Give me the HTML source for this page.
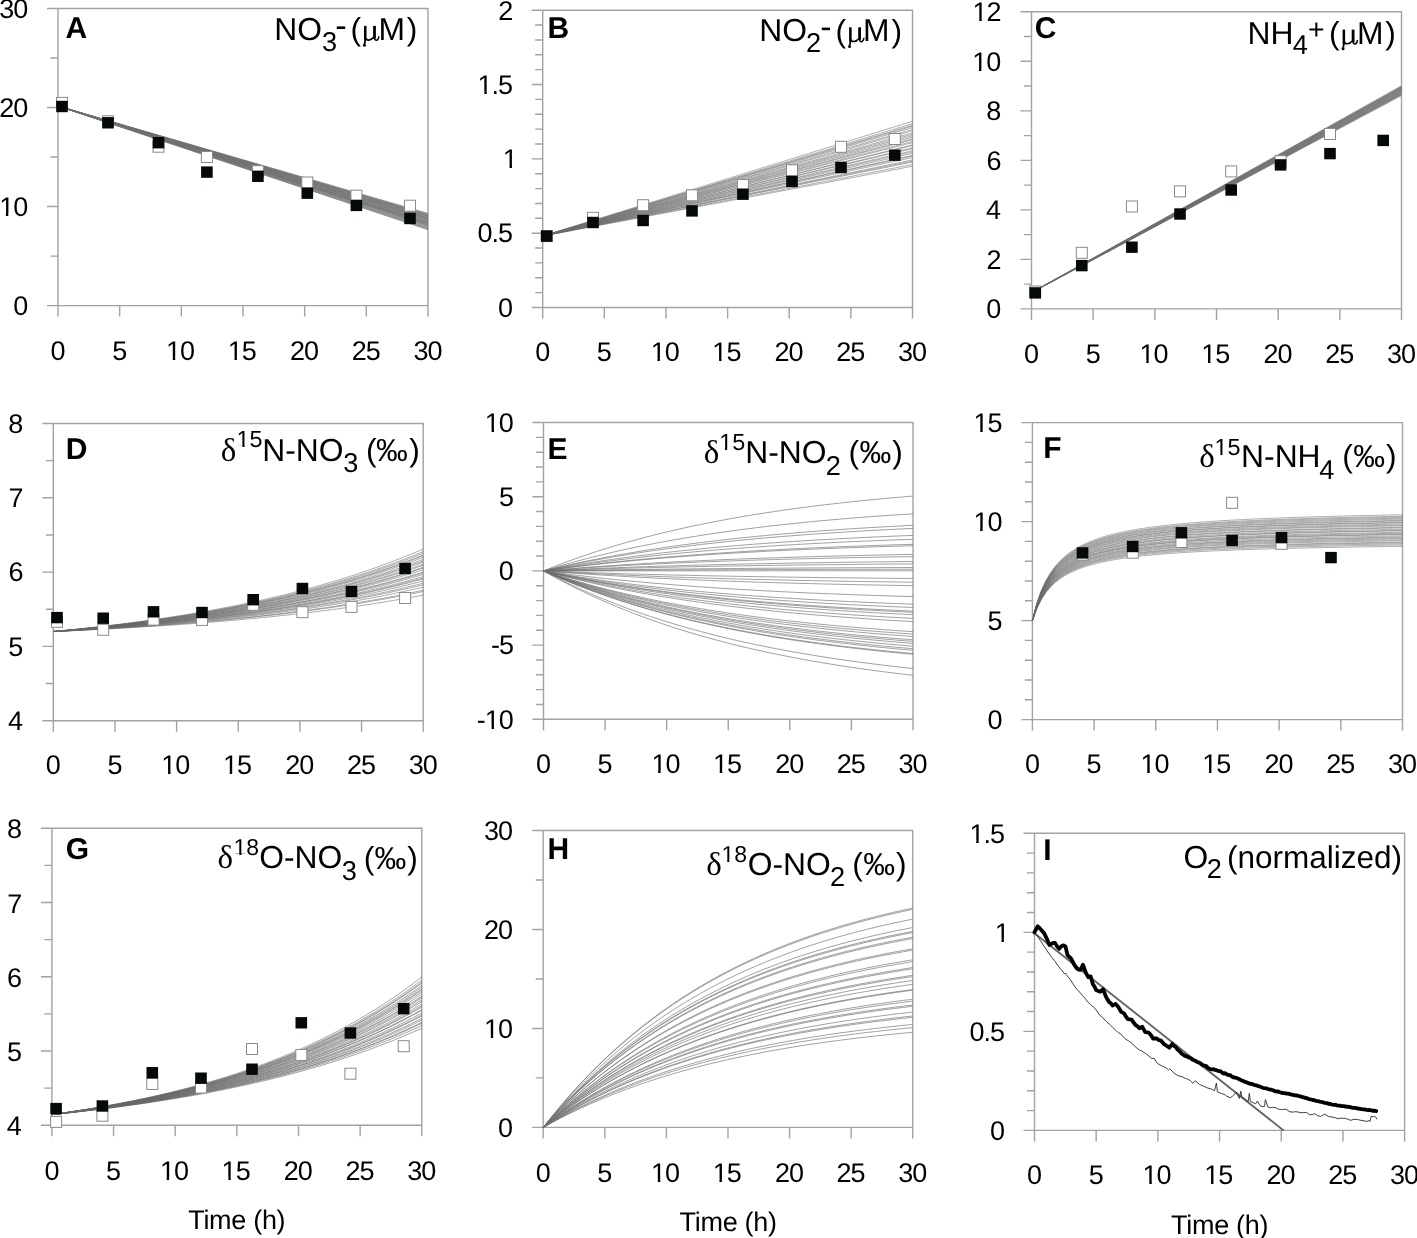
<!DOCTYPE html>
<html><head><meta charset="utf-8"><style>
html,body{margin:0;padding:0;background:#fff;}
body{width:1417px;height:1238px;overflow:hidden;font-family:"Liberation Sans",sans-serif;}
svg{display:block;}
</style></head><body>
<svg width="1417" height="1238" viewBox="0 0 1417 1238" style="will-change:transform;text-rendering:geometricPrecision">
<rect width="1417" height="1238" fill="#fff"/>
<path d="M58 8.5H428V305.6H58ZM47 305.6H58M50.5 256.08H58M47 206.57H58M50.5 157.05H58M47 107.53H58M50.5 58.02H58M47 8.5H58M58 305.6V316.6M119.67 305.6V316.6M181.33 305.6V316.6M243 305.6V316.6M304.67 305.6V316.6M366.33 305.6V316.6M428 305.6V316.6" fill="none" stroke="#a2a2a2" stroke-width="1.4"/>
<path d="M542.7 10.2H912.5V307.5H542.7ZM531.7 307.5H542.7M535.2 292.63H542.7M535.2 277.77H542.7M535.2 262.9H542.7M535.2 248.04H542.7M531.7 233.18H542.7M535.2 218.31H542.7M535.2 203.44H542.7M535.2 188.58H542.7M535.2 173.72H542.7M531.7 158.85H542.7M535.2 143.98H542.7M535.2 129.12H542.7M535.2 114.25H542.7M535.2 99.39H542.7M531.7 84.52H542.7M535.2 69.66H542.7M535.2 54.79H542.7M535.2 39.93H542.7M535.2 25.06H542.7M531.7 10.2H542.7M542.7 307.5V318.5M604.33 307.5V318.5M665.97 307.5V318.5M727.6 307.5V318.5M789.23 307.5V318.5M850.87 307.5V318.5M912.5 307.5V318.5" fill="none" stroke="#a2a2a2" stroke-width="1.4"/>
<path d="M1031.5 11.8H1401.5V308.9H1031.5ZM1020.5 308.9H1031.5M1024 284.14H1031.5M1020.5 259.38H1031.5M1024 234.62H1031.5M1020.5 209.87H1031.5M1024 185.11H1031.5M1020.5 160.35H1031.5M1024 135.59H1031.5M1020.5 110.83H1031.5M1024 86.07H1031.5M1020.5 61.32H1031.5M1024 36.56H1031.5M1020.5 11.8H1031.5M1031.5 308.9V319.9M1093.17 308.9V319.9M1154.83 308.9V319.9M1216.5 308.9V319.9M1278.17 308.9V319.9M1339.83 308.9V319.9M1401.5 308.9V319.9" fill="none" stroke="#a2a2a2" stroke-width="1.4"/>
<path d="M53.3 423.5H423.2V720.7H53.3ZM42.3 720.7H53.3M45.8 683.55H53.3M42.3 646.4H53.3M45.8 609.25H53.3M42.3 572.1H53.3M45.8 534.95H53.3M42.3 497.8H53.3M45.8 460.65H53.3M42.3 423.5H53.3M53.3 720.7V731.7M114.95 720.7V731.7M176.6 720.7V731.7M238.25 720.7V731.7M299.9 720.7V731.7M361.55 720.7V731.7M423.2 720.7V731.7" fill="none" stroke="#a2a2a2" stroke-width="1.4"/>
<path d="M543.5 422.5H913V719.3H543.5ZM532.5 719.3H543.5M536 704.46H543.5M536 689.62H543.5M536 674.78H543.5M536 659.94H543.5M532.5 645.1H543.5M536 630.26H543.5M536 615.42H543.5M536 600.58H543.5M536 585.74H543.5M532.5 570.9H543.5M536 556.06H543.5M536 541.22H543.5M536 526.38H543.5M536 511.54H543.5M532.5 496.7H543.5M536 481.86H543.5M536 467.02H543.5M536 452.18H543.5M536 437.34H543.5M532.5 422.5H543.5M543.5 719.3V730.3M605.08 719.3V730.3M666.67 719.3V730.3M728.25 719.3V730.3M789.83 719.3V730.3M851.42 719.3V730.3M913 719.3V730.3" fill="none" stroke="#a2a2a2" stroke-width="1.4"/>
<path d="M1032.4 422.6H1402.5V719.6H1032.4ZM1021.4 719.6H1032.4M1024.9 699.8H1032.4M1024.9 680H1032.4M1024.9 660.2H1032.4M1024.9 640.4H1032.4M1021.4 620.6H1032.4M1024.9 600.8H1032.4M1024.9 581H1032.4M1024.9 561.2H1032.4M1024.9 541.4H1032.4M1021.4 521.6H1032.4M1024.9 501.8H1032.4M1024.9 482H1032.4M1024.9 462.2H1032.4M1024.9 442.4H1032.4M1021.4 422.6H1032.4M1032.4 719.6V730.6M1094.08 719.6V730.6M1155.77 719.6V730.6M1217.45 719.6V730.6M1279.13 719.6V730.6M1340.82 719.6V730.6M1402.5 719.6V730.6" fill="none" stroke="#a2a2a2" stroke-width="1.4"/>
<path d="M51.9 828.2H421.8V1125.2H51.9ZM40.9 1125.2H51.9M44.4 1088.08H51.9M40.9 1050.95H51.9M44.4 1013.83H51.9M40.9 976.7H51.9M44.4 939.58H51.9M40.9 902.45H51.9M44.4 865.33H51.9M40.9 828.2H51.9M51.9 1125.2V1136.2M113.55 1125.2V1136.2M175.2 1125.2V1136.2M236.85 1125.2V1136.2M298.5 1125.2V1136.2M360.15 1125.2V1136.2M421.8 1125.2V1136.2" fill="none" stroke="#a2a2a2" stroke-width="1.4"/>
<path d="M543.2 830.5H912.75V1127.4H543.2ZM532.2 1127.4H543.2M535.7 1077.92H543.2M532.2 1028.43H543.2M535.7 978.95H543.2M532.2 929.47H543.2M535.7 879.98H543.2M532.2 830.5H543.2M543.2 1127.4V1138.4M604.79 1127.4V1138.4M666.38 1127.4V1138.4M727.98 1127.4V1138.4M789.57 1127.4V1138.4M851.16 1127.4V1138.4M912.75 1127.4V1138.4" fill="none" stroke="#a2a2a2" stroke-width="1.4"/>
<path d="M1034.5 833.3H1404.6V1130.4H1034.5ZM1023.5 1130.4H1034.5M1027 1110.59H1034.5M1027 1090.79H1034.5M1027 1070.98H1034.5M1027 1051.17H1034.5M1023.5 1031.37H1034.5M1027 1011.56H1034.5M1027 991.75H1034.5M1027 971.95H1034.5M1027 952.14H1034.5M1023.5 932.33H1034.5M1027 912.53H1034.5M1027 892.72H1034.5M1027 872.91H1034.5M1027 853.11H1034.5M1023.5 833.3H1034.5M1034.5 1130.4V1141.4M1096.18 1130.4V1141.4M1157.87 1130.4V1141.4M1219.55 1130.4V1141.4M1281.23 1130.4V1141.4M1342.92 1130.4V1141.4M1404.6 1130.4V1141.4" fill="none" stroke="#a2a2a2" stroke-width="1.4"/>
<path d="M58 106.05 243 159.72 428 213.4M58 106.05 243 160.12 428 214.19M58 106.05 243 160.44 428 214.83M58 106.05 243 160.61 428 215.17M58 106.05 243 160.87 428 215.7M58 106.05 243 161.14 428 216.24M58 106.05 243 161.33 428 216.6M58 106.05 243 161.64 428 217.23M58 106.05 243 161.92 428 217.78M58 106.05 243 162.2 428 218.35M58 106.05 243 162.33 428 218.61M58 106.05 243 162.62 428 219.2M58 106.05 243 162.84 428 219.63M58 106.05 243 163.22 428 220.4M58 106.05 243 163.46 428 220.87M58 106.05 243 163.6 428 221.15M58 106.05 243 164.02 428 221.99M58 106.05 243 164.27 428 222.5M58 106.05 243 164.47 428 222.9M58 106.05 243 164.72 428 223.39M58 106.05 243 164.89 428 223.74M58 106.05 243 165.12 428 224.2M58 106.05 243 165.47 428 224.89M58 106.05 243 165.64 428 225.24M58 106.05 243 165.92 428 225.79M58 106.05 243 166.36 428 226.67M58 106.05 243 166.71 428 227.36M58 106.05 243 167.1 428 228.16M58 106.05 243 167.5 428 228.95M58 106.05 243 167.89 428 229.74" fill="none" stroke="#707070" stroke-width="0.7" stroke-linejoin="round"/>
<path d="M542.7 236 727.6 178.62 912.5 121.24M542.7 236 727.6 179.83 912.5 123.66M542.7 236 727.6 180.58 912.5 125.17M542.7 236 727.6 181.06 912.5 126.12M542.7 236 727.6 181.74 912.5 127.48M542.7 236 727.6 182.68 912.5 129.37M542.7 236 727.6 183.38 912.5 130.76M542.7 236 727.6 184.41 912.5 132.83M542.7 236 727.6 185.1 912.5 134.2M542.7 236 727.6 185.81 912.5 135.61M542.7 236 727.6 186.53 912.5 137.07M542.7 236 727.6 187.34 912.5 138.68M542.7 236 727.6 187.82 912.5 139.64M542.7 236 727.6 188.72 912.5 141.45M542.7 236 727.6 189.33 912.5 142.66M542.7 236 727.6 190.47 912.5 144.94M542.7 236 727.6 190.77 912.5 145.55M542.7 236 727.6 191.92 912.5 147.85M542.7 236 727.6 192.28 912.5 148.57M542.7 236 727.6 193.36 912.5 150.71M542.7 236 727.6 193.92 912.5 151.85M542.7 236 727.6 194.71 912.5 153.42M542.7 236 727.6 195.69 912.5 155.38M542.7 236 727.6 196.01 912.5 156.02M542.7 236 727.6 196.78 912.5 157.56M542.7 236 727.6 197.98 912.5 159.96M542.7 236 727.6 198.52 912.5 161.04M542.7 236 727.6 199.05 912.5 162.1M542.7 236 727.6 200.27 912.5 164.54M542.7 236 727.6 201.14 912.5 166.28" fill="none" stroke="#6a6a6a" stroke-width="0.55" stroke-linejoin="round"/>
<path d="M1031.5 292.56 1216.5 189.19 1401.5 85.83M1031.5 292.56 1216.5 189.59 1401.5 86.61M1031.5 292.56 1216.5 189.83 1401.5 87.1M1031.5 292.56 1216.5 190.1 1401.5 87.64M1031.5 292.56 1216.5 190.23 1401.5 87.89M1031.5 292.56 1216.5 190.48 1401.5 88.39M1031.5 292.56 1216.5 190.7 1401.5 88.85M1031.5 292.56 1216.5 190.96 1401.5 89.36M1031.5 292.56 1216.5 191.28 1401.5 90.01M1031.5 292.56 1216.5 191.42 1401.5 90.29M1031.5 292.56 1216.5 191.73 1401.5 90.91M1031.5 292.56 1216.5 191.92 1401.5 91.28M1031.5 292.56 1216.5 192.18 1401.5 91.79M1031.5 292.56 1216.5 192.44 1401.5 92.32M1031.5 292.56 1216.5 192.75 1401.5 92.94M1031.5 292.56 1216.5 192.95 1401.5 93.35M1031.5 292.56 1216.5 193.09 1401.5 93.63M1031.5 292.56 1216.5 193.38 1401.5 94.2M1031.5 292.56 1216.5 193.6 1401.5 94.64M1031.5 292.56 1216.5 194.02 1401.5 95.48" fill="none" stroke="#707070" stroke-width="0.7" stroke-linejoin="round"/>
<path d="M53.3 631.54 62.55 630.63 71.8 629.7 81.04 628.72 90.29 627.71 99.54 626.65 108.78 625.56 118.03 624.43 127.28 623.25 136.53 622.03 145.77 620.76 155.02 619.45 164.27 618.08 173.52 616.66 182.76 615.18 192.01 613.65 201.26 612.07 210.51 610.42 219.75 608.7 229 606.93 238.25 605.08 247.5 603.16 256.75 601.18 265.99 599.11 275.24 596.97 284.49 594.74 293.74 592.43 302.98 590.03 312.23 587.54 321.48 584.95 330.72 582.26 339.97 579.48 349.22 576.58 358.47 573.58 367.71 570.46 376.96 567.22 386.21 563.85 395.46 560.36 404.7 556.74 413.95 552.97 423.2 549.07M53.3 631.54 62.55 630.66 71.8 629.75 81.04 628.81 90.29 627.83 99.54 626.81 108.78 625.75 118.03 624.65 127.28 623.51 136.53 622.32 145.77 621.1 155.02 619.82 164.27 618.49 173.52 617.12 182.76 615.69 192.01 614.21 201.26 612.67 210.51 611.07 219.75 609.41 229 607.69 238.25 605.9 247.5 604.04 256.75 602.11 265.99 600.11 275.24 598.03 284.49 595.88 293.74 593.64 302.98 591.31 312.23 588.9 321.48 586.39 330.72 583.79 339.97 581.09 349.22 578.28 358.47 575.37 367.71 572.35 376.96 569.21 386.21 565.95 395.46 562.56 404.7 559.05 413.95 555.4 423.2 551.62M53.3 631.54 62.55 630.68 71.8 629.79 81.04 628.86 90.29 627.89 99.54 626.89 108.78 625.86 118.03 624.78 127.28 623.66 136.53 622.5 145.77 621.29 155.02 620.04 164.27 618.74 173.52 617.39 182.76 615.99 192.01 614.53 201.26 613.02 210.51 611.45 219.75 609.83 229 608.14 238.25 606.38 247.5 604.56 256.75 602.67 265.99 600.7 275.24 598.66 284.49 596.55 293.74 594.35 302.98 592.07 312.23 589.7 321.48 587.24 330.72 584.68 339.97 582.03 349.22 579.28 358.47 576.42 367.71 573.46 376.96 570.38 386.21 567.18 395.46 563.86 404.7 560.41 413.95 556.83 423.2 553.12M53.3 631.54 62.55 630.7 71.8 629.83 81.04 628.92 90.29 627.98 99.54 627.01 108.78 625.99 118.03 624.94 127.28 623.85 136.53 622.71 145.77 621.54 155.02 620.31 164.27 619.04 173.52 617.73 182.76 616.36 192.01 614.94 201.26 613.46 210.51 611.93 219.75 610.34 229 608.69 238.25 606.98 247.5 605.2 256.75 603.35 265.99 601.44 275.24 599.45 284.49 597.38 293.74 595.23 302.98 593.01 312.23 590.69 321.48 588.29 330.72 585.8 339.97 583.21 349.22 580.52 358.47 577.73 367.71 574.84 376.96 571.83 386.21 568.71 395.46 565.47 404.7 562.1 413.95 558.61 423.2 554.98M53.3 631.54 62.55 630.71 71.8 629.85 81.04 628.95 90.29 628.02 99.54 627.05 108.78 626.05 118.03 625.01 127.28 623.93 136.53 622.81 145.77 621.64 155.02 620.43 164.27 619.18 173.52 617.88 182.76 616.52 192.01 615.12 201.26 613.66 210.51 612.14 219.75 610.57 229 608.94 238.25 607.24 247.5 605.48 256.75 603.66 265.99 601.76 275.24 599.79 284.49 597.75 293.74 595.63 302.98 593.42 312.23 591.13 321.48 588.76 330.72 586.29 339.97 583.73 349.22 581.07 358.47 578.32 367.71 575.45 376.96 572.48 386.21 569.39 395.46 566.18 404.7 562.85 413.95 559.4 423.2 555.81M53.3 631.54 62.55 630.73 71.8 629.88 81.04 629 90.29 628.09 99.54 627.15 108.78 626.16 118.03 625.14 127.28 624.08 136.53 622.99 145.77 621.84 155.02 620.66 164.27 619.43 173.52 618.15 182.76 616.83 192.01 615.45 201.26 614.02 210.51 612.54 219.75 611 229 609.4 238.25 607.74 247.5 606.01 256.75 604.22 265.99 602.37 275.24 600.44 284.49 598.43 293.74 596.35 302.98 594.2 312.23 591.95 321.48 589.63 330.72 587.21 339.97 584.7 349.22 582.1 358.47 579.4 367.71 576.59 376.96 573.67 386.21 570.65 395.46 567.51 404.7 564.25 413.95 560.86 423.2 557.35M53.3 631.54 62.55 630.75 71.8 629.93 81.04 629.07 90.29 628.19 99.54 627.27 108.78 626.31 118.03 625.32 127.28 624.29 136.53 623.22 145.77 622.12 155.02 620.96 164.27 619.77 173.52 618.53 182.76 617.24 192.01 615.9 201.26 614.51 210.51 613.07 219.75 611.57 229 610.02 238.25 608.4 247.5 606.73 256.75 604.99 265.99 603.18 275.24 601.31 284.49 599.36 293.74 597.34 302.98 595.24 312.23 593.06 321.48 590.8 330.72 588.45 339.97 586.01 349.22 583.48 358.47 580.85 367.71 578.12 376.96 575.29 386.21 572.35 395.46 569.3 404.7 566.13 413.95 562.84 423.2 559.42M53.3 631.54 62.55 630.76 71.8 629.96 81.04 629.12 90.29 628.26 99.54 627.36 108.78 626.42 118.03 625.45 127.28 624.44 136.53 623.39 145.77 622.31 155.02 621.18 164.27 620.01 173.52 618.79 182.76 617.53 192.01 616.22 201.26 614.86 210.51 613.45 219.75 611.98 229 610.46 238.25 608.87 247.5 607.23 256.75 605.53 265.99 603.76 275.24 601.92 284.49 600.02 293.74 598.04 302.98 595.98 312.23 593.85 321.48 591.63 330.72 589.33 339.97 586.94 349.22 584.46 358.47 581.89 367.71 579.21 376.96 576.44 386.21 573.56 395.46 570.57 404.7 567.46 413.95 564.24 423.2 560.89M53.3 631.54 62.55 630.78 71.8 629.99 81.04 629.16 90.29 628.31 99.54 627.42 108.78 626.5 118.03 625.55 127.28 624.56 136.53 623.53 145.77 622.46 155.02 621.35 164.27 620.2 173.52 619 182.76 617.76 192.01 616.47 201.26 615.13 210.51 613.74 219.75 612.3 229 610.8 238.25 609.25 247.5 607.63 256.75 605.96 265.99 604.22 275.24 602.41 284.49 600.54 293.74 598.59 302.98 596.57 312.23 594.47 321.48 592.29 330.72 590.03 339.97 587.68 349.22 585.24 358.47 582.71 367.71 580.08 376.96 577.35 386.21 574.52 395.46 571.57 404.7 568.52 413.95 565.35 423.2 562.06M53.3 631.54 62.55 630.8 71.8 630.03 81.04 629.23 90.29 628.4 99.54 627.54 108.78 626.65 118.03 625.72 127.28 624.76 136.53 623.76 145.77 622.72 155.02 621.64 164.27 620.52 173.52 619.36 182.76 618.15 192.01 616.9 201.26 615.6 210.51 614.25 219.75 612.85 229 611.39 238.25 609.88 247.5 608.31 256.75 606.68 265.99 604.99 275.24 603.24 284.49 601.41 293.74 599.52 302.98 597.56 312.23 595.52 321.48 593.4 330.72 591.2 339.97 588.92 349.22 586.55 358.47 584.09 367.71 581.54 376.96 578.88 386.21 576.13 395.46 573.27 404.7 570.31 413.95 567.22 423.2 564.03M53.3 631.54 62.55 630.81 71.8 630.06 81.04 629.27 90.29 628.46 99.54 627.61 108.78 626.74 118.03 625.83 127.28 624.88 136.53 623.9 145.77 622.88 155.02 621.82 164.27 620.72 173.52 619.58 182.76 618.4 192.01 617.17 201.26 615.89 210.51 614.57 219.75 613.19 229 611.76 238.25 610.28 247.5 608.74 256.75 607.14 265.99 605.48 275.24 603.76 284.49 601.97 293.74 600.11 302.98 598.18 312.23 596.18 321.48 594.1 330.72 591.94 339.97 589.7 349.22 587.38 358.47 584.96 367.71 582.46 376.96 579.85 386.21 577.15 395.46 574.34 404.7 571.43 413.95 568.41 423.2 565.27M53.3 631.54 62.55 630.83 71.8 630.1 81.04 629.34 90.29 628.55 99.54 627.73 108.78 626.88 118.03 626 127.28 625.08 136.53 624.13 145.77 623.14 155.02 622.11 164.27 621.04 173.52 619.94 182.76 618.79 192.01 617.59 201.26 616.36 210.51 615.07 219.75 613.73 229 612.35 238.25 610.91 247.5 609.42 256.75 607.86 265.99 606.25 275.24 604.58 284.49 602.85 293.74 601.04 302.98 599.17 312.23 597.23 321.48 595.21 330.72 593.12 339.97 590.95 349.22 588.69 358.47 586.35 367.71 583.91 376.96 581.39 386.21 578.76 395.46 576.04 404.7 573.22 413.95 570.28 423.2 567.23M53.3 631.54 62.55 630.84 71.8 630.12 81.04 629.37 90.29 628.59 99.54 627.78 108.78 626.94 118.03 626.07 127.28 625.16 136.53 624.22 145.77 623.25 155.02 622.23 164.27 621.18 173.52 620.09 182.76 618.95 192.01 617.78 201.26 616.55 210.51 615.28 219.75 613.97 229 612.6 238.25 611.18 247.5 609.7 256.75 608.17 265.99 606.58 275.24 604.93 284.49 603.22 293.74 601.44 302.98 599.59 312.23 597.68 321.48 595.69 330.72 593.62 339.97 591.47 349.22 589.25 358.47 586.93 367.71 584.53 376.96 582.04 386.21 579.45 395.46 576.76 404.7 573.97 413.95 571.08 423.2 568.07M53.3 631.54 62.55 630.86 71.8 630.16 81.04 629.43 90.29 628.67 99.54 627.88 108.78 627.06 118.03 626.21 127.28 625.33 136.53 624.41 145.77 623.46 155.02 622.48 164.27 621.45 173.52 620.39 182.76 619.28 192.01 618.14 201.26 616.95 210.51 615.71 219.75 614.43 229 613.1 238.25 611.71 247.5 610.28 256.75 608.79 265.99 607.24 275.24 605.63 284.49 603.96 293.74 602.23 302.98 600.43 312.23 598.57 321.48 596.63 330.72 594.62 339.97 592.53 349.22 590.36 358.47 588.11 367.71 585.77 376.96 583.34 386.21 580.82 395.46 578.2 404.7 575.49 413.95 572.67 423.2 569.74M53.3 631.54 62.55 630.89 71.8 630.21 81.04 629.5 90.29 628.77 99.54 628.02 108.78 627.23 118.03 626.41 127.28 625.56 136.53 624.68 145.77 623.76 155.02 622.81 164.27 621.83 173.52 620.8 182.76 619.74 192.01 618.63 201.26 617.49 210.51 616.3 219.75 615.06 229 613.78 238.25 612.45 247.5 611.07 256.75 609.63 265.99 608.14 275.24 606.59 284.49 604.99 293.74 603.32 302.98 601.59 312.23 599.79 321.48 597.92 330.72 595.98 339.97 593.97 349.22 591.88 358.47 589.72 367.71 587.46 376.96 585.13 386.21 582.7 395.46 580.18 404.7 577.57 413.95 574.85 423.2 572.03M53.3 631.54 62.55 630.9 71.8 630.23 81.04 629.54 90.29 628.82 99.54 628.07 108.78 627.3 118.03 626.49 127.28 625.66 136.53 624.79 145.77 623.89 155.02 622.95 164.27 621.98 173.52 620.98 182.76 619.93 192.01 618.84 201.26 617.72 210.51 616.54 219.75 615.33 229 614.07 238.25 612.76 247.5 611.4 256.75 609.98 265.99 608.52 275.24 607 284.49 605.42 293.74 603.77 302.98 602.07 312.23 600.3 321.48 598.47 330.72 596.56 339.97 594.58 349.22 592.53 358.47 590.39 367.71 588.18 376.96 585.88 386.21 583.49 395.46 581.01 404.7 578.44 413.95 575.77 423.2 572.99M53.3 631.54 62.55 630.91 71.8 630.26 81.04 629.59 90.29 628.89 99.54 628.16 108.78 627.4 118.03 626.62 127.28 625.8 136.53 624.96 145.77 624.08 155.02 623.17 164.27 622.22 173.52 621.24 182.76 620.22 192.01 619.16 201.26 618.06 210.51 616.92 219.75 615.73 229 614.5 238.25 613.22 247.5 611.89 256.75 610.52 265.99 609.09 275.24 607.6 284.49 606.06 293.74 604.46 302.98 602.8 312.23 601.07 321.48 599.28 330.72 597.42 339.97 595.49 349.22 593.49 358.47 591.41 367.71 589.25 376.96 587.01 386.21 584.68 395.46 582.26 404.7 579.75 413.95 577.15 423.2 574.44M53.3 631.54 62.55 630.94 71.8 630.31 81.04 629.66 90.29 628.99 99.54 628.28 108.78 627.56 118.03 626.8 127.28 626.02 136.53 625.2 145.77 624.36 155.02 623.48 164.27 622.57 173.52 621.62 182.76 620.64 192.01 619.62 201.26 618.56 210.51 617.46 219.75 616.32 229 615.14 238.25 613.91 247.5 612.63 256.75 611.31 265.99 609.93 275.24 608.5 284.49 607.02 293.74 605.48 302.98 603.88 312.23 602.22 321.48 600.5 330.72 598.71 339.97 596.85 349.22 594.92 358.47 592.92 367.71 590.84 376.96 588.68 386.21 586.44 395.46 584.11 404.7 581.7 413.95 579.19 423.2 576.58M53.3 631.54 62.55 630.95 71.8 630.34 81.04 629.71 90.29 629.05 99.54 628.37 108.78 627.66 118.03 626.92 127.28 626.16 136.53 625.36 145.77 624.54 155.02 623.68 164.27 622.79 173.52 621.87 182.76 620.91 192.01 619.92 201.26 618.89 210.51 617.81 219.75 616.7 229 615.55 238.25 614.35 247.5 613.1 256.75 611.81 265.99 610.47 275.24 609.07 284.49 607.63 293.74 606.13 302.98 604.57 312.23 602.95 321.48 601.27 330.72 599.52 339.97 597.71 349.22 595.83 358.47 593.88 367.71 591.85 376.96 589.74 386.21 587.56 395.46 585.29 404.7 582.94 413.95 580.49 423.2 577.95M53.3 631.54 62.55 630.96 71.8 630.36 81.04 629.74 90.29 629.1 99.54 628.43 108.78 627.73 118.03 627.01 127.28 626.26 136.53 625.48 145.77 624.67 155.02 623.83 164.27 622.96 173.52 622.06 182.76 621.12 192.01 620.14 201.26 619.13 210.51 618.08 219.75 616.99 229 615.85 238.25 614.68 247.5 613.46 256.75 612.19 265.99 610.87 275.24 609.51 284.49 608.09 293.74 606.61 302.98 605.08 312.23 603.5 321.48 601.85 330.72 600.14 339.97 598.36 349.22 596.52 358.47 594.6 367.71 592.61 376.96 590.55 386.21 588.4 395.46 586.18 404.7 583.87 413.95 581.47 423.2 578.98M53.3 631.54 62.55 630.98 71.8 630.41 81.04 629.81 90.29 629.19 99.54 628.54 108.78 627.88 118.03 627.18 127.28 626.46 136.53 625.71 145.77 624.93 155.02 624.12 164.27 623.29 173.52 622.42 182.76 621.51 192.01 620.57 201.26 619.6 210.51 618.59 219.75 617.54 229 616.45 238.25 615.32 247.5 614.14 256.75 612.92 265.99 611.65 275.24 610.34 284.49 608.98 293.74 607.56 302.98 606.09 312.23 604.56 321.48 602.97 330.72 601.33 339.97 599.62 349.22 597.84 358.47 596 367.71 594.09 376.96 592.1 386.21 590.04 395.46 587.9 404.7 585.67 413.95 583.37 423.2 580.97M53.3 631.54 62.55 631.01 71.8 630.46 81.04 629.89 90.29 629.3 99.54 628.68 108.78 628.04 118.03 627.38 127.28 626.69 136.53 625.97 145.77 625.23 155.02 624.46 164.27 623.66 173.52 622.83 182.76 621.96 192.01 621.07 201.26 620.14 210.51 619.17 219.75 618.17 229 617.13 238.25 616.05 247.5 614.92 256.75 613.76 265.99 612.55 275.24 611.29 284.49 609.99 293.74 608.64 302.98 607.23 312.23 605.77 321.48 604.26 330.72 602.69 339.97 601.05 349.22 599.36 358.47 597.6 367.71 595.77 376.96 593.87 386.21 591.9 395.46 589.86 404.7 587.74 413.95 585.53 423.2 583.25M53.3 631.54 62.55 631.03 71.8 630.49 81.04 629.94 90.29 629.36 99.54 628.77 108.78 628.15 118.03 627.5 127.28 626.84 136.53 626.14 145.77 625.42 155.02 624.68 164.27 623.9 173.52 623.09 182.76 622.26 192.01 621.39 201.26 620.49 210.51 619.55 219.75 618.58 229 617.57 238.25 616.52 247.5 615.44 256.75 614.31 265.99 613.13 275.24 611.92 284.49 610.65 293.74 609.34 302.98 607.98 312.23 606.57 321.48 605.1 330.72 603.57 339.97 601.99 349.22 600.35 358.47 598.64 367.71 596.87 376.96 595.03 386.21 593.12 395.46 591.14 404.7 589.08 413.95 586.95 423.2 584.73M53.3 631.54 62.55 631.05 71.8 630.55 81.04 630.02 90.29 629.48 99.54 628.91 108.78 628.32 118.03 627.71 127.28 627.08 136.53 626.42 145.77 625.74 155.02 625.03 164.27 624.29 173.52 623.53 182.76 622.74 192.01 621.91 201.26 621.06 210.51 620.17 219.75 619.25 229 618.29 238.25 617.3 247.5 616.26 256.75 615.19 265.99 614.08 275.24 612.93 284.49 611.73 293.74 610.48 302.98 609.19 312.23 607.85 321.48 606.46 330.72 605.01 339.97 603.51 349.22 601.95 358.47 600.34 367.71 598.66 376.96 596.91 386.21 595.1 395.46 593.22 404.7 591.27 413.95 589.24 423.2 587.14M53.3 631.54 62.55 631.09 71.8 630.62 81.04 630.13 90.29 629.62 99.54 629.1 108.78 628.55 118.03 627.98 127.28 627.39 136.53 626.78 145.77 626.15 155.02 625.49 164.27 624.8 173.52 624.09 182.76 623.36 192.01 622.59 201.26 621.8 210.51 620.97 219.75 620.11 229 619.22 238.25 618.3 247.5 617.34 256.75 616.35 265.99 615.31 275.24 614.24 284.49 613.13 293.74 611.97 302.98 610.77 312.23 609.52 321.48 608.23 330.72 606.89 339.97 605.49 349.22 604.04 358.47 602.54 367.71 600.98 376.96 599.36 386.21 597.67 395.46 595.93 404.7 594.11 413.95 592.23 423.2 590.28M53.3 631.54 62.55 631.1 71.8 630.64 81.04 630.17 90.29 629.68 99.54 629.17 108.78 628.64 118.03 628.09 127.28 627.52 136.53 626.93 145.77 626.31 155.02 625.67 164.27 625.01 173.52 624.32 182.76 623.6 192.01 622.86 201.26 622.09 210.51 621.29 219.75 620.46 229 619.59 238.25 618.7 247.5 617.77 256.75 616.8 265.99 615.8 275.24 614.76 284.49 613.68 293.74 612.56 302.98 611.39 312.23 610.18 321.48 608.93 330.72 607.63 339.97 606.27 349.22 604.87 358.47 603.41 367.71 601.9 376.96 600.32 386.21 598.69 395.46 597 404.7 595.24 413.95 593.41 423.2 591.51M53.3 631.54 62.55 631.14 71.8 630.73 81.04 630.29 90.29 629.85 99.54 629.38 108.78 628.9 118.03 628.4 127.28 627.88 136.53 627.34 145.77 626.78 155.02 626.2 164.27 625.6 173.52 624.97 182.76 624.32 192.01 623.64 201.26 622.94 210.51 622.22 219.75 621.46 229 620.67 238.25 619.86 247.5 619.01 256.75 618.14 265.99 617.22 275.24 616.28 284.49 615.29 293.74 614.27 302.98 613.21 312.23 612.12 321.48 610.97 330.72 609.79 339.97 608.56 349.22 607.28 358.47 605.95 367.71 604.58 376.96 603.15 386.21 601.66 395.46 600.12 404.7 598.52 413.95 596.86 423.2 595.13" fill="none" stroke="#666" stroke-width="0.55" stroke-linejoin="round"/>
<path d="M543.5 570.9 552.74 567.2 561.98 563.64 571.21 560.23 580.45 556.95 589.69 553.8 598.92 550.77 608.16 547.87 617.4 545.08 626.64 542.4 635.88 539.83 645.11 537.36 654.35 534.99 663.59 532.71 672.83 530.53 682.06 528.43 691.3 526.41 700.54 524.48 709.77 522.62 719.01 520.83 728.25 519.12 737.49 517.47 746.73 515.89 755.96 514.37 765.2 512.91 774.44 511.51 783.67 510.17 792.91 508.88 802.15 507.64 811.39 506.45 820.62 505.31 829.86 504.21 839.1 503.16 848.34 502.14 857.58 501.17 866.81 500.24 876.05 499.34 885.29 498.48 894.52 497.66 903.76 496.86 913 496.1M543.5 570.9 552.74 568.07 561.98 565.36 571.21 562.75 580.45 560.25 589.69 557.84 598.92 555.54 608.16 553.32 617.4 551.19 626.64 549.15 635.88 547.18 645.11 545.3 654.35 543.49 663.59 541.75 672.83 540.08 682.06 538.48 691.3 536.94 700.54 535.46 709.77 534.04 719.01 532.68 728.25 531.37 737.49 530.11 746.73 528.91 755.96 527.75 765.2 526.64 774.44 525.57 783.67 524.54 792.91 523.56 802.15 522.61 811.39 521.7 820.62 520.83 829.86 519.99 839.1 519.19 848.34 518.41 857.58 517.67 866.81 516.96 876.05 516.28 885.29 515.62 894.52 514.99 903.76 514.38 913 513.8M543.5 570.9 552.74 568.64 561.98 566.47 571.21 564.39 580.45 562.39 589.69 560.47 598.92 558.63 608.16 556.86 617.4 555.16 626.64 553.53 635.88 551.96 645.11 550.45 654.35 549.01 663.59 547.62 672.83 546.29 682.06 545.01 691.3 543.78 700.54 542.6 709.77 541.47 719.01 540.38 728.25 539.33 737.49 538.33 746.73 537.36 755.96 536.44 765.2 535.55 774.44 534.7 783.67 533.88 792.91 533.09 802.15 532.34 811.39 531.61 820.62 530.91 829.86 530.24 839.1 529.6 848.34 528.98 857.58 528.39 866.81 527.82 876.05 527.28 885.29 526.75 894.52 526.25 903.76 525.76 913 525.3M543.5 570.9 552.74 568.8 561.98 566.78 571.21 564.83 580.45 562.97 589.69 561.18 598.92 559.46 608.16 557.81 617.4 556.23 626.64 554.71 635.88 553.25 645.11 551.84 654.35 550.5 663.59 549.2 672.83 547.96 682.06 546.77 691.3 545.62 700.54 544.52 709.77 543.47 719.01 542.45 728.25 541.48 737.49 540.54 746.73 539.64 755.96 538.78 765.2 537.95 774.44 537.16 783.67 536.39 792.91 535.66 802.15 534.96 811.39 534.28 820.62 533.63 829.86 533.01 839.1 532.41 848.34 531.83 857.58 531.28 866.81 530.75 876.05 530.24 885.29 529.75 894.52 529.28 903.76 528.83 913 528.4M543.5 570.9 552.74 569.14 561.98 567.45 571.21 565.83 580.45 564.28 589.69 562.78 598.92 561.35 608.16 559.97 617.4 558.65 626.64 557.38 635.88 556.15 645.11 554.98 654.35 553.86 663.59 552.78 672.83 551.74 682.06 550.74 691.3 549.79 700.54 548.87 709.77 547.98 719.01 547.14 728.25 546.32 737.49 545.54 746.73 544.79 755.96 544.07 765.2 543.38 774.44 542.72 783.67 542.08 792.91 541.47 802.15 540.88 811.39 540.31 820.62 539.77 829.86 539.25 839.1 538.75 848.34 538.27 857.58 537.81 866.81 537.36 876.05 536.94 885.29 536.53 894.52 536.14 903.76 535.76 913 535.4M543.5 570.9 552.74 569.34 561.98 567.83 571.21 566.39 580.45 565 589.69 563.67 598.92 562.4 608.16 561.17 617.4 559.99 626.64 558.86 635.88 557.77 645.11 556.73 654.35 555.73 663.59 554.77 672.83 553.84 682.06 552.96 691.3 552.11 700.54 551.29 709.77 550.5 719.01 549.75 728.25 549.02 737.49 548.33 746.73 547.66 755.96 547.02 765.2 546.4 774.44 545.81 783.67 545.24 792.91 544.7 802.15 544.18 811.39 543.67 820.62 543.19 829.86 542.73 839.1 542.28 848.34 541.85 857.58 541.44 866.81 541.05 876.05 540.67 885.29 540.31 894.52 539.96 903.76 539.62 913 539.3M543.5 570.9 552.74 569.58 561.98 568.32 571.21 567.1 580.45 565.94 589.69 564.82 598.92 563.74 608.16 562.71 617.4 561.72 626.64 560.77 635.88 559.85 645.11 558.97 654.35 558.13 663.59 557.32 672.83 556.54 682.06 555.8 691.3 555.08 700.54 554.39 709.77 553.73 719.01 553.09 728.25 552.49 737.49 551.9 746.73 551.34 755.96 550.8 765.2 550.28 774.44 549.78 783.67 549.3 792.91 548.84 802.15 548.4 811.39 547.98 820.62 547.57 829.86 547.18 839.1 546.81 848.34 546.45 857.58 546.1 866.81 545.77 876.05 545.45 885.29 545.15 894.52 544.85 903.76 544.57 913 544.3M543.5 570.9 552.74 569.65 561.98 568.45 571.21 567.3 580.45 566.2 589.69 565.14 598.92 564.12 608.16 563.14 617.4 562.2 626.64 561.3 635.88 560.43 645.11 559.6 654.35 558.8 663.59 558.04 672.83 557.3 682.06 556.59 691.3 555.91 700.54 555.26 709.77 554.63 719.01 554.03 728.25 553.45 737.49 552.9 746.73 552.37 755.96 551.86 765.2 551.36 774.44 550.89 783.67 550.44 792.91 550.01 802.15 549.59 811.39 549.19 820.62 548.8 829.86 548.43 839.1 548.08 848.34 547.74 857.58 547.41 866.81 547.09 876.05 546.79 885.29 546.5 894.52 546.22 903.76 545.96 913 545.7M543.5 570.9 552.74 570.08 561.98 569.3 571.21 568.55 580.45 567.82 589.69 567.13 598.92 566.46 608.16 565.82 617.4 565.2 626.64 564.61 635.88 564.05 645.11 563.5 654.35 562.98 663.59 562.48 672.83 561.99 682.06 561.53 691.3 561.09 700.54 560.66 709.77 560.25 719.01 559.86 728.25 559.48 737.49 559.11 746.73 558.77 755.96 558.43 765.2 558.11 774.44 557.8 783.67 557.5 792.91 557.22 802.15 556.95 811.39 556.68 820.62 556.43 829.86 556.19 839.1 555.96 848.34 555.73 857.58 555.52 866.81 555.31 876.05 555.12 885.29 554.93 894.52 554.74 903.76 554.57 913 554.4M543.5 570.9 552.74 570.19 561.98 569.51 571.21 568.86 580.45 568.23 589.69 567.63 598.92 567.05 608.16 566.5 617.4 565.96 626.64 565.45 635.88 564.96 645.11 564.49 654.35 564.04 663.59 563.6 672.83 563.18 682.06 562.78 691.3 562.39 700.54 562.02 709.77 561.67 719.01 561.33 728.25 561 737.49 560.69 746.73 560.38 755.96 560.09 765.2 559.81 774.44 559.55 783.67 559.29 792.91 559.04 802.15 558.81 811.39 558.58 820.62 558.36 829.86 558.15 839.1 557.95 848.34 557.76 857.58 557.57 866.81 557.39 876.05 557.22 885.29 557.06 894.52 556.9 903.76 556.75 913 556.6M543.5 570.9 552.74 570.43 561.98 569.99 571.21 569.56 580.45 569.15 589.69 568.75 598.92 568.37 608.16 568.01 617.4 567.66 626.64 567.32 635.88 567 645.11 566.69 654.35 566.39 663.59 566.1 672.83 565.83 682.06 565.56 691.3 565.31 700.54 565.07 709.77 564.83 719.01 564.61 728.25 564.39 737.49 564.19 746.73 563.99 755.96 563.8 765.2 563.61 774.44 563.44 783.67 563.27 792.91 563.11 802.15 562.95 811.39 562.8 820.62 562.66 829.86 562.52 839.1 562.39 848.34 562.26 857.58 562.14 866.81 562.02 876.05 561.91 885.29 561.8 894.52 561.7 903.76 561.6 913 561.5M543.5 570.9 552.74 570.55 561.98 570.22 571.21 569.9 580.45 569.59 589.69 569.3 598.92 569.02 608.16 568.74 617.4 568.48 626.64 568.23 635.88 567.99 645.11 567.76 654.35 567.54 663.59 567.33 672.83 567.12 682.06 566.93 691.3 566.74 700.54 566.56 709.77 566.38 719.01 566.21 728.25 566.05 737.49 565.9 746.73 565.75 755.96 565.61 765.2 565.47 774.44 565.34 783.67 565.22 792.91 565.1 802.15 564.98 811.39 564.87 820.62 564.76 829.86 564.66 839.1 564.56 848.34 564.47 857.58 564.37 866.81 564.29 876.05 564.2 885.29 564.12 894.52 564.05 903.76 563.97 913 563.9M543.5 570.9 552.74 570.73 561.98 570.57 571.21 570.41 580.45 570.27 589.69 570.12 598.92 569.99 608.16 569.85 617.4 569.73 626.64 569.6 635.88 569.49 645.11 569.38 654.35 569.27 663.59 569.16 672.83 569.06 682.06 568.97 691.3 568.88 700.54 568.79 709.77 568.71 719.01 568.62 728.25 568.55 737.49 568.47 746.73 568.4 755.96 568.33 765.2 568.26 774.44 568.2 783.67 568.14 792.91 568.08 802.15 568.02 811.39 567.97 820.62 567.92 829.86 567.87 839.1 567.82 848.34 567.77 857.58 567.73 866.81 567.69 876.05 567.65 885.29 567.61 894.52 567.57 903.76 567.53 913 567.5M543.5 570.9 552.74 570.82 561.98 570.74 571.21 570.66 580.45 570.58 589.69 570.51 598.92 570.44 608.16 570.38 617.4 570.31 626.64 570.25 635.88 570.19 645.11 570.14 654.35 570.08 663.59 570.03 672.83 569.98 682.06 569.93 691.3 569.89 700.54 569.84 709.77 569.8 719.01 569.76 728.25 569.72 737.49 569.69 746.73 569.65 755.96 569.62 765.2 569.58 774.44 569.55 783.67 569.52 792.91 569.49 802.15 569.46 811.39 569.44 820.62 569.41 829.86 569.38 839.1 569.36 848.34 569.34 857.58 569.32 866.81 569.29 876.05 569.27 885.29 569.25 894.52 569.24 903.76 569.22 913 569.2M543.5 570.9 552.74 570.9 561.98 570.89 571.21 570.89 580.45 570.88 589.69 570.88 598.92 570.87 608.16 570.87 617.4 570.87 626.64 570.86 635.88 570.86 645.11 570.86 654.35 570.85 663.59 570.85 672.83 570.85 682.06 570.84 691.3 570.84 700.54 570.84 709.77 570.84 719.01 570.83 728.25 570.83 737.49 570.83 746.73 570.83 755.96 570.82 765.2 570.82 774.44 570.82 783.67 570.82 792.91 570.82 802.15 570.82 811.39 570.81 820.62 570.81 829.86 570.81 839.1 570.81 848.34 570.81 857.58 570.81 866.81 570.81 876.05 570.8 885.29 570.8 894.52 570.8 903.76 570.8 913 570.8M543.5 570.9 552.74 571.28 561.98 571.64 571.21 571.98 580.45 572.32 589.69 572.64 598.92 572.95 608.16 573.24 617.4 573.52 626.64 573.8 635.88 574.06 645.11 574.31 654.35 574.55 663.59 574.78 672.83 575 682.06 575.22 691.3 575.42 700.54 575.62 709.77 575.81 719.01 575.99 728.25 576.16 737.49 576.33 746.73 576.49 755.96 576.64 765.2 576.79 774.44 576.93 783.67 577.07 792.91 577.2 802.15 577.33 811.39 577.45 820.62 577.56 829.86 577.68 839.1 577.78 848.34 577.89 857.58 577.98 866.81 578.08 876.05 578.17 885.29 578.26 894.52 578.34 903.76 578.42 913 578.5M543.5 570.9 552.74 571.46 561.98 572 571.21 572.51 580.45 573.01 589.69 573.48 598.92 573.94 608.16 574.38 617.4 574.8 626.64 575.21 635.88 575.59 645.11 575.97 654.35 576.32 663.59 576.67 672.83 577 682.06 577.32 691.3 577.62 700.54 577.91 709.77 578.19 719.01 578.46 728.25 578.72 737.49 578.97 746.73 579.21 755.96 579.44 765.2 579.66 774.44 579.87 783.67 580.07 792.91 580.27 802.15 580.46 811.39 580.64 820.62 580.81 829.86 580.97 839.1 581.13 848.34 581.29 857.58 581.43 866.81 581.57 876.05 581.71 885.29 581.84 894.52 581.97 903.76 582.08 913 582.2M543.5 570.9 552.74 571.63 561.98 572.34 571.21 573.01 580.45 573.66 589.69 574.28 598.92 574.88 608.16 575.46 617.4 576.01 626.64 576.54 635.88 577.05 645.11 577.54 654.35 578.01 663.59 578.46 672.83 578.89 682.06 579.3 691.3 579.7 700.54 580.09 709.77 580.45 719.01 580.81 728.25 581.15 737.49 581.47 746.73 581.78 755.96 582.08 765.2 582.37 774.44 582.65 783.67 582.92 792.91 583.17 802.15 583.42 811.39 583.65 820.62 583.88 829.86 584.1 839.1 584.3 848.34 584.5 857.58 584.7 866.81 584.88 876.05 585.06 885.29 585.23 894.52 585.39 903.76 585.55 913 585.7M543.5 570.9 552.74 572.17 561.98 573.39 571.21 574.57 580.45 575.69 589.69 576.78 598.92 577.82 608.16 578.81 617.4 579.77 626.64 580.69 635.88 581.57 645.11 582.42 654.35 583.24 663.59 584.02 672.83 584.77 682.06 585.49 691.3 586.19 700.54 586.85 709.77 587.49 719.01 588.1 728.25 588.69 737.49 589.26 746.73 589.8 755.96 590.32 765.2 590.82 774.44 591.3 783.67 591.77 792.91 592.21 802.15 592.63 811.39 593.04 820.62 593.44 829.86 593.81 839.1 594.18 848.34 594.52 857.58 594.86 866.81 595.18 876.05 595.49 885.29 595.78 894.52 596.07 903.76 596.34 913 596.6M543.5 570.9 552.74 572.55 561.98 574.13 571.21 575.65 580.45 577.11 589.69 578.51 598.92 579.86 608.16 581.15 617.4 582.39 626.64 583.59 635.88 584.73 645.11 585.83 654.35 586.89 663.59 587.9 672.83 588.87 682.06 589.81 691.3 590.71 700.54 591.57 709.77 592.4 719.01 593.19 728.25 593.95 737.49 594.69 746.73 595.39 755.96 596.07 765.2 596.71 774.44 597.34 783.67 597.94 792.91 598.51 802.15 599.06 811.39 599.59 820.62 600.1 829.86 600.59 839.1 601.06 848.34 601.51 857.58 601.94 866.81 602.36 876.05 602.76 885.29 603.14 894.52 603.51 903.76 603.86 913 604.2M543.5 570.9 552.74 572.71 561.98 574.45 571.21 576.12 580.45 577.73 589.69 579.27 598.92 580.75 608.16 582.17 617.4 583.53 626.64 584.84 635.88 586.1 645.11 587.31 654.35 588.47 663.59 589.58 672.83 590.65 682.06 591.68 691.3 592.67 700.54 593.62 709.77 594.53 719.01 595.4 728.25 596.24 737.49 597.04 746.73 597.82 755.96 598.56 765.2 599.27 774.44 599.96 783.67 600.62 792.91 601.25 802.15 601.85 811.39 602.44 820.62 602.99 829.86 603.53 839.1 604.05 848.34 604.54 857.58 605.02 866.81 605.47 876.05 605.91 885.29 606.33 894.52 606.74 903.76 607.13 913 607.5M543.5 570.9 552.74 572.89 561.98 574.8 571.21 576.64 580.45 578.4 589.69 580.09 598.92 581.72 608.16 583.28 617.4 584.78 626.64 586.22 635.88 587.6 645.11 588.92 654.35 590.2 663.59 591.42 672.83 592.6 682.06 593.73 691.3 594.81 700.54 595.85 709.77 596.85 719.01 597.81 728.25 598.73 737.49 599.61 746.73 600.46 755.96 601.28 765.2 602.06 774.44 602.82 783.67 603.54 792.91 604.23 802.15 604.9 811.39 605.54 820.62 606.15 829.86 606.74 839.1 607.31 848.34 607.85 857.58 608.37 866.81 608.88 876.05 609.36 885.29 609.82 894.52 610.26 903.76 610.69 913 611.1M543.5 570.9 552.74 572.95 561.98 574.92 571.21 576.81 580.45 578.62 589.69 580.37 598.92 582.04 608.16 583.65 617.4 585.19 626.64 586.67 635.88 588.1 645.11 589.46 654.35 590.77 663.59 592.04 672.83 593.25 682.06 594.41 691.3 595.52 700.54 596.59 709.77 597.62 719.01 598.61 728.25 599.56 737.49 600.47 746.73 601.35 755.96 602.19 765.2 602.99 774.44 603.77 783.67 604.51 792.91 605.23 802.15 605.91 811.39 606.57 820.62 607.2 829.86 607.81 839.1 608.39 848.34 608.95 857.58 609.49 866.81 610.01 876.05 610.51 885.29 610.98 894.52 611.44 903.76 611.88 913 612.3M543.5 570.9 552.74 573.07 561.98 575.15 571.21 577.15 580.45 579.07 589.69 580.92 598.92 582.69 608.16 584.39 617.4 586.02 626.64 587.59 635.88 589.09 645.11 590.54 654.35 591.93 663.59 593.26 672.83 594.54 682.06 595.77 691.3 596.95 700.54 598.08 709.77 599.17 719.01 600.22 728.25 601.22 737.49 602.19 746.73 603.11 755.96 604 765.2 604.85 774.44 605.67 783.67 606.46 792.91 607.22 802.15 607.94 811.39 608.64 820.62 609.31 829.86 609.95 839.1 610.57 848.34 611.16 857.58 611.73 866.81 612.28 876.05 612.8 885.29 613.31 894.52 613.79 903.76 614.25 913 614.7M543.5 570.9 552.74 573.25 561.98 575.51 571.21 577.68 580.45 579.76 589.69 581.76 598.92 583.68 608.16 585.53 617.4 587.3 626.64 589 635.88 590.63 645.11 592.2 654.35 593.7 663.59 595.15 672.83 596.54 682.06 597.87 691.3 599.15 700.54 600.38 709.77 601.56 719.01 602.69 728.25 603.78 737.49 604.83 746.73 605.83 755.96 606.8 765.2 607.72 774.44 608.61 783.67 609.46 792.91 610.28 802.15 611.07 811.39 611.83 820.62 612.55 829.86 613.25 839.1 613.92 848.34 614.56 857.58 615.18 866.81 615.77 876.05 616.34 885.29 616.89 894.52 617.41 903.76 617.92 913 618.4M543.5 570.9 552.74 573.41 561.98 575.82 571.21 578.14 580.45 580.36 589.69 582.49 598.92 584.54 608.16 586.51 617.4 588.4 626.64 590.22 635.88 591.96 645.11 593.63 654.35 595.24 663.59 596.78 672.83 598.26 682.06 599.69 691.3 601.05 700.54 602.37 709.77 603.63 719.01 604.84 728.25 606 737.49 607.11 746.73 608.19 755.96 609.21 765.2 610.2 774.44 611.15 783.67 612.06 792.91 612.94 802.15 613.78 811.39 614.58 820.62 615.36 829.86 616.1 839.1 616.82 848.34 617.5 857.58 618.16 866.81 618.79 876.05 619.4 885.29 619.99 894.52 620.55 903.76 621.08 913 621.6M543.5 570.9 552.74 573.91 561.98 576.8 571.21 579.58 580.45 582.24 589.69 584.8 598.92 587.26 608.16 589.62 617.4 591.89 626.64 594.06 635.88 596.15 645.11 598.16 654.35 600.09 663.59 601.94 672.83 603.72 682.06 605.42 691.3 607.06 700.54 608.64 709.77 610.15 719.01 611.6 728.25 612.99 737.49 614.33 746.73 615.61 755.96 616.85 765.2 618.03 774.44 619.17 783.67 620.26 792.91 621.31 802.15 622.32 811.39 623.29 820.62 624.22 829.86 625.11 839.1 625.96 848.34 626.79 857.58 627.58 866.81 628.34 876.05 629.06 885.29 629.76 894.52 630.44 903.76 631.08 913 631.7M543.5 570.9 552.74 574.03 561.98 577.03 571.21 579.92 580.45 582.69 589.69 585.35 598.92 587.91 608.16 590.36 617.4 592.72 626.64 594.98 635.88 597.15 645.11 599.24 654.35 601.24 663.59 603.16 672.83 605.01 682.06 606.79 691.3 608.49 700.54 610.12 709.77 611.7 719.01 613.2 728.25 614.65 737.49 616.04 746.73 617.38 755.96 618.66 765.2 619.89 774.44 621.08 783.67 622.21 792.91 623.3 802.15 624.35 811.39 625.35 820.62 626.32 829.86 627.25 839.1 628.14 848.34 628.99 857.58 629.81 866.81 630.6 876.05 631.36 885.29 632.09 894.52 632.79 903.76 633.46 913 634.1M543.5 570.9 552.74 574.15 561.98 577.27 571.21 580.26 580.45 583.14 589.69 585.9 598.92 588.55 608.16 591.1 617.4 593.54 626.64 595.89 635.88 598.15 645.11 600.31 654.35 602.39 663.59 604.39 672.83 606.31 682.06 608.15 691.3 609.92 700.54 611.61 709.77 613.24 719.01 614.81 728.25 616.31 737.49 617.76 746.73 619.14 755.96 620.48 765.2 621.75 774.44 622.98 783.67 624.16 792.91 625.29 802.15 626.38 811.39 627.42 820.62 628.43 829.86 629.39 839.1 630.31 848.34 631.2 857.58 632.05 866.81 632.87 876.05 633.66 885.29 634.41 894.52 635.14 903.76 635.83 913 636.5M543.5 570.9 552.74 574.31 561.98 577.59 571.21 580.73 580.45 583.75 589.69 586.65 598.92 589.44 608.16 592.11 617.4 594.68 626.64 597.15 635.88 599.52 645.11 601.79 654.35 603.98 663.59 606.07 672.83 608.09 682.06 610.02 691.3 611.88 700.54 613.66 709.77 615.37 719.01 617.02 728.25 618.6 737.49 620.11 746.73 621.57 755.96 622.97 765.2 624.31 774.44 625.6 783.67 626.84 792.91 628.03 802.15 629.17 811.39 630.27 820.62 631.32 829.86 632.33 839.1 633.3 848.34 634.23 857.58 635.13 866.81 635.99 876.05 636.81 885.29 637.61 894.52 638.37 903.76 639.1 913 639.8M543.5 570.9 552.74 574.39 561.98 577.74 571.21 580.96 580.45 584.05 589.69 587.02 598.92 589.87 608.16 592.61 617.4 595.24 626.64 597.76 635.88 600.18 645.11 602.51 654.35 604.74 663.59 606.89 672.83 608.95 682.06 610.93 691.3 612.83 700.54 614.66 709.77 616.41 719.01 618.09 728.25 619.71 737.49 621.26 746.73 622.75 755.96 624.18 765.2 625.55 774.44 626.87 783.67 628.14 792.91 629.35 802.15 630.52 811.39 631.64 820.62 632.72 829.86 633.76 839.1 634.75 848.34 635.7 857.58 636.62 866.81 637.5 876.05 638.34 885.29 639.16 894.52 639.93 903.76 640.68 913 641.4M543.5 570.9 552.74 574.49 561.98 577.94 571.21 581.25 580.45 584.43 589.69 587.48 598.92 590.41 608.16 593.22 617.4 595.93 626.64 598.52 635.88 601.01 645.11 603.41 654.35 605.7 663.59 607.91 672.83 610.03 682.06 612.07 691.3 614.02 700.54 615.9 709.77 617.7 719.01 619.43 728.25 621.09 737.49 622.69 746.73 624.22 755.96 625.69 765.2 627.1 774.44 628.46 783.67 629.76 792.91 631.01 802.15 632.21 811.39 633.37 820.62 634.48 829.86 635.54 839.1 636.56 848.34 637.54 857.58 638.48 866.81 639.39 876.05 640.26 885.29 641.09 894.52 641.89 903.76 642.66 913 643.4M543.5 570.9 552.74 574.63 561.98 578.21 571.21 581.65 580.45 584.95 589.69 588.12 598.92 591.16 608.16 594.09 617.4 596.89 626.64 599.59 635.88 602.18 645.11 604.66 654.35 607.05 663.59 609.34 672.83 611.54 682.06 613.66 691.3 615.69 700.54 617.63 709.77 619.51 719.01 621.3 728.25 623.03 737.49 624.69 746.73 626.28 755.96 627.81 765.2 629.27 774.44 630.68 783.67 632.04 792.91 633.33 802.15 634.58 811.39 635.78 820.62 636.93 829.86 638.04 839.1 639.1 848.34 640.12 857.58 641.09 866.81 642.03 876.05 642.94 885.29 643.8 894.52 644.63 903.76 645.43 913 646.2M543.5 570.9 552.74 574.75 561.98 578.45 571.21 582 580.45 585.41 589.69 588.69 598.92 591.83 608.16 594.86 617.4 597.76 626.64 600.54 635.88 603.21 645.11 605.78 654.35 608.25 663.59 610.62 672.83 612.89 682.06 615.08 691.3 617.17 700.54 619.19 709.77 621.12 719.01 622.98 728.25 624.76 737.49 626.47 746.73 628.12 755.96 629.69 765.2 631.21 774.44 632.67 783.67 634.07 792.91 635.41 802.15 636.7 811.39 637.93 820.62 639.12 829.86 640.27 839.1 641.36 848.34 642.41 857.58 643.42 866.81 644.4 876.05 645.33 885.29 646.22 894.52 647.08 903.76 647.91 913 648.7M543.5 570.9 552.74 574.83 561.98 578.61 571.21 582.23 580.45 585.71 589.69 589.06 598.92 592.27 608.16 595.35 617.4 598.31 626.64 601.15 635.88 603.88 645.11 606.5 654.35 609.02 663.59 611.43 672.83 613.76 682.06 615.98 691.3 618.12 700.54 620.18 709.77 622.15 719.01 624.05 728.25 625.87 737.49 627.61 746.73 629.29 755.96 630.9 765.2 632.45 774.44 633.94 783.67 635.36 792.91 636.73 802.15 638.05 811.39 639.31 820.62 640.53 829.86 641.69 839.1 642.81 848.34 643.88 857.58 644.92 866.81 645.91 876.05 646.86 885.29 647.77 894.52 648.65 903.76 649.49 913 650.3M543.5 570.9 552.74 574.99 561.98 578.92 571.21 582.69 580.45 586.31 589.69 589.79 598.92 593.13 608.16 596.33 617.4 599.41 626.64 602.37 635.88 605.21 645.11 607.94 654.35 610.55 663.59 613.07 672.83 615.48 682.06 617.8 691.3 620.03 700.54 622.17 709.77 624.22 719.01 626.19 728.25 628.08 737.49 629.9 746.73 631.65 755.96 633.32 765.2 634.93 774.44 636.48 783.67 637.96 792.91 639.39 802.15 640.76 811.39 642.07 820.62 643.33 829.86 644.54 839.1 645.71 848.34 646.83 857.58 647.9 866.81 648.93 876.05 649.92 885.29 650.87 894.52 651.78 903.76 652.66 913 653.5M543.5 570.9 552.74 575.03 561.98 578.99 571.21 582.8 580.45 586.46 589.69 589.97 598.92 593.34 608.16 596.58 617.4 599.69 626.64 602.67 635.88 605.54 645.11 608.29 654.35 610.94 663.59 613.48 672.83 615.91 682.06 618.26 691.3 620.5 700.54 622.66 709.77 624.73 719.01 626.72 728.25 628.64 737.49 630.47 746.73 632.23 755.96 633.93 765.2 635.55 774.44 637.11 783.67 638.61 792.91 640.05 802.15 641.43 811.39 642.76 820.62 644.03 829.86 645.26 839.1 646.43 848.34 647.56 857.58 648.65 866.81 649.69 876.05 650.68 885.29 651.64 894.52 652.57 903.76 653.45 913 654.3M543.5 570.9 552.74 575.73 561.98 580.37 571.21 584.83 580.45 589.11 589.69 593.22 598.92 597.16 608.16 600.95 617.4 604.59 626.64 608.08 635.88 611.44 645.11 614.66 654.35 617.75 663.59 620.73 672.83 623.58 682.06 626.32 691.3 628.95 700.54 631.47 709.77 633.9 719.01 636.23 728.25 638.47 737.49 640.61 746.73 642.68 755.96 644.66 765.2 646.56 774.44 648.39 783.67 650.14 792.91 651.82 802.15 653.44 811.39 654.99 820.62 656.49 829.86 657.92 839.1 659.29 848.34 660.61 857.58 661.88 866.81 663.1 876.05 664.27 885.29 665.39 894.52 666.47 903.76 667.51 913 668.5M543.5 570.9 552.74 576.07 561.98 581.03 571.21 585.8 580.45 590.38 589.69 594.77 598.92 598.99 608.16 603.05 617.4 606.94 626.64 610.67 635.88 614.26 645.11 617.71 654.35 621.02 663.59 624.2 672.83 627.25 682.06 630.18 691.3 632.99 700.54 635.7 709.77 638.29 719.01 640.78 728.25 643.17 737.49 645.47 746.73 647.68 755.96 649.8 765.2 651.83 774.44 653.79 783.67 655.66 792.91 657.46 802.15 659.19 811.39 660.85 820.62 662.45 829.86 663.98 839.1 665.45 848.34 666.86 857.58 668.22 866.81 669.52 876.05 670.77 885.29 671.98 894.52 673.13 903.76 674.24 913 675.3" fill="none" stroke="#6e6e6e" stroke-width="0.65" stroke-linejoin="round"/>
<path d="M1032.4 620.6 1037.03 602.78 1041.65 589.82 1046.28 579.97 1050.91 572.23 1055.53 565.99 1060.16 560.85 1064.78 556.54 1069.41 552.88 1074.04 549.73 1078.66 547 1083.29 544.59 1087.91 542.47 1092.54 540.57 1097.17 538.87 1101.79 537.34 1106.42 535.96 1111.05 534.69 1115.67 533.54 1120.3 532.48 1124.93 531.5 1129.55 530.6 1134.18 529.76 1138.8 528.98 1143.43 528.26 1148.06 527.58 1152.68 526.95 1157.31 526.36 1161.93 525.8 1166.56 525.27 1171.19 524.78 1175.81 524.31 1180.44 523.86 1185.07 523.44 1189.69 523.04 1194.32 522.66 1198.95 522.3 1203.57 521.96 1208.2 521.63 1212.82 521.32 1217.45 521.02 1222.08 520.73 1226.7 520.46 1231.33 520.19 1235.96 519.94 1240.58 519.7 1245.21 519.47 1249.83 519.24 1254.46 519.03 1259.09 518.82 1263.71 518.62 1268.34 518.42 1272.97 518.24 1277.59 518.06 1282.22 517.88 1286.84 517.72 1291.47 517.55 1296.1 517.4 1300.72 517.24 1305.35 517.1 1309.97 516.95 1314.6 516.81 1319.23 516.68 1323.85 516.55 1328.48 516.42 1333.11 516.3 1337.73 516.18 1342.36 516.06 1346.99 515.95 1351.61 515.84 1356.24 515.73 1360.86 515.63 1365.49 515.52 1370.12 515.42 1374.74 515.33 1379.37 515.23 1383.99 515.14 1388.62 515.05 1393.25 514.96 1397.87 514.88 1402.5 514.79M1032.4 620.6 1037.03 603.03 1041.65 590.25 1046.28 580.53 1050.91 572.9 1055.53 566.75 1060.16 561.68 1064.78 557.43 1069.41 553.82 1074.04 550.72 1078.66 548.02 1083.29 545.65 1087.91 543.55 1092.54 541.68 1097.17 540.01 1101.79 538.5 1106.42 537.13 1111.05 535.88 1115.67 534.74 1120.3 533.7 1124.93 532.73 1129.55 531.84 1134.18 531.02 1138.8 530.25 1143.43 529.54 1148.06 528.87 1152.68 528.25 1157.31 527.66 1161.93 527.11 1166.56 526.59 1171.19 526.1 1175.81 525.64 1180.44 525.2 1185.07 524.79 1189.69 524.39 1194.32 524.02 1198.95 523.66 1203.57 523.33 1208.2 523 1212.82 522.69 1217.45 522.4 1222.08 522.11 1226.7 521.84 1231.33 521.58 1235.96 521.34 1240.58 521.1 1245.21 520.87 1249.83 520.65 1254.46 520.43 1259.09 520.23 1263.71 520.03 1268.34 519.84 1272.97 519.66 1277.59 519.48 1282.22 519.31 1286.84 519.14 1291.47 518.98 1296.1 518.83 1300.72 518.68 1305.35 518.53 1309.97 518.39 1314.6 518.25 1319.23 518.12 1323.85 517.99 1328.48 517.86 1333.11 517.74 1337.73 517.62 1342.36 517.51 1346.99 517.4 1351.61 517.29 1356.24 517.18 1360.86 517.08 1365.49 516.98 1370.12 516.88 1374.74 516.79 1379.37 516.69 1383.99 516.6 1388.62 516.51 1393.25 516.43 1397.87 516.34 1402.5 516.26M1032.4 620.6 1037.03 603.19 1041.65 590.52 1046.28 580.9 1050.91 573.33 1055.53 567.23 1060.16 562.21 1064.78 558 1069.41 554.43 1074.04 551.35 1078.66 548.67 1083.29 546.32 1087.91 544.24 1092.54 542.39 1097.17 540.73 1101.79 539.24 1106.42 537.88 1111.05 536.65 1115.67 535.52 1120.3 534.48 1124.93 533.53 1129.55 532.65 1134.18 531.83 1138.8 531.07 1143.43 530.36 1148.06 529.7 1152.68 529.08 1157.31 528.5 1161.93 527.96 1166.56 527.44 1171.19 526.96 1175.81 526.5 1180.44 526.06 1185.07 525.65 1189.69 525.26 1194.32 524.89 1198.95 524.54 1203.57 524.2 1208.2 523.88 1212.82 523.58 1217.45 523.28 1222.08 523 1226.7 522.74 1231.33 522.48 1235.96 522.23 1240.58 522 1245.21 521.77 1249.83 521.55 1254.46 521.34 1259.09 521.13 1263.71 520.94 1268.34 520.75 1272.97 520.57 1277.59 520.39 1282.22 520.22 1286.84 520.06 1291.47 519.9 1296.1 519.75 1300.72 519.6 1305.35 519.45 1309.97 519.31 1314.6 519.18 1319.23 519.04 1323.85 518.92 1328.48 518.79 1333.11 518.67 1337.73 518.55 1342.36 518.44 1346.99 518.33 1351.61 518.22 1356.24 518.12 1360.86 518.01 1365.49 517.91 1370.12 517.82 1374.74 517.72 1379.37 517.63 1383.99 517.54 1388.62 517.45 1393.25 517.37 1397.87 517.28 1402.5 517.2M1032.4 620.6 1037.03 603.36 1041.65 590.81 1046.28 581.28 1050.91 573.79 1055.53 567.75 1060.16 562.78 1064.78 558.61 1069.41 555.07 1074.04 552.02 1078.66 549.37 1083.29 547.05 1087.91 544.99 1092.54 543.15 1097.17 541.51 1101.79 540.03 1106.42 538.69 1111.05 537.46 1115.67 536.35 1120.3 535.32 1124.93 534.38 1129.55 533.5 1134.18 532.69 1138.8 531.94 1143.43 531.24 1148.06 530.59 1152.68 529.97 1157.31 529.4 1161.93 528.86 1166.56 528.35 1171.19 527.87 1175.81 527.41 1180.44 526.98 1185.07 526.58 1189.69 526.19 1194.32 525.82 1198.95 525.47 1203.57 525.14 1208.2 524.82 1212.82 524.52 1217.45 524.23 1222.08 523.95 1226.7 523.69 1231.33 523.43 1235.96 523.19 1240.58 522.96 1245.21 522.73 1249.83 522.51 1254.46 522.3 1259.09 522.1 1263.71 521.91 1268.34 521.72 1272.97 521.54 1277.59 521.37 1282.22 521.2 1286.84 521.04 1291.47 520.88 1296.1 520.73 1300.72 520.58 1305.35 520.44 1309.97 520.3 1314.6 520.16 1319.23 520.03 1323.85 519.91 1328.48 519.78 1333.11 519.66 1337.73 519.55 1342.36 519.44 1346.99 519.33 1351.61 519.22 1356.24 519.11 1360.86 519.01 1365.49 518.91 1370.12 518.82 1374.74 518.72 1379.37 518.63 1383.99 518.54 1388.62 518.46 1393.25 518.37 1397.87 518.29 1402.5 518.21M1032.4 620.6 1037.03 603.52 1041.65 591.09 1046.28 581.65 1050.91 574.23 1055.53 568.25 1060.16 563.32 1064.78 559.19 1069.41 555.68 1074.04 552.66 1078.66 550.04 1083.29 547.74 1087.91 545.7 1092.54 543.88 1097.17 542.25 1101.79 540.79 1106.42 539.46 1111.05 538.24 1115.67 537.14 1120.3 536.12 1124.93 535.18 1129.55 534.32 1134.18 533.52 1138.8 532.77 1143.43 532.08 1148.06 531.43 1152.68 530.82 1157.31 530.25 1161.93 529.72 1166.56 529.21 1171.19 528.74 1175.81 528.29 1180.44 527.86 1185.07 527.46 1189.69 527.08 1194.32 526.71 1198.95 526.37 1203.57 526.04 1208.2 525.72 1212.82 525.42 1217.45 525.14 1222.08 524.86 1226.7 524.6 1231.33 524.35 1235.96 524.1 1240.58 523.87 1245.21 523.65 1249.83 523.43 1254.46 523.23 1259.09 523.03 1263.71 522.84 1268.34 522.65 1272.97 522.47 1277.59 522.3 1282.22 522.13 1286.84 521.97 1291.47 521.81 1296.1 521.66 1300.72 521.52 1305.35 521.38 1309.97 521.24 1314.6 521.11 1319.23 520.98 1323.85 520.85 1328.48 520.73 1333.11 520.61 1337.73 520.5 1342.36 520.38 1346.99 520.28 1351.61 520.17 1356.24 520.07 1360.86 519.97 1365.49 519.87 1370.12 519.77 1374.74 519.68 1379.37 519.59 1383.99 519.5 1388.62 519.42 1393.25 519.33 1397.87 519.25 1402.5 519.17M1032.4 620.6 1037.03 603.71 1041.65 591.43 1046.28 582.09 1050.91 574.76 1055.53 568.85 1060.16 563.97 1064.78 559.89 1069.41 556.42 1074.04 553.44 1078.66 550.84 1083.29 548.57 1087.91 546.55 1092.54 544.76 1097.17 543.15 1101.79 541.7 1106.42 540.38 1111.05 539.18 1115.67 538.09 1120.3 537.08 1124.93 536.16 1129.55 535.3 1134.18 534.51 1138.8 533.77 1143.43 533.09 1148.06 532.45 1152.68 531.85 1157.31 531.28 1161.93 530.75 1166.56 530.26 1171.19 529.79 1175.81 529.34 1180.44 528.92 1185.07 528.52 1189.69 528.14 1194.32 527.78 1198.95 527.44 1203.57 527.12 1208.2 526.81 1212.82 526.51 1217.45 526.22 1222.08 525.95 1226.7 525.69 1231.33 525.44 1235.96 525.2 1240.58 524.97 1245.21 524.75 1249.83 524.54 1254.46 524.34 1259.09 524.14 1263.71 523.95 1268.34 523.77 1272.97 523.59 1277.59 523.42 1282.22 523.26 1286.84 523.1 1291.47 522.94 1296.1 522.79 1300.72 522.65 1305.35 522.51 1309.97 522.37 1314.6 522.24 1319.23 522.11 1323.85 521.99 1328.48 521.87 1333.11 521.75 1337.73 521.64 1342.36 521.53 1346.99 521.42 1351.61 521.32 1356.24 521.21 1360.86 521.11 1365.49 521.02 1370.12 520.92 1374.74 520.83 1379.37 520.74 1383.99 520.66 1388.62 520.57 1393.25 520.49 1397.87 520.41 1402.5 520.33M1032.4 620.6 1037.03 603.83 1041.65 591.64 1046.28 582.37 1050.91 575.09 1055.53 569.21 1060.16 564.38 1064.78 560.32 1069.41 556.88 1074.04 553.92 1078.66 551.34 1083.29 549.08 1087.91 547.08 1092.54 545.29 1097.17 543.7 1101.79 542.26 1106.42 540.95 1111.05 539.76 1115.67 538.67 1120.3 537.68 1124.93 536.76 1129.55 535.91 1134.18 535.12 1138.8 534.39 1143.43 533.71 1148.06 533.07 1152.68 532.48 1157.31 531.92 1161.93 531.39 1166.56 530.9 1171.19 530.43 1175.81 529.99 1180.44 529.57 1185.07 529.18 1189.69 528.8 1194.32 528.44 1198.95 528.1 1203.57 527.78 1208.2 527.47 1212.82 527.18 1217.45 526.89 1222.08 526.62 1226.7 526.37 1231.33 526.12 1235.96 525.88 1240.58 525.65 1245.21 525.43 1249.83 525.22 1254.46 525.02 1259.09 524.82 1263.71 524.64 1268.34 524.45 1272.97 524.28 1277.59 524.11 1282.22 523.95 1286.84 523.79 1291.47 523.63 1296.1 523.49 1300.72 523.34 1305.35 523.2 1309.97 523.07 1314.6 522.94 1319.23 522.81 1323.85 522.69 1328.48 522.57 1333.11 522.45 1337.73 522.34 1342.36 522.23 1346.99 522.12 1351.61 522.02 1356.24 521.92 1360.86 521.82 1365.49 521.72 1370.12 521.63 1374.74 521.54 1379.37 521.45 1383.99 521.36 1388.62 521.28 1393.25 521.2 1397.87 521.12 1402.5 521.04M1032.4 620.6 1037.03 604.04 1041.65 592 1046.28 582.85 1050.91 575.66 1055.53 569.86 1060.16 565.08 1064.78 561.08 1069.41 557.68 1074.04 554.75 1078.66 552.21 1083.29 549.97 1087.91 548 1092.54 546.24 1097.17 544.66 1101.79 543.24 1106.42 541.95 1111.05 540.77 1115.67 539.7 1120.3 538.71 1124.93 537.81 1129.55 536.97 1134.18 536.19 1138.8 535.47 1143.43 534.8 1148.06 534.17 1152.68 533.58 1157.31 533.03 1161.93 532.51 1166.56 532.02 1171.19 531.56 1175.81 531.12 1180.44 530.71 1185.07 530.32 1189.69 529.95 1194.32 529.6 1198.95 529.26 1203.57 528.94 1208.2 528.64 1212.82 528.34 1217.45 528.07 1222.08 527.8 1226.7 527.54 1231.33 527.3 1235.96 527.07 1240.58 526.84 1245.21 526.62 1249.83 526.42 1254.46 526.22 1259.09 526.02 1263.71 525.84 1268.34 525.66 1272.97 525.48 1277.59 525.32 1282.22 525.16 1286.84 525 1291.47 524.85 1296.1 524.7 1300.72 524.56 1305.35 524.42 1309.97 524.29 1314.6 524.16 1319.23 524.04 1323.85 523.91 1328.48 523.8 1333.11 523.68 1337.73 523.57 1342.36 523.46 1346.99 523.36 1351.61 523.25 1356.24 523.15 1360.86 523.06 1365.49 522.96 1370.12 522.87 1374.74 522.78 1379.37 522.69 1383.99 522.61 1388.62 522.52 1393.25 522.44 1397.87 522.36 1402.5 522.28M1032.4 620.6 1037.03 604.13 1041.65 592.16 1046.28 583.06 1050.91 575.91 1055.53 570.14 1060.16 565.39 1064.78 561.41 1069.41 558.03 1074.04 555.12 1078.66 552.59 1083.29 550.37 1087.91 548.41 1092.54 546.66 1097.17 545.09 1101.79 543.67 1106.42 542.39 1111.05 541.22 1115.67 540.16 1120.3 539.18 1124.93 538.27 1129.55 537.44 1134.18 536.67 1138.8 535.95 1143.43 535.28 1148.06 534.66 1152.68 534.07 1157.31 533.52 1161.93 533.01 1166.56 532.52 1171.19 532.06 1175.81 531.63 1180.44 531.22 1185.07 530.83 1189.69 530.46 1194.32 530.11 1198.95 529.78 1203.57 529.46 1208.2 529.15 1212.82 528.87 1217.45 528.59 1222.08 528.32 1226.7 528.07 1231.33 527.83 1235.96 527.59 1240.58 527.37 1245.21 527.15 1249.83 526.95 1254.46 526.75 1259.09 526.56 1263.71 526.37 1268.34 526.19 1272.97 526.02 1277.59 525.85 1282.22 525.69 1286.84 525.54 1291.47 525.39 1296.1 525.24 1300.72 525.1 1305.35 524.97 1309.97 524.83 1314.6 524.7 1319.23 524.58 1323.85 524.46 1328.48 524.34 1333.11 524.23 1337.73 524.12 1342.36 524.01 1346.99 523.9 1351.61 523.8 1356.24 523.7 1360.86 523.61 1365.49 523.51 1370.12 523.42 1374.74 523.33 1379.37 523.24 1383.99 523.16 1388.62 523.08 1393.25 522.99 1397.87 522.92 1402.5 522.84M1032.4 620.6 1037.03 604.33 1041.65 592.51 1046.28 583.52 1050.91 576.45 1055.53 570.76 1060.16 566.06 1064.78 562.13 1069.41 558.79 1074.04 555.92 1078.66 553.42 1083.29 551.22 1087.91 549.28 1092.54 547.55 1097.17 546 1101.79 544.61 1106.42 543.34 1111.05 542.19 1115.67 541.13 1120.3 540.17 1124.93 539.27 1129.55 538.45 1134.18 537.69 1138.8 536.98 1143.43 536.32 1148.06 535.7 1152.68 535.12 1157.31 534.58 1161.93 534.07 1166.56 533.59 1171.19 533.14 1175.81 532.71 1180.44 532.3 1185.07 531.92 1189.69 531.55 1194.32 531.21 1198.95 530.88 1203.57 530.57 1208.2 530.27 1212.82 529.98 1217.45 529.71 1222.08 529.44 1226.7 529.19 1231.33 528.95 1235.96 528.72 1240.58 528.5 1245.21 528.29 1249.83 528.09 1254.46 527.89 1259.09 527.7 1263.71 527.52 1268.34 527.34 1272.97 527.17 1277.59 527.01 1282.22 526.85 1286.84 526.69 1291.47 526.54 1296.1 526.4 1300.72 526.26 1305.35 526.13 1309.97 526 1314.6 525.87 1319.23 525.75 1323.85 525.63 1328.48 525.51 1333.11 525.4 1337.73 525.29 1342.36 525.18 1346.99 525.08 1351.61 524.98 1356.24 524.88 1360.86 524.78 1365.49 524.69 1370.12 524.6 1374.74 524.51 1379.37 524.43 1383.99 524.34 1388.62 524.26 1393.25 524.18 1397.87 524.1 1402.5 524.03M1032.4 620.6 1037.03 604.5 1041.65 592.8 1046.28 583.9 1050.91 576.91 1055.53 571.28 1060.16 566.63 1064.78 562.74 1069.41 559.44 1074.04 556.59 1078.66 554.12 1083.29 551.95 1087.91 550.03 1092.54 548.32 1097.17 546.78 1101.79 545.4 1106.42 544.15 1111.05 543.01 1115.67 541.96 1120.3 541.01 1124.93 540.12 1129.55 539.31 1134.18 538.55 1138.8 537.85 1143.43 537.2 1148.06 536.59 1152.68 536.01 1157.31 535.48 1161.93 534.97 1166.56 534.5 1171.19 534.05 1175.81 533.63 1180.44 533.23 1185.07 532.85 1189.69 532.49 1194.32 532.14 1198.95 531.82 1203.57 531.51 1208.2 531.21 1212.82 530.93 1217.45 530.66 1222.08 530.4 1226.7 530.15 1231.33 529.91 1235.96 529.68 1240.58 529.46 1245.21 529.25 1249.83 529.05 1254.46 528.86 1259.09 528.67 1263.71 528.49 1268.34 528.31 1272.97 528.15 1277.59 527.98 1282.22 527.83 1286.84 527.67 1291.47 527.53 1296.1 527.39 1300.72 527.25 1305.35 527.11 1309.97 526.98 1314.6 526.86 1319.23 526.74 1323.85 526.62 1328.48 526.5 1333.11 526.39 1337.73 526.28 1342.36 526.18 1346.99 526.08 1351.61 525.98 1356.24 525.88 1360.86 525.79 1365.49 525.69 1370.12 525.6 1374.74 525.52 1379.37 525.43 1383.99 525.35 1388.62 525.27 1393.25 525.19 1397.87 525.11 1402.5 525.03M1032.4 620.6 1037.03 604.65 1041.65 593.05 1046.28 584.23 1050.91 577.3 1055.53 571.72 1060.16 567.12 1064.78 563.26 1069.41 559.98 1074.04 557.16 1078.66 554.71 1083.29 552.56 1087.91 550.66 1092.54 548.96 1097.17 547.44 1101.79 546.07 1106.42 544.83 1111.05 543.7 1115.67 542.66 1120.3 541.72 1124.93 540.84 1129.55 540.03 1134.18 539.29 1138.8 538.59 1143.43 537.94 1148.06 537.34 1152.68 536.77 1157.31 536.24 1161.93 535.74 1166.56 535.27 1171.19 534.82 1175.81 534.4 1180.44 534.01 1185.07 533.63 1189.69 533.27 1194.32 532.93 1198.95 532.61 1203.57 532.3 1208.2 532.01 1212.82 531.73 1217.45 531.46 1222.08 531.2 1226.7 530.96 1231.33 530.72 1235.96 530.49 1240.58 530.28 1245.21 530.07 1249.83 529.87 1254.46 529.68 1259.09 529.49 1263.71 529.31 1268.34 529.14 1272.97 528.97 1277.59 528.81 1282.22 528.65 1286.84 528.5 1291.47 528.36 1296.1 528.22 1300.72 528.08 1305.35 527.95 1309.97 527.82 1314.6 527.7 1319.23 527.58 1323.85 527.46 1328.48 527.34 1333.11 527.23 1337.73 527.13 1342.36 527.02 1346.99 526.92 1351.61 526.82 1356.24 526.73 1360.86 526.63 1365.49 526.54 1370.12 526.45 1374.74 526.36 1379.37 526.28 1383.99 526.2 1388.62 526.12 1393.25 526.04 1397.87 525.96 1402.5 525.89M1032.4 620.6 1037.03 604.88 1041.65 593.45 1046.28 584.77 1050.91 577.94 1055.53 572.44 1060.16 567.91 1064.78 564.11 1069.41 560.88 1074.04 558.1 1078.66 555.69 1083.29 553.57 1087.91 551.69 1092.54 550.02 1097.17 548.52 1101.79 547.17 1106.42 545.95 1111.05 544.84 1115.67 543.82 1120.3 542.88 1124.93 542.02 1129.55 541.23 1134.18 540.49 1138.8 539.8 1143.43 539.16 1148.06 538.57 1152.68 538.01 1157.31 537.49 1161.93 536.99 1166.56 536.53 1171.19 536.09 1175.81 535.68 1180.44 535.29 1185.07 534.92 1189.69 534.56 1194.32 534.23 1198.95 533.91 1203.57 533.61 1208.2 533.32 1212.82 533.04 1217.45 532.78 1222.08 532.52 1226.7 532.28 1231.33 532.05 1235.96 531.83 1240.58 531.61 1245.21 531.41 1249.83 531.21 1254.46 531.02 1259.09 530.84 1263.71 530.66 1268.34 530.49 1272.97 530.33 1277.59 530.17 1282.22 530.01 1286.84 529.87 1291.47 529.72 1296.1 529.58 1300.72 529.45 1305.35 529.32 1309.97 529.19 1314.6 529.07 1319.23 528.95 1323.85 528.84 1328.48 528.72 1333.11 528.62 1337.73 528.51 1342.36 528.41 1346.99 528.31 1351.61 528.21 1356.24 528.11 1360.86 528.02 1365.49 527.93 1370.12 527.84 1374.74 527.76 1379.37 527.68 1383.99 527.59 1388.62 527.52 1393.25 527.44 1397.87 527.36 1402.5 527.29M1032.4 620.6 1037.03 605 1041.65 593.65 1046.28 585.03 1050.91 578.26 1055.53 572.79 1060.16 568.29 1064.78 564.52 1069.41 561.32 1074.04 558.56 1078.66 556.17 1083.29 554.06 1087.91 552.2 1092.54 550.54 1097.17 549.06 1101.79 547.72 1106.42 546.5 1111.05 545.39 1115.67 544.38 1120.3 543.46 1124.93 542.6 1129.55 541.81 1134.18 541.08 1138.8 540.4 1143.43 539.76 1148.06 539.17 1152.68 538.62 1157.31 538.1 1161.93 537.61 1166.56 537.15 1171.19 536.71 1175.81 536.3 1180.44 535.91 1185.07 535.55 1189.69 535.2 1194.32 534.86 1198.95 534.55 1203.57 534.25 1208.2 533.96 1212.82 533.69 1217.45 533.42 1222.08 533.17 1226.7 532.93 1231.33 532.7 1235.96 532.48 1240.58 532.27 1245.21 532.07 1249.83 531.87 1254.46 531.68 1259.09 531.5 1263.71 531.32 1268.34 531.15 1272.97 530.99 1277.59 530.83 1282.22 530.68 1286.84 530.53 1291.47 530.39 1296.1 530.25 1300.72 530.12 1305.35 529.99 1309.97 529.87 1314.6 529.74 1319.23 529.63 1323.85 529.51 1328.48 529.4 1333.11 529.29 1337.73 529.19 1342.36 529.09 1346.99 528.99 1351.61 528.89 1356.24 528.8 1360.86 528.7 1365.49 528.61 1370.12 528.53 1374.74 528.44 1379.37 528.36 1383.99 528.28 1388.62 528.2 1393.25 528.12 1397.87 528.05 1402.5 527.98M1032.4 620.6 1037.03 605.22 1041.65 594.04 1046.28 585.54 1050.91 578.86 1055.53 573.47 1060.16 569.04 1064.78 565.32 1069.41 562.16 1074.04 559.45 1078.66 557.08 1083.29 555.01 1087.91 553.17 1092.54 551.54 1097.17 550.07 1101.79 548.75 1106.42 547.55 1111.05 546.46 1115.67 545.47 1120.3 544.55 1124.93 543.71 1129.55 542.93 1134.18 542.21 1138.8 541.54 1143.43 540.91 1148.06 540.33 1152.68 539.78 1157.31 539.27 1161.93 538.79 1166.56 538.33 1171.19 537.91 1175.81 537.5 1180.44 537.12 1185.07 536.76 1189.69 536.41 1194.32 536.08 1198.95 535.77 1203.57 535.48 1208.2 535.19 1212.82 534.92 1217.45 534.66 1222.08 534.42 1226.7 534.18 1231.33 533.95 1235.96 533.73 1240.58 533.53 1245.21 533.32 1249.83 533.13 1254.46 532.94 1259.09 532.77 1263.71 532.59 1268.34 532.43 1272.97 532.27 1277.59 532.11 1282.22 531.96 1286.84 531.81 1291.47 531.67 1296.1 531.54 1300.72 531.41 1305.35 531.28 1309.97 531.16 1314.6 531.04 1319.23 530.92 1323.85 530.81 1328.48 530.7 1333.11 530.59 1337.73 530.49 1342.36 530.39 1346.99 530.29 1351.61 530.19 1356.24 530.1 1360.86 530.01 1365.49 529.92 1370.12 529.84 1374.74 529.75 1379.37 529.67 1383.99 529.59 1388.62 529.51 1393.25 529.44 1397.87 529.36 1402.5 529.29M1032.4 620.6 1037.03 605.41 1041.65 594.36 1046.28 585.96 1050.91 579.36 1055.53 574.04 1060.16 569.66 1064.78 565.99 1069.41 562.87 1074.04 560.18 1078.66 557.85 1083.29 555.8 1087.91 553.99 1092.54 552.37 1097.17 550.92 1101.79 549.62 1106.42 548.43 1111.05 547.36 1115.67 546.37 1120.3 545.47 1124.93 544.64 1129.55 543.87 1134.18 543.15 1138.8 542.49 1143.43 541.87 1148.06 541.3 1152.68 540.76 1157.31 540.25 1161.93 539.78 1166.56 539.33 1171.19 538.9 1175.81 538.5 1180.44 538.13 1185.07 537.77 1189.69 537.43 1194.32 537.1 1198.95 536.8 1203.57 536.5 1208.2 536.22 1212.82 535.96 1217.45 535.7 1222.08 535.46 1226.7 535.22 1231.33 535 1235.96 534.78 1240.58 534.58 1245.21 534.38 1249.83 534.19 1254.46 534 1259.09 533.82 1263.71 533.65 1268.34 533.49 1272.97 533.33 1277.59 533.18 1282.22 533.03 1286.84 532.89 1291.47 532.75 1296.1 532.61 1300.72 532.48 1305.35 532.36 1309.97 532.23 1314.6 532.12 1319.23 532 1323.85 531.89 1328.48 531.78 1333.11 531.68 1337.73 531.57 1342.36 531.47 1346.99 531.38 1351.61 531.28 1356.24 531.19 1360.86 531.1 1365.49 531.02 1370.12 530.93 1374.74 530.85 1379.37 530.77 1383.99 530.69 1388.62 530.61 1393.25 530.54 1397.87 530.47 1402.5 530.39M1032.4 620.6 1037.03 605.49 1041.65 594.5 1046.28 586.15 1050.91 579.59 1055.53 574.3 1060.16 569.94 1064.78 566.29 1069.41 563.19 1074.04 560.52 1078.66 558.2 1083.29 556.16 1087.91 554.36 1092.54 552.75 1097.17 551.31 1101.79 550.01 1106.42 548.84 1111.05 547.76 1115.67 546.79 1120.3 545.89 1124.93 545.06 1129.55 544.29 1134.18 543.58 1138.8 542.93 1143.43 542.31 1148.06 541.74 1152.68 541.2 1157.31 540.7 1161.93 540.22 1166.56 539.78 1171.19 539.36 1175.81 538.96 1180.44 538.58 1185.07 538.23 1189.69 537.89 1194.32 537.57 1198.95 537.26 1203.57 536.97 1208.2 536.69 1212.82 536.43 1217.45 536.17 1222.08 535.93 1226.7 535.7 1231.33 535.47 1235.96 535.26 1240.58 535.05 1245.21 534.86 1249.83 534.67 1254.46 534.48 1259.09 534.31 1263.71 534.14 1268.34 533.97 1272.97 533.82 1277.59 533.66 1282.22 533.52 1286.84 533.37 1291.47 533.23 1296.1 533.1 1300.72 532.97 1305.35 532.85 1309.97 532.73 1314.6 532.61 1319.23 532.49 1323.85 532.38 1328.48 532.27 1333.11 532.17 1337.73 532.07 1342.36 531.97 1346.99 531.87 1351.61 531.78 1356.24 531.69 1360.86 531.6 1365.49 531.51 1370.12 531.43 1374.74 531.35 1379.37 531.27 1383.99 531.19 1388.62 531.11 1393.25 531.04 1397.87 530.97 1402.5 530.89M1032.4 620.6 1037.03 605.73 1041.65 594.92 1046.28 586.7 1050.91 580.24 1055.53 575.04 1060.16 570.75 1064.78 567.16 1069.41 564.1 1074.04 561.47 1078.66 559.19 1083.29 557.18 1087.91 555.41 1092.54 553.83 1097.17 552.41 1101.79 551.14 1106.42 549.98 1111.05 548.92 1115.67 547.96 1120.3 547.08 1124.93 546.26 1129.55 545.51 1134.18 544.81 1138.8 544.16 1143.43 543.56 1148.06 542.99 1152.68 542.47 1157.31 541.97 1161.93 541.5 1166.56 541.06 1171.19 540.65 1175.81 540.26 1180.44 539.89 1185.07 539.54 1189.69 539.21 1194.32 538.89 1198.95 538.59 1203.57 538.3 1208.2 538.03 1212.82 537.77 1217.45 537.52 1222.08 537.28 1226.7 537.05 1231.33 536.83 1235.96 536.62 1240.58 536.42 1245.21 536.22 1249.83 536.03 1254.46 535.85 1259.09 535.68 1263.71 535.51 1268.34 535.35 1272.97 535.2 1277.59 535.05 1282.22 534.9 1286.84 534.76 1291.47 534.63 1296.1 534.49 1300.72 534.37 1305.35 534.24 1309.97 534.12 1314.6 534.01 1319.23 533.9 1323.85 533.79 1328.48 533.68 1333.11 533.58 1337.73 533.48 1342.36 533.38 1346.99 533.29 1351.61 533.19 1356.24 533.1 1360.86 533.02 1365.49 532.93 1370.12 532.85 1374.74 532.77 1379.37 532.69 1383.99 532.61 1388.62 532.54 1393.25 532.46 1397.87 532.39 1402.5 532.32M1032.4 620.6 1037.03 605.89 1041.65 595.19 1046.28 587.06 1050.91 580.67 1055.53 575.52 1060.16 571.27 1064.78 567.72 1069.41 564.7 1074.04 562.1 1078.66 559.83 1083.29 557.85 1087.91 556.1 1092.54 554.53 1097.17 553.13 1101.79 551.87 1106.42 550.72 1111.05 549.68 1115.67 548.72 1120.3 547.85 1124.93 547.04 1129.55 546.3 1134.18 545.61 1138.8 544.96 1143.43 544.37 1148.06 543.81 1152.68 543.29 1157.31 542.8 1161.93 542.33 1166.56 541.9 1171.19 541.49 1175.81 541.1 1180.44 540.74 1185.07 540.39 1189.69 540.06 1194.32 539.75 1198.95 539.45 1203.57 539.16 1208.2 538.89 1212.82 538.64 1217.45 538.39 1222.08 538.15 1226.7 537.92 1231.33 537.71 1235.96 537.5 1240.58 537.3 1245.21 537.11 1249.83 536.92 1254.46 536.74 1259.09 536.57 1263.71 536.41 1268.34 536.25 1272.97 536.09 1277.59 535.94 1282.22 535.8 1286.84 535.66 1291.47 535.53 1296.1 535.4 1300.72 535.27 1305.35 535.15 1309.97 535.03 1314.6 534.92 1319.23 534.81 1323.85 534.7 1328.48 534.59 1333.11 534.49 1337.73 534.39 1342.36 534.3 1346.99 534.2 1351.61 534.11 1356.24 534.02 1360.86 533.94 1365.49 533.85 1370.12 533.77 1374.74 533.69 1379.37 533.61 1383.99 533.54 1388.62 533.46 1393.25 533.39 1397.87 533.32 1402.5 533.25M1032.4 620.6 1037.03 606.04 1041.65 595.45 1046.28 587.4 1050.91 581.07 1055.53 575.97 1060.16 571.77 1064.78 568.26 1069.41 565.26 1074.04 562.69 1078.66 560.45 1083.29 558.49 1087.91 556.75 1092.54 555.2 1097.17 553.82 1101.79 552.57 1106.42 551.43 1111.05 550.4 1115.67 549.45 1120.3 548.59 1124.93 547.79 1129.55 547.05 1134.18 546.37 1138.8 545.73 1143.43 545.14 1148.06 544.59 1152.68 544.07 1157.31 543.59 1161.93 543.13 1166.56 542.7 1171.19 542.3 1175.81 541.91 1180.44 541.55 1185.07 541.21 1189.69 540.88 1194.32 540.57 1198.95 540.27 1203.57 539.99 1208.2 539.73 1212.82 539.47 1217.45 539.22 1222.08 538.99 1226.7 538.77 1231.33 538.55 1235.96 538.35 1240.58 538.15 1245.21 537.96 1249.83 537.77 1254.46 537.6 1259.09 537.43 1263.71 537.26 1268.34 537.11 1272.97 536.95 1277.59 536.81 1282.22 536.66 1286.84 536.53 1291.47 536.39 1296.1 536.27 1300.72 536.14 1305.35 536.02 1309.97 535.9 1314.6 535.79 1319.23 535.68 1323.85 535.57 1328.48 535.47 1333.11 535.37 1337.73 535.27 1342.36 535.17 1346.99 535.08 1351.61 534.99 1356.24 534.9 1360.86 534.82 1365.49 534.74 1370.12 534.65 1374.74 534.57 1379.37 534.5 1383.99 534.42 1388.62 534.35 1393.25 534.28 1397.87 534.21 1402.5 534.14M1032.4 620.6 1037.03 606.13 1041.65 595.61 1046.28 587.61 1050.91 581.32 1055.53 576.26 1060.16 572.08 1064.78 568.59 1069.41 565.61 1074.04 563.06 1078.66 560.83 1083.29 558.88 1087.91 557.15 1092.54 555.62 1097.17 554.24 1101.79 552.99 1106.42 551.87 1111.05 550.84 1115.67 549.9 1120.3 549.04 1124.93 548.25 1129.55 547.52 1134.18 546.84 1138.8 546.21 1143.43 545.62 1148.06 545.07 1152.68 544.55 1157.31 544.07 1161.93 543.62 1166.56 543.19 1171.19 542.79 1175.81 542.41 1180.44 542.05 1185.07 541.71 1189.69 541.38 1194.32 541.07 1198.95 540.78 1203.57 540.5 1208.2 540.23 1212.82 539.98 1217.45 539.74 1222.08 539.5 1226.7 539.28 1231.33 539.07 1235.96 538.86 1240.58 538.67 1245.21 538.48 1249.83 538.3 1254.46 538.12 1259.09 537.95 1263.71 537.79 1268.34 537.63 1272.97 537.48 1277.59 537.33 1282.22 537.19 1286.84 537.06 1291.47 536.92 1296.1 536.8 1300.72 536.67 1305.35 536.55 1309.97 536.44 1314.6 536.32 1319.23 536.21 1323.85 536.11 1328.48 536.01 1333.11 535.9 1337.73 535.81 1342.36 535.71 1346.99 535.62 1351.61 535.53 1356.24 535.44 1360.86 535.36 1365.49 535.28 1370.12 535.2 1374.74 535.12 1379.37 535.04 1383.99 534.96 1388.62 534.89 1393.25 534.82 1397.87 534.75 1402.5 534.68M1032.4 620.6 1037.03 606.35 1041.65 595.98 1046.28 588.1 1050.91 581.91 1055.53 576.92 1060.16 572.81 1064.78 569.36 1069.41 566.43 1074.04 563.91 1078.66 561.72 1083.29 559.8 1087.91 558.1 1092.54 556.59 1097.17 555.23 1101.79 554 1106.42 552.89 1111.05 551.88 1115.67 550.96 1120.3 550.11 1124.93 549.33 1129.55 548.61 1134.18 547.94 1138.8 547.32 1143.43 546.74 1148.06 546.2 1152.68 545.69 1157.31 545.21 1161.93 544.77 1166.56 544.35 1171.19 543.95 1175.81 543.58 1180.44 543.22 1185.07 542.88 1189.69 542.56 1194.32 542.26 1198.95 541.97 1203.57 541.7 1208.2 541.43 1212.82 541.18 1217.45 540.94 1222.08 540.72 1226.7 540.5 1231.33 540.29 1235.96 540.08 1240.58 539.89 1245.21 539.7 1249.83 539.52 1254.46 539.35 1259.09 539.18 1263.71 539.02 1268.34 538.87 1272.97 538.72 1277.59 538.58 1282.22 538.44 1286.84 538.3 1291.47 538.17 1296.1 538.05 1300.72 537.93 1305.35 537.81 1309.97 537.69 1314.6 537.58 1319.23 537.47 1323.85 537.37 1328.48 537.27 1333.11 537.17 1337.73 537.07 1342.36 536.98 1346.99 536.89 1351.61 536.8 1356.24 536.71 1360.86 536.63 1365.49 536.55 1370.12 536.47 1374.74 536.39 1379.37 536.32 1383.99 536.24 1388.62 536.17 1393.25 536.1 1397.87 536.03 1402.5 535.97M1032.4 620.6 1037.03 606.53 1041.65 596.3 1046.28 588.52 1050.91 582.41 1055.53 577.49 1060.16 573.43 1064.78 570.03 1069.41 567.14 1074.04 564.65 1078.66 562.49 1083.29 560.59 1087.91 558.92 1092.54 557.42 1097.17 556.08 1101.79 554.87 1106.42 553.78 1111.05 552.78 1115.67 551.87 1120.3 551.03 1124.93 550.26 1129.55 549.55 1134.18 548.89 1138.8 548.27 1143.43 547.7 1148.06 547.17 1152.68 546.67 1157.31 546.2 1161.93 545.76 1166.56 545.34 1171.19 544.95 1175.81 544.58 1180.44 544.23 1185.07 543.9 1189.69 543.58 1194.32 543.28 1198.95 543 1203.57 542.73 1208.2 542.47 1212.82 542.22 1217.45 541.98 1222.08 541.76 1226.7 541.54 1231.33 541.33 1235.96 541.13 1240.58 540.94 1245.21 540.76 1249.83 540.58 1254.46 540.41 1259.09 540.25 1263.71 540.09 1268.34 539.94 1272.97 539.79 1277.59 539.65 1282.22 539.51 1286.84 539.38 1291.47 539.25 1296.1 539.12 1300.72 539 1305.35 538.89 1309.97 538.77 1314.6 538.66 1319.23 538.56 1323.85 538.45 1328.48 538.35 1333.11 538.26 1337.73 538.16 1342.36 538.07 1346.99 537.98 1351.61 537.89 1356.24 537.81 1360.86 537.73 1365.49 537.65 1370.12 537.57 1374.74 537.49 1379.37 537.42 1383.99 537.34 1388.62 537.27 1393.25 537.2 1397.87 537.14 1402.5 537.07M1032.4 620.6 1037.03 606.66 1041.65 596.52 1046.28 588.82 1050.91 582.76 1055.53 577.88 1060.16 573.86 1064.78 570.49 1069.41 567.63 1074.04 565.16 1078.66 563.02 1083.29 561.14 1087.91 559.48 1092.54 557.99 1097.17 556.67 1101.79 555.47 1106.42 554.38 1111.05 553.39 1115.67 552.49 1120.3 551.66 1124.93 550.9 1129.55 550.19 1134.18 549.54 1138.8 548.93 1143.43 548.36 1148.06 547.83 1152.68 547.34 1157.31 546.87 1161.93 546.44 1166.56 546.02 1171.19 545.64 1175.81 545.27 1180.44 544.92 1185.07 544.59 1189.69 544.28 1194.32 543.98 1198.95 543.7 1203.57 543.43 1208.2 543.18 1212.82 542.93 1217.45 542.7 1222.08 542.47 1226.7 542.26 1231.33 542.05 1235.96 541.85 1240.58 541.66 1245.21 541.48 1249.83 541.31 1254.46 541.14 1259.09 540.98 1263.71 540.82 1268.34 540.67 1272.97 540.52 1277.59 540.38 1282.22 540.25 1286.84 540.11 1291.47 539.99 1296.1 539.86 1300.72 539.74 1305.35 539.63 1309.97 539.52 1314.6 539.41 1319.23 539.3 1323.85 539.2 1328.48 539.1 1333.11 539 1337.73 538.91 1342.36 538.82 1346.99 538.73 1351.61 538.64 1356.24 538.56 1360.86 538.48 1365.49 538.4 1370.12 538.32 1374.74 538.24 1379.37 538.17 1383.99 538.1 1388.62 538.03 1393.25 537.96 1397.87 537.89 1402.5 537.83M1032.4 620.6 1037.03 606.82 1041.65 596.79 1046.28 589.17 1050.91 583.19 1055.53 578.36 1060.16 574.39 1064.78 571.06 1069.41 568.22 1074.04 565.79 1078.66 563.67 1083.29 561.81 1087.91 560.17 1092.54 558.7 1097.17 557.39 1101.79 556.2 1106.42 555.13 1111.05 554.15 1115.67 553.26 1120.3 552.44 1124.93 551.69 1129.55 550.99 1134.18 550.34 1138.8 549.74 1143.43 549.18 1148.06 548.66 1152.68 548.17 1157.31 547.71 1161.93 547.27 1166.56 546.87 1171.19 546.48 1175.81 546.12 1180.44 545.78 1185.07 545.45 1189.69 545.14 1194.32 544.85 1198.95 544.57 1203.57 544.31 1208.2 544.05 1212.82 543.81 1217.45 543.58 1222.08 543.36 1226.7 543.14 1231.33 542.94 1235.96 542.74 1240.58 542.56 1245.21 542.38 1249.83 542.2 1254.46 542.04 1259.09 541.88 1263.71 541.72 1268.34 541.57 1272.97 541.43 1277.59 541.29 1282.22 541.15 1286.84 541.02 1291.47 540.9 1296.1 540.78 1300.72 540.66 1305.35 540.54 1309.97 540.43 1314.6 540.33 1319.23 540.22 1323.85 540.12 1328.48 540.02 1333.11 539.93 1337.73 539.83 1342.36 539.74 1346.99 539.66 1351.61 539.57 1356.24 539.49 1360.86 539.41 1365.49 539.33 1370.12 539.25 1374.74 539.18 1379.37 539.1 1383.99 539.03 1388.62 538.96 1393.25 538.89 1397.87 538.83 1402.5 538.76M1032.4 620.6 1037.03 606.99 1041.65 597.1 1046.28 589.58 1050.91 583.67 1055.53 578.9 1060.16 574.98 1064.78 571.69 1069.41 568.89 1074.04 566.49 1078.66 564.4 1083.29 562.56 1087.91 560.94 1092.54 559.49 1097.17 558.2 1101.79 557.03 1106.42 555.97 1111.05 555 1115.67 554.12 1120.3 553.31 1124.93 552.57 1129.55 551.88 1134.18 551.24 1138.8 550.64 1143.43 550.09 1148.06 549.57 1152.68 549.09 1157.31 548.64 1161.93 548.21 1166.56 547.81 1171.19 547.43 1175.81 547.07 1180.44 546.73 1185.07 546.41 1189.69 546.11 1194.32 545.82 1198.95 545.54 1203.57 545.28 1208.2 545.03 1212.82 544.79 1217.45 544.56 1222.08 544.34 1226.7 544.13 1231.33 543.93 1235.96 543.74 1240.58 543.55 1245.21 543.38 1249.83 543.21 1254.46 543.04 1259.09 542.88 1263.71 542.73 1268.34 542.58 1272.97 542.44 1277.59 542.3 1282.22 542.17 1286.84 542.04 1291.47 541.92 1296.1 541.8 1300.72 541.68 1305.35 541.57 1309.97 541.46 1314.6 541.35 1319.23 541.25 1323.85 541.15 1328.48 541.05 1333.11 540.96 1337.73 540.87 1342.36 540.78 1346.99 540.69 1351.61 540.61 1356.24 540.52 1360.86 540.44 1365.49 540.37 1370.12 540.29 1374.74 540.22 1379.37 540.14 1383.99 540.07 1388.62 540.01 1393.25 539.94 1397.87 539.87 1402.5 539.81M1032.4 620.6 1037.03 607.15 1041.65 597.37 1046.28 589.94 1050.91 584.1 1055.53 579.39 1060.16 575.51 1064.78 572.26 1069.41 569.5 1074.04 567.13 1078.66 565.06 1083.29 563.25 1087.91 561.64 1092.54 560.21 1097.17 558.93 1101.79 557.77 1106.42 556.73 1111.05 555.77 1115.67 554.9 1120.3 554.1 1124.93 553.37 1129.55 552.68 1134.18 552.05 1138.8 551.47 1143.43 550.92 1148.06 550.41 1152.68 549.93 1157.31 549.48 1161.93 549.06 1166.56 548.67 1171.19 548.29 1175.81 547.94 1180.44 547.6 1185.07 547.29 1189.69 546.98 1194.32 546.7 1198.95 546.43 1203.57 546.17 1208.2 545.92 1212.82 545.68 1217.45 545.46 1222.08 545.24 1226.7 545.03 1231.33 544.83 1235.96 544.64 1240.58 544.46 1245.21 544.28 1249.83 544.12 1254.46 543.95 1259.09 543.8 1263.71 543.65 1268.34 543.5 1272.97 543.36 1277.59 543.22 1282.22 543.09 1286.84 542.96 1291.47 542.84 1296.1 542.72 1300.72 542.61 1305.35 542.5 1309.97 542.39 1314.6 542.28 1319.23 542.18 1323.85 542.08 1328.48 541.99 1333.11 541.89 1337.73 541.8 1342.36 541.72 1346.99 541.63 1351.61 541.55 1356.24 541.47 1360.86 541.39 1365.49 541.31 1370.12 541.24 1374.74 541.16 1379.37 541.09 1383.99 541.02 1388.62 540.95 1393.25 540.89 1397.87 540.82 1402.5 540.76M1032.4 620.6 1037.03 607.38 1041.65 597.77 1046.28 590.46 1050.91 584.72 1055.53 580.09 1060.16 576.28 1064.78 573.08 1069.41 570.37 1074.04 568.03 1078.66 566 1083.29 564.22 1087.91 562.64 1092.54 561.23 1097.17 559.97 1101.79 558.84 1106.42 557.81 1111.05 556.87 1115.67 556.01 1120.3 555.23 1124.93 554.5 1129.55 553.83 1134.18 553.21 1138.8 552.64 1143.43 552.1 1148.06 551.6 1152.68 551.13 1157.31 550.69 1161.93 550.27 1166.56 549.88 1171.19 549.52 1175.81 549.17 1180.44 548.84 1185.07 548.53 1189.69 548.23 1194.32 547.95 1198.95 547.68 1203.57 547.43 1208.2 547.18 1212.82 546.95 1217.45 546.73 1222.08 546.52 1226.7 546.31 1231.33 546.12 1235.96 545.93 1240.58 545.75 1245.21 545.58 1249.83 545.41 1254.46 545.25 1259.09 545.1 1263.71 544.95 1268.34 544.8 1272.97 544.67 1277.59 544.53 1282.22 544.4 1286.84 544.28 1291.47 544.16 1296.1 544.04 1300.72 543.93 1305.35 543.82 1309.97 543.71 1314.6 543.61 1319.23 543.51 1323.85 543.41 1328.48 543.32 1333.11 543.23 1337.73 543.14 1342.36 543.05 1346.99 542.97 1351.61 542.89 1356.24 542.81 1360.86 542.73 1365.49 542.65 1370.12 542.58 1374.74 542.51 1379.37 542.44 1383.99 542.37 1388.62 542.3 1393.25 542.24 1397.87 542.17 1402.5 542.11M1032.4 620.6 1037.03 607.5 1041.65 597.97 1046.28 590.72 1050.91 585.03 1055.53 580.44 1060.16 576.66 1064.78 573.5 1069.41 570.8 1074.04 568.49 1078.66 566.47 1083.29 564.71 1087.91 563.14 1092.54 561.75 1097.17 560.5 1101.79 559.38 1106.42 558.35 1111.05 557.43 1115.67 556.58 1120.3 555.8 1124.93 555.08 1129.55 554.42 1134.18 553.8 1138.8 553.23 1143.43 552.7 1148.06 552.2 1152.68 551.73 1157.31 551.3 1161.93 550.89 1166.56 550.5 1171.19 550.13 1175.81 549.79 1180.44 549.46 1185.07 549.15 1189.69 548.86 1194.32 548.58 1198.95 548.32 1203.57 548.06 1208.2 547.82 1212.82 547.59 1217.45 547.37 1222.08 547.16 1226.7 546.96 1231.33 546.76 1235.96 546.58 1240.58 546.4 1245.21 546.23 1249.83 546.06 1254.46 545.91 1259.09 545.75 1263.71 545.61 1268.34 545.46 1272.97 545.33 1277.59 545.19 1282.22 545.07 1286.84 544.94 1291.47 544.82 1296.1 544.71 1300.72 544.6 1305.35 544.49 1309.97 544.38 1314.6 544.28 1319.23 544.18 1323.85 544.08 1328.48 543.99 1333.11 543.9 1337.73 543.81 1342.36 543.73 1346.99 543.64 1351.61 543.56 1356.24 543.48 1360.86 543.41 1365.49 543.33 1370.12 543.26 1374.74 543.19 1379.37 543.12 1383.99 543.05 1388.62 542.98 1393.25 542.92 1397.87 542.85 1402.5 542.79M1032.4 620.6 1037.03 607.67 1041.65 598.27 1046.28 591.12 1050.91 585.51 1055.53 580.98 1060.16 577.25 1064.78 574.12 1069.41 571.47 1074.04 569.18 1078.66 567.2 1083.29 565.45 1087.91 563.91 1092.54 562.54 1097.17 561.3 1101.79 560.19 1106.42 559.19 1111.05 558.27 1115.67 557.43 1120.3 556.66 1124.93 555.95 1129.55 555.3 1134.18 554.69 1138.8 554.13 1143.43 553.6 1148.06 553.11 1152.68 552.65 1157.31 552.22 1161.93 551.82 1166.56 551.43 1171.19 551.07 1175.81 550.73 1180.44 550.41 1185.07 550.11 1189.69 549.82 1194.32 549.54 1198.95 549.28 1203.57 549.03 1208.2 548.79 1212.82 548.56 1217.45 548.35 1222.08 548.14 1226.7 547.94 1231.33 547.75 1235.96 547.57 1240.58 547.39 1245.21 547.22 1249.83 547.06 1254.46 546.9 1259.09 546.75 1263.71 546.61 1268.34 546.47 1272.97 546.33 1277.59 546.2 1282.22 546.07 1286.84 545.95 1291.47 545.83 1296.1 545.72 1300.72 545.61 1305.35 545.5 1309.97 545.4 1314.6 545.3 1319.23 545.2 1323.85 545.1 1328.48 545.01 1333.11 544.92 1337.73 544.84 1342.36 544.75 1346.99 544.67 1351.61 544.59 1356.24 544.51 1360.86 544.44 1365.49 544.36 1370.12 544.29 1374.74 544.22 1379.37 544.15 1383.99 544.08 1388.62 544.02 1393.25 543.95 1397.87 543.89 1402.5 543.83M1032.4 620.6 1037.03 607.86 1041.65 598.6 1046.28 591.56 1050.91 586.03 1055.53 581.56 1060.16 577.89 1064.78 574.81 1069.41 572.2 1074.04 569.95 1078.66 567.99 1083.29 566.27 1087.91 564.75 1092.54 563.4 1097.17 562.18 1101.79 561.09 1106.42 560.1 1111.05 559.19 1115.67 558.37 1120.3 557.61 1124.93 556.91 1129.55 556.27 1134.18 555.67 1138.8 555.11 1143.43 554.6 1148.06 554.11 1152.68 553.66 1157.31 553.23 1161.93 552.84 1166.56 552.46 1171.19 552.1 1175.81 551.77 1180.44 551.45 1185.07 551.15 1189.69 550.87 1194.32 550.59 1198.95 550.34 1203.57 550.09 1208.2 549.86 1212.82 549.63 1217.45 549.42 1222.08 549.21 1226.7 549.02 1231.33 548.83 1235.96 548.65 1240.58 548.48 1245.21 548.31 1249.83 548.15 1254.46 547.99 1259.09 547.85 1263.71 547.7 1268.34 547.57 1272.97 547.43 1277.59 547.3 1282.22 547.18 1286.84 547.06 1291.47 546.94 1296.1 546.83 1300.72 546.72 1305.35 546.62 1309.97 546.51 1314.6 546.41 1319.23 546.32 1323.85 546.22 1328.48 546.13 1333.11 546.04 1337.73 545.96 1342.36 545.88 1346.99 545.79 1351.61 545.72 1356.24 545.64 1360.86 545.56 1365.49 545.49 1370.12 545.42 1374.74 545.35 1379.37 545.28 1383.99 545.22 1388.62 545.15 1393.25 545.09 1397.87 545.03 1402.5 544.97M1032.4 620.6 1037.03 608.09 1041.65 599 1046.28 592.09 1050.91 586.66 1055.53 582.28 1060.16 578.67 1064.78 575.65 1069.41 573.08 1074.04 570.87 1078.66 568.95 1083.29 567.26 1087.91 565.77 1092.54 564.44 1097.17 563.25 1101.79 562.17 1106.42 561.2 1111.05 560.31 1115.67 559.5 1120.3 558.76 1124.93 558.07 1129.55 557.44 1134.18 556.85 1138.8 556.31 1143.43 555.8 1148.06 555.33 1152.68 554.88 1157.31 554.46 1161.93 554.07 1166.56 553.7 1171.19 553.35 1175.81 553.03 1180.44 552.71 1185.07 552.42 1189.69 552.14 1194.32 551.87 1198.95 551.62 1203.57 551.38 1208.2 551.15 1212.82 550.93 1217.45 550.72 1222.08 550.52 1226.7 550.32 1231.33 550.14 1235.96 549.96 1240.58 549.79 1245.21 549.63 1249.83 549.47 1254.46 549.32 1259.09 549.17 1263.71 549.03 1268.34 548.9 1272.97 548.77 1277.59 548.64 1282.22 548.52 1286.84 548.4 1291.47 548.29 1296.1 548.18 1300.72 548.07 1305.35 547.97 1309.97 547.87 1314.6 547.77 1319.23 547.67 1323.85 547.58 1328.48 547.49 1333.11 547.41 1337.73 547.32 1342.36 547.24 1346.99 547.16 1351.61 547.08 1356.24 547.01 1360.86 546.93 1365.49 546.86 1370.12 546.79 1374.74 546.72 1379.37 546.66 1383.99 546.59 1388.62 546.53 1393.25 546.47 1397.87 546.41 1402.5 546.35" fill="none" stroke="#6a6a6a" stroke-width="0.55" stroke-linejoin="round"/>
<path d="M51.9 1114.58 61.15 1113.26 70.39 1111.87 79.64 1110.43 88.89 1108.92 98.14 1107.34 107.39 1105.7 116.63 1103.98 125.88 1102.19 135.13 1100.33 144.38 1098.38 153.62 1096.34 162.87 1094.22 172.12 1092 181.37 1089.69 190.61 1087.28 199.86 1084.76 209.11 1082.13 218.36 1079.38 227.6 1076.52 236.85 1073.53 246.1 1070.41 255.35 1067.15 264.59 1063.75 273.84 1060.21 283.09 1056.51 292.34 1052.64 301.58 1048.61 310.83 1044.4 320.08 1040.01 329.32 1035.43 338.57 1030.64 347.82 1025.65 357.07 1020.44 366.31 1015 375.56 1009.32 384.81 1003.4 394.06 997.21 403.31 990.76 412.55 984.03 421.8 977M51.9 1114.58 61.15 1113.28 70.39 1111.91 79.64 1110.49 88.89 1109 98.14 1107.46 107.39 1105.84 116.63 1104.15 125.88 1102.39 135.13 1100.56 144.38 1098.64 153.62 1096.65 162.87 1094.56 172.12 1092.39 181.37 1090.12 190.61 1087.75 199.86 1085.28 209.11 1082.7 218.36 1080.02 227.6 1077.21 236.85 1074.28 246.1 1071.23 255.35 1068.04 264.59 1064.72 273.84 1061.25 283.09 1057.63 292.34 1053.86 301.58 1049.92 310.83 1045.81 320.08 1041.52 329.32 1037.05 338.57 1032.38 347.82 1027.51 357.07 1022.43 366.31 1017.13 375.56 1011.6 384.81 1005.83 394.06 999.81 403.31 993.53 412.55 986.97 421.8 980.13M51.9 1114.58 61.15 1113.29 70.39 1111.94 79.64 1110.53 88.89 1109.06 98.14 1107.53 107.39 1105.93 116.63 1104.26 125.88 1102.53 135.13 1100.71 144.38 1098.82 153.62 1096.85 162.87 1094.79 172.12 1092.64 181.37 1090.4 190.61 1088.06 199.86 1085.62 209.11 1083.08 218.36 1080.43 227.6 1077.66 236.85 1074.78 246.1 1071.77 255.35 1068.62 264.59 1065.35 273.84 1061.93 283.09 1058.37 292.34 1054.65 301.58 1050.77 310.83 1046.72 320.08 1042.5 329.32 1038.1 338.57 1033.51 347.82 1028.72 357.07 1023.72 366.31 1018.51 375.56 1013.07 384.81 1007.4 394.06 1001.48 403.31 995.31 412.55 988.88 421.8 982.16M51.9 1114.58 61.15 1113.29 70.39 1111.95 79.64 1110.55 88.89 1109.09 98.14 1107.57 107.39 1105.98 116.63 1104.32 125.88 1102.59 135.13 1100.78 144.38 1098.9 153.62 1096.94 162.87 1094.89 172.12 1092.76 181.37 1090.53 190.61 1088.21 199.86 1085.79 209.11 1083.26 218.36 1080.63 227.6 1077.88 236.85 1075.01 246.1 1072.02 255.35 1068.9 264.59 1065.65 273.84 1062.26 283.09 1058.72 292.34 1055.03 301.58 1051.18 310.83 1047.16 320.08 1042.98 329.32 1038.61 338.57 1034.05 347.82 1029.3 357.07 1024.34 366.31 1019.17 375.56 1013.78 384.81 1008.16 394.06 1002.29 403.31 996.17 412.55 989.79 421.8 983.13M51.9 1114.58 61.15 1113.31 70.39 1111.98 79.64 1110.6 88.89 1109.16 98.14 1107.66 107.39 1106.09 116.63 1104.45 125.88 1102.75 135.13 1100.97 144.38 1099.12 153.62 1097.18 162.87 1095.17 172.12 1093.07 181.37 1090.88 190.61 1088.59 199.86 1086.21 209.11 1083.72 218.36 1081.13 227.6 1078.43 236.85 1075.61 246.1 1072.67 255.35 1069.61 264.59 1066.41 273.84 1063.08 283.09 1059.61 292.34 1055.99 301.58 1052.21 310.83 1048.27 320.08 1044.16 329.32 1039.88 338.57 1035.42 347.82 1030.76 357.07 1025.9 366.31 1020.84 375.56 1015.56 384.81 1010.05 394.06 1004.31 403.31 998.32 412.55 992.08 421.8 985.57M51.9 1114.58 61.15 1113.32 70.39 1112.01 79.64 1110.64 88.89 1109.21 98.14 1107.72 107.39 1106.17 116.63 1104.55 125.88 1102.87 135.13 1101.11 144.38 1099.27 153.62 1097.36 162.87 1095.37 172.12 1093.29 181.37 1091.12 190.61 1088.86 199.86 1086.51 209.11 1084.05 218.36 1081.49 227.6 1078.83 236.85 1076.04 246.1 1073.14 255.35 1070.12 264.59 1066.97 273.84 1063.68 283.09 1060.25 292.34 1056.68 301.58 1052.95 310.83 1049.07 320.08 1045.02 329.32 1040.8 338.57 1036.4 347.82 1031.81 357.07 1027.02 366.31 1022.04 375.56 1016.84 384.81 1011.42 394.06 1005.76 403.31 999.87 412.55 993.73 421.8 987.32M51.9 1114.58 61.15 1113.33 70.39 1112.03 79.64 1110.68 88.89 1109.26 98.14 1107.79 107.39 1106.25 116.63 1104.65 125.88 1102.98 135.13 1101.24 144.38 1099.43 153.62 1097.54 162.87 1095.57 172.12 1093.52 181.37 1091.38 190.61 1089.14 199.86 1086.82 209.11 1084.39 218.36 1081.87 227.6 1079.23 236.85 1076.48 246.1 1073.62 255.35 1070.64 264.59 1067.53 273.84 1064.28 283.09 1060.9 292.34 1057.38 301.58 1053.71 310.83 1049.88 320.08 1045.89 329.32 1041.73 338.57 1037.4 347.82 1032.88 357.07 1028.17 366.31 1023.25 375.56 1018.14 384.81 1012.8 394.06 1007.24 403.31 1001.44 412.55 995.4 421.8 989.1M51.9 1114.58 61.15 1113.34 70.39 1112.05 79.64 1110.7 88.89 1109.3 98.14 1107.83 107.39 1106.31 116.63 1104.72 125.88 1103.06 135.13 1101.33 144.38 1099.53 153.62 1097.66 162.87 1095.7 172.12 1093.66 181.37 1091.54 190.61 1089.32 199.86 1087.01 209.11 1084.61 218.36 1082.1 227.6 1079.49 236.85 1076.77 246.1 1073.93 255.35 1070.97 264.59 1067.88 273.84 1064.67 283.09 1061.32 292.34 1057.83 301.58 1054.19 310.83 1050.4 320.08 1046.44 329.32 1042.32 338.57 1038.03 347.82 1033.55 357.07 1028.89 366.31 1024.03 375.56 1018.96 384.81 1013.68 394.06 1008.17 403.31 1002.43 412.55 996.45 421.8 990.22M51.9 1114.58 61.15 1113.35 70.39 1112.07 79.64 1110.74 88.89 1109.35 98.14 1107.9 107.39 1106.39 116.63 1104.82 125.88 1103.18 135.13 1101.47 144.38 1099.69 153.62 1097.83 162.87 1095.9 172.12 1093.89 181.37 1091.79 190.61 1089.6 199.86 1087.32 209.11 1084.94 218.36 1082.47 227.6 1079.89 236.85 1077.2 246.1 1074.4 255.35 1071.48 264.59 1068.43 273.84 1065.26 283.09 1061.96 292.34 1058.52 301.58 1054.93 310.83 1051.19 320.08 1047.29 329.32 1043.23 338.57 1039 347.82 1034.59 357.07 1030 366.31 1025.21 375.56 1020.22 384.81 1015.02 394.06 1009.6 403.31 1003.96 412.55 998.07 421.8 991.94M51.9 1114.58 61.15 1113.37 70.39 1112.11 79.64 1110.79 88.89 1109.42 98.14 1107.99 107.39 1106.5 116.63 1104.95 125.88 1103.33 135.13 1101.65 144.38 1099.9 153.62 1098.07 162.87 1096.17 172.12 1094.18 181.37 1092.12 190.61 1089.97 199.86 1087.72 209.11 1085.39 218.36 1082.95 227.6 1080.42 236.85 1077.78 246.1 1075.02 255.35 1072.15 264.59 1069.17 273.84 1066.05 283.09 1062.81 292.34 1059.43 301.58 1055.91 310.83 1052.25 320.08 1048.43 329.32 1044.45 338.57 1040.3 347.82 1035.98 357.07 1031.48 366.31 1026.79 375.56 1021.9 384.81 1016.81 394.06 1011.51 403.31 1005.98 412.55 1000.23 421.8 994.23M51.9 1114.58 61.15 1113.39 70.39 1112.14 79.64 1110.84 88.89 1109.49 98.14 1108.08 107.39 1106.61 116.63 1105.09 125.88 1103.49 135.13 1101.84 144.38 1100.11 153.62 1098.31 162.87 1096.44 172.12 1094.49 181.37 1092.46 190.61 1090.34 199.86 1088.13 209.11 1085.84 218.36 1083.45 227.6 1080.95 236.85 1078.36 246.1 1075.66 255.35 1072.84 264.59 1069.91 273.84 1066.85 283.09 1063.67 292.34 1060.36 301.58 1056.91 310.83 1053.31 320.08 1049.57 329.32 1045.66 338.57 1041.6 347.82 1037.37 357.07 1032.96 366.31 1028.37 375.56 1023.59 384.81 1018.61 394.06 1013.42 403.31 1008.02 412.55 1002.39 421.8 996.52M51.9 1114.58 61.15 1113.39 70.39 1112.16 79.64 1110.87 88.89 1109.53 98.14 1108.13 107.39 1106.67 116.63 1105.16 125.88 1103.58 135.13 1101.93 144.38 1100.22 153.62 1098.44 162.87 1096.58 172.12 1094.65 181.37 1092.63 190.61 1090.53 199.86 1088.35 209.11 1086.07 218.36 1083.7 227.6 1081.24 236.85 1078.66 246.1 1075.99 255.35 1073.2 264.59 1070.3 273.84 1067.27 283.09 1064.12 292.34 1060.84 301.58 1057.43 310.83 1053.87 320.08 1050.16 329.32 1046.3 338.57 1042.28 347.82 1038.1 357.07 1033.74 366.31 1029.2 375.56 1024.47 384.81 1019.55 394.06 1014.42 403.31 1009.08 412.55 1003.51 421.8 997.72M51.9 1114.58 61.15 1113.41 70.39 1112.19 79.64 1110.92 88.89 1109.59 98.14 1108.22 107.39 1106.78 116.63 1105.29 125.88 1103.73 135.13 1102.11 144.38 1100.42 153.62 1098.67 162.87 1096.84 172.12 1094.94 181.37 1092.95 190.61 1090.89 199.86 1088.74 209.11 1086.5 218.36 1084.17 227.6 1081.74 236.85 1079.22 246.1 1076.59 255.35 1073.85 264.59 1071 273.84 1068.03 283.09 1064.93 292.34 1061.71 301.58 1058.36 310.83 1054.87 320.08 1051.24 329.32 1047.45 338.57 1043.51 347.82 1039.41 357.07 1035.14 366.31 1030.69 375.56 1026.06 384.81 1021.23 394.06 1016.21 403.31 1010.98 412.55 1005.54 421.8 999.87M51.9 1114.58 61.15 1113.42 70.39 1112.21 79.64 1110.95 88.89 1109.64 98.14 1108.28 107.39 1106.86 116.63 1105.38 125.88 1103.85 135.13 1102.24 144.38 1100.58 153.62 1098.84 162.87 1097.03 172.12 1095.15 181.37 1093.19 190.61 1091.15 199.86 1089.03 209.11 1086.82 218.36 1084.52 227.6 1082.12 236.85 1079.63 246.1 1077.03 255.35 1074.33 264.59 1071.52 273.84 1068.59 283.09 1065.54 292.34 1062.36 301.58 1059.06 310.83 1055.62 320.08 1052.04 329.32 1048.31 338.57 1044.42 347.82 1040.38 357.07 1036.18 366.31 1031.79 375.56 1027.23 384.81 1022.49 394.06 1017.54 403.31 1012.4 412.55 1007.04 421.8 1001.46M51.9 1114.58 61.15 1113.44 70.39 1112.25 79.64 1111.01 88.89 1109.73 98.14 1108.39 107.39 1106.99 116.63 1105.54 125.88 1104.03 135.13 1102.45 144.38 1100.82 153.62 1099.11 162.87 1097.34 172.12 1095.49 181.37 1093.57 190.61 1091.57 199.86 1089.49 209.11 1087.33 218.36 1085.07 227.6 1082.73 236.85 1080.28 246.1 1077.74 255.35 1075.1 264.59 1072.34 273.84 1069.48 283.09 1066.5 292.34 1063.39 301.58 1060.16 310.83 1056.8 320.08 1053.3 329.32 1049.66 338.57 1045.86 347.82 1041.92 357.07 1037.81 366.31 1033.54 375.56 1029.09 384.81 1024.46 394.06 1019.64 403.31 1014.63 412.55 1009.4 421.8 1003.97M51.9 1114.58 61.15 1113.45 70.39 1112.28 79.64 1111.06 88.89 1109.79 98.14 1108.47 107.39 1107.09 116.63 1105.66 125.88 1104.17 135.13 1102.62 144.38 1101.01 153.62 1099.33 162.87 1097.58 172.12 1095.76 181.37 1093.87 190.61 1091.9 199.86 1089.86 209.11 1087.72 218.36 1085.51 227.6 1083.2 236.85 1080.8 246.1 1078.3 255.35 1075.7 264.59 1072.99 273.84 1070.18 283.09 1067.25 292.34 1064.2 301.58 1061.02 310.83 1057.72 320.08 1054.29 329.32 1050.71 338.57 1046.99 347.82 1043.12 357.07 1039.09 366.31 1034.9 375.56 1030.54 384.81 1026 394.06 1021.28 403.31 1016.36 412.55 1011.25 421.8 1005.93M51.9 1114.58 61.15 1113.46 70.39 1112.3 79.64 1111.09 88.89 1109.83 98.14 1108.52 107.39 1107.15 116.63 1105.73 125.88 1104.25 135.13 1102.72 144.38 1101.12 153.62 1099.45 162.87 1097.72 172.12 1095.92 181.37 1094.05 190.61 1092.1 199.86 1090.07 209.11 1087.96 218.36 1085.76 227.6 1083.47 236.85 1081.1 246.1 1078.62 255.35 1076.05 264.59 1073.37 273.84 1070.58 283.09 1067.68 292.34 1064.67 301.58 1061.53 310.83 1058.26 320.08 1054.86 329.32 1051.33 338.57 1047.65 347.82 1043.82 357.07 1039.84 366.31 1035.69 375.56 1031.38 384.81 1026.9 394.06 1022.23 403.31 1017.37 412.55 1012.32 421.8 1007.06M51.9 1114.58 61.15 1113.48 70.39 1112.34 79.64 1111.15 88.89 1109.91 98.14 1108.63 107.39 1107.29 116.63 1105.89 125.88 1104.45 135.13 1102.94 144.38 1101.37 153.62 1099.74 162.87 1098.05 172.12 1096.28 181.37 1094.45 190.61 1092.54 199.86 1090.55 209.11 1088.49 218.36 1086.34 227.6 1084.11 236.85 1081.78 246.1 1079.37 255.35 1076.85 264.59 1074.24 273.84 1071.52 283.09 1068.69 292.34 1065.74 301.58 1062.68 310.83 1059.49 320.08 1056.18 329.32 1052.73 338.57 1049.15 347.82 1045.42 357.07 1041.54 366.31 1037.51 375.56 1033.31 384.81 1028.94 394.06 1024.4 403.31 1019.68 412.55 1014.77 421.8 1009.66M51.9 1114.58 61.15 1113.49 70.39 1112.35 79.64 1111.17 88.89 1109.93 98.14 1108.65 107.39 1107.32 116.63 1105.94 125.88 1104.49 135.13 1102.99 144.38 1101.44 153.62 1099.81 162.87 1098.13 172.12 1096.37 181.37 1094.55 190.61 1092.65 199.86 1090.67 209.11 1088.62 218.36 1086.48 227.6 1084.26 236.85 1081.95 246.1 1079.55 255.35 1077.05 264.59 1074.45 273.84 1071.74 283.09 1068.93 292.34 1066 301.58 1062.96 310.83 1059.8 320.08 1056.5 329.32 1053.08 338.57 1049.52 347.82 1045.81 357.07 1041.96 366.31 1037.95 375.56 1033.78 384.81 1029.44 394.06 1024.93 403.31 1020.24 412.55 1015.36 421.8 1010.29M51.9 1114.58 61.15 1113.51 70.39 1112.39 79.64 1111.23 88.89 1110.03 98.14 1108.77 107.39 1107.47 116.63 1106.12 125.88 1104.71 135.13 1103.24 144.38 1101.71 153.62 1100.13 162.87 1098.48 172.12 1096.77 181.37 1094.99 190.61 1093.13 199.86 1091.21 209.11 1089.2 218.36 1087.12 227.6 1084.95 236.85 1082.7 246.1 1080.36 255.35 1077.92 264.59 1075.39 273.84 1072.76 283.09 1070.02 292.34 1067.17 301.58 1064.21 310.83 1061.13 320.08 1057.93 329.32 1054.6 338.57 1051.14 347.82 1047.54 357.07 1043.8 366.31 1039.91 375.56 1035.86 384.81 1031.65 394.06 1027.28 403.31 1022.73 412.55 1018 421.8 1013.08M51.9 1114.58 61.15 1113.52 70.39 1112.43 79.64 1111.28 88.89 1110.09 98.14 1108.86 107.39 1107.57 116.63 1106.24 125.88 1104.85 135.13 1103.41 144.38 1101.91 153.62 1100.35 162.87 1098.73 172.12 1097.04 181.37 1095.29 190.61 1093.47 199.86 1091.57 209.11 1089.6 218.36 1087.56 227.6 1085.43 236.85 1083.22 246.1 1080.92 255.35 1078.52 264.59 1076.04 273.84 1073.45 283.09 1070.77 292.34 1067.97 301.58 1065.07 310.83 1062.05 320.08 1058.91 329.32 1055.65 338.57 1052.25 347.82 1048.73 357.07 1045.06 366.31 1041.25 375.56 1037.29 384.81 1033.17 394.06 1028.88 403.31 1024.43 412.55 1019.8 421.8 1014.99M51.9 1114.58 61.15 1113.53 70.39 1112.44 79.64 1111.31 88.89 1110.13 98.14 1108.9 107.39 1107.62 116.63 1106.3 125.88 1104.92 135.13 1103.49 144.38 1102 153.62 1100.45 162.87 1098.84 172.12 1097.17 181.37 1095.43 190.61 1093.63 199.86 1091.75 209.11 1089.79 218.36 1087.76 227.6 1085.65 236.85 1083.46 246.1 1081.18 255.35 1078.81 264.59 1076.35 273.84 1073.78 283.09 1071.12 292.34 1068.35 301.58 1065.48 310.83 1062.48 320.08 1059.38 329.32 1056.14 338.57 1052.78 347.82 1049.29 357.07 1045.66 366.31 1041.88 375.56 1037.96 384.81 1033.88 394.06 1029.64 403.31 1025.23 412.55 1020.65 421.8 1015.89M51.9 1114.58 61.15 1113.55 70.39 1112.48 79.64 1111.37 88.89 1110.21 98.14 1109.01 107.39 1107.76 116.63 1106.47 125.88 1105.12 135.13 1103.72 144.38 1102.26 153.62 1100.75 162.87 1099.18 172.12 1097.54 181.37 1095.84 190.61 1094.08 199.86 1092.24 209.11 1090.33 218.36 1088.35 227.6 1086.29 236.85 1084.15 246.1 1081.93 255.35 1079.62 264.59 1077.22 273.84 1074.72 283.09 1072.12 292.34 1069.43 301.58 1066.63 310.83 1063.71 320.08 1060.69 329.32 1057.54 338.57 1054.27 347.82 1050.87 357.07 1047.34 366.31 1043.68 375.56 1039.86 384.81 1035.9 394.06 1031.78 403.31 1027.5 412.55 1023.05 421.8 1018.43M51.9 1114.58 61.15 1113.57 70.39 1112.51 79.64 1111.41 88.89 1110.27 98.14 1109.09 107.39 1107.86 116.63 1106.58 125.88 1105.25 135.13 1103.87 144.38 1102.43 153.62 1100.94 162.87 1099.39 172.12 1097.78 181.37 1096.11 190.61 1094.37 199.86 1092.56 209.11 1090.69 218.36 1088.74 227.6 1086.71 236.85 1084.6 246.1 1082.42 255.35 1080.14 264.59 1077.78 273.84 1075.33 283.09 1072.78 292.34 1070.13 301.58 1067.37 310.83 1064.51 320.08 1061.54 329.32 1058.45 338.57 1055.24 347.82 1051.9 357.07 1048.44 366.31 1044.84 375.56 1041.09 384.81 1037.2 394.06 1033.16 403.31 1028.97 412.55 1024.6 421.8 1020.07M51.9 1114.58 61.15 1113.59 70.39 1112.55 79.64 1111.47 88.89 1110.36 98.14 1109.19 107.39 1107.99 116.63 1106.74 125.88 1105.43 135.13 1104.08 144.38 1102.68 153.62 1101.22 162.87 1099.7 172.12 1098.13 181.37 1096.49 190.61 1094.79 199.86 1093.03 209.11 1091.19 218.36 1089.29 227.6 1087.31 236.85 1085.25 246.1 1083.11 255.35 1080.89 264.59 1078.59 273.84 1076.2 283.09 1073.71 292.34 1071.12 301.58 1068.44 310.83 1065.65 320.08 1062.75 329.32 1059.74 338.57 1056.62 347.82 1053.37 357.07 1049.99 366.31 1046.49 375.56 1042.85 384.81 1039.07 394.06 1035.14 403.31 1031.05 412.55 1026.81 421.8 1022.41M51.9 1114.58 61.15 1113.59 70.39 1112.56 79.64 1111.5 88.89 1110.39 98.14 1109.24 107.39 1108.04 116.63 1106.79 125.88 1105.5 135.13 1104.16 144.38 1102.77 153.62 1101.32 162.87 1099.82 172.12 1098.26 181.37 1096.63 190.61 1094.95 199.86 1093.2 209.11 1091.38 218.36 1089.49 227.6 1087.53 236.85 1085.49 246.1 1083.38 255.35 1081.18 264.59 1078.89 273.84 1076.52 283.09 1074.06 292.34 1071.5 301.58 1068.84 310.83 1066.08 320.08 1063.21 329.32 1060.23 338.57 1057.13 347.82 1053.92 357.07 1050.58 366.31 1047.11 375.56 1043.51 384.81 1039.76 394.06 1035.88 403.31 1031.84 412.55 1027.64 421.8 1023.28M51.9 1114.58 61.15 1113.61 70.39 1112.6 79.64 1111.56 88.89 1110.47 98.14 1109.34 107.39 1108.17 116.63 1106.95 125.88 1105.69 135.13 1104.37 144.38 1103.01 153.62 1101.59 162.87 1100.12 172.12 1098.59 181.37 1097.01 190.61 1095.36 199.86 1093.65 209.11 1091.87 218.36 1090.03 227.6 1088.11 236.85 1086.12 246.1 1084.05 255.35 1081.91 264.59 1079.68 273.84 1077.37 283.09 1074.96 292.34 1072.47 301.58 1069.87 310.83 1067.18 320.08 1064.39 329.32 1061.48 338.57 1058.47 347.82 1055.34 357.07 1052.09 366.31 1048.71 375.56 1045.2 384.81 1041.56 394.06 1037.78 403.31 1033.85 412.55 1029.77 421.8 1025.54M51.9 1114.58 61.15 1113.63 70.39 1112.65 79.64 1111.63 88.89 1110.57 98.14 1109.47 107.39 1108.32 116.63 1107.14 125.88 1105.91 135.13 1104.63 144.38 1103.3 153.62 1101.92 162.87 1100.49 172.12 1099 181.37 1097.46 190.61 1095.86 199.86 1094.19 209.11 1092.47 218.36 1090.67 227.6 1088.81 236.85 1086.88 246.1 1084.87 255.35 1082.79 264.59 1080.63 273.84 1078.38 283.09 1076.05 292.34 1073.63 301.58 1071.12 310.83 1068.51 320.08 1065.8 329.32 1062.99 338.57 1060.07 347.82 1057.04 357.07 1053.89 366.31 1050.63 375.56 1047.23 384.81 1043.71 394.06 1040.06 403.31 1036.26 412.55 1032.32 421.8 1028.23" fill="none" stroke="#666" stroke-width="0.6" stroke-linejoin="round"/>
<path d="M543.2 1127.4 552.44 1115.77 561.68 1104.65 570.92 1094.03 580.16 1083.88 589.39 1074.18 598.63 1064.91 607.87 1056.05 617.11 1047.59 626.35 1039.5 635.59 1031.78 644.83 1024.39 654.07 1017.34 663.3 1010.59 672.54 1004.15 681.78 997.99 691.02 992.11 700.26 986.49 709.5 981.12 718.74 975.98 727.98 971.08 737.21 966.39 746.45 961.91 755.69 957.63 764.93 953.55 774.17 949.64 783.41 945.9 792.65 942.33 801.88 938.93 811.12 935.67 820.36 932.55 829.6 929.58 838.84 926.74 848.08 924.02 857.32 921.42 866.56 918.94 875.8 916.57 885.03 914.31 894.27 912.14 903.51 910.08 912.75 908.1M543.2 1127.4 552.44 1115.84 561.68 1104.79 570.92 1094.23 580.16 1084.14 589.39 1074.49 598.63 1065.28 607.87 1056.48 617.11 1048.06 626.35 1040.02 635.59 1032.34 644.83 1025 654.07 1017.99 663.3 1011.29 672.54 1004.88 681.78 998.76 691.02 992.91 700.26 987.32 709.5 981.98 718.74 976.88 727.98 972.01 737.21 967.35 746.45 962.9 755.69 958.64 764.93 954.58 774.17 950.69 783.41 946.98 792.65 943.43 801.88 940.04 811.12 936.8 820.36 933.71 829.6 930.75 838.84 927.93 848.08 925.23 857.32 922.64 866.56 920.18 875.8 917.82 885.03 915.57 894.27 913.42 903.51 911.36 912.75 909.4M543.2 1127.4 552.44 1116.35 561.68 1105.79 570.92 1095.7 580.16 1086.06 589.39 1076.85 598.63 1068.04 607.87 1059.63 617.11 1051.59 626.35 1043.91 635.59 1036.57 644.83 1029.56 654.07 1022.86 663.3 1016.45 672.54 1010.33 681.78 1004.48 691.02 998.9 700.26 993.56 709.5 988.46 718.74 983.58 727.98 978.92 737.21 974.47 746.45 970.21 755.69 966.15 764.93 962.27 774.17 958.55 783.41 955.01 792.65 951.62 801.88 948.38 811.12 945.28 820.36 942.33 829.6 939.5 838.84 936.8 848.08 934.22 857.32 931.76 866.56 929.4 875.8 927.15 885.03 925 894.27 922.94 903.51 920.98 912.75 919.1M543.2 1127.4 552.44 1116.8 561.68 1106.66 570.92 1096.98 580.16 1087.73 589.39 1078.89 598.63 1070.44 607.87 1062.36 617.11 1054.65 626.35 1047.28 635.59 1040.24 644.83 1033.5 654.07 1027.07 663.3 1020.93 672.54 1015.05 681.78 1009.44 691.02 1004.08 700.26 998.95 709.5 994.06 718.74 989.38 727.98 984.91 737.21 980.64 746.45 976.55 755.69 972.65 764.93 968.92 774.17 965.36 783.41 961.96 792.65 958.71 801.88 955.6 811.12 952.63 820.36 949.79 829.6 947.08 838.84 944.49 848.08 942.01 857.32 939.65 866.56 937.38 875.8 935.22 885.03 933.16 894.27 931.19 903.51 929.3 912.75 927.5M543.2 1127.4 552.44 1117 561.68 1107.07 570.92 1097.57 580.16 1088.5 589.39 1079.83 598.63 1071.55 607.87 1063.63 617.11 1056.07 626.35 1048.84 635.59 1041.94 644.83 1035.34 654.07 1029.03 663.3 1023 672.54 1017.25 681.78 1011.74 691.02 1006.49 700.26 1001.46 709.5 996.66 718.74 992.07 727.98 987.69 737.21 983.5 746.45 979.5 755.69 975.67 764.93 972.02 774.17 968.52 783.41 965.19 792.65 962 801.88 958.95 811.12 956.04 820.36 953.26 829.6 950.6 838.84 948.06 848.08 945.63 857.32 943.31 866.56 941.09 875.8 938.97 885.03 936.95 894.27 935.01 903.51 933.17 912.75 931.4M543.2 1127.4 552.44 1117.07 561.68 1107.19 570.92 1097.76 580.16 1088.74 589.39 1080.12 598.63 1071.89 607.87 1064.02 617.11 1056.51 626.35 1049.32 635.59 1042.46 644.83 1035.9 654.07 1029.63 663.3 1023.64 672.54 1017.92 681.78 1012.45 691.02 1007.23 700.26 1002.23 709.5 997.46 718.74 992.9 727.98 988.54 737.21 984.38 746.45 980.4 755.69 976.6 764.93 972.97 774.17 969.5 783.41 966.18 792.65 963.01 801.88 959.98 811.12 957.09 820.36 954.32 829.6 951.68 838.84 949.15 848.08 946.74 857.32 944.44 866.56 942.23 875.8 940.13 885.03 938.11 894.27 936.19 903.51 934.36 912.75 932.6M543.2 1127.4 552.44 1117.31 561.68 1107.67 570.92 1098.46 580.16 1089.65 589.39 1081.24 598.63 1073.2 607.87 1065.52 617.11 1058.18 626.35 1051.17 635.59 1044.46 644.83 1038.06 654.07 1031.94 663.3 1026.09 672.54 1020.51 681.78 1015.17 691.02 1010.06 700.26 1005.19 709.5 1000.53 718.74 996.08 727.98 991.82 737.21 987.76 746.45 983.87 755.69 980.16 764.93 976.61 774.17 973.23 783.41 969.99 792.65 966.89 801.88 963.93 811.12 961.11 820.36 958.41 829.6 955.83 838.84 953.36 848.08 951.01 857.32 948.76 866.56 946.6 875.8 944.55 885.03 942.58 894.27 940.71 903.51 938.91 912.75 937.2M543.2 1127.4 552.44 1117.38 561.68 1107.8 570.92 1098.65 580.16 1089.91 589.39 1081.56 598.63 1073.57 607.87 1065.94 617.11 1058.65 626.35 1051.69 635.59 1045.03 644.83 1038.67 654.07 1032.59 663.3 1026.79 672.54 1021.24 681.78 1015.93 691.02 1010.87 700.26 1006.02 709.5 1001.4 718.74 996.97 727.98 992.75 737.21 988.71 746.45 984.85 755.69 981.17 764.93 977.65 774.17 974.28 783.41 971.06 792.65 967.99 801.88 965.05 811.12 962.25 820.36 959.56 829.6 957 838.84 954.55 848.08 952.21 857.32 949.98 866.56 947.84 875.8 945.8 885.03 943.85 894.27 941.98 903.51 940.2 912.75 938.5M543.2 1127.4 552.44 1117.93 561.68 1108.87 570.92 1100.22 580.16 1091.95 589.39 1084.06 598.63 1076.51 607.87 1069.29 617.11 1062.4 626.35 1055.82 635.59 1049.52 644.83 1043.51 654.07 1037.76 663.3 1032.27 672.54 1027.02 681.78 1022.01 691.02 1017.22 700.26 1012.64 709.5 1008.27 718.74 1004.09 727.98 1000.09 737.21 996.27 746.45 992.63 755.69 989.14 764.93 985.81 774.17 982.63 783.41 979.59 792.65 976.68 801.88 973.9 811.12 971.25 820.36 968.72 829.6 966.29 838.84 963.98 848.08 961.77 857.32 959.65 866.56 957.63 875.8 955.7 885.03 953.86 894.27 952.09 903.51 950.41 912.75 948.8M543.2 1127.4 552.44 1117.99 561.68 1109.01 570.92 1100.42 580.16 1092.21 589.39 1084.37 598.63 1076.88 607.87 1069.72 617.11 1062.88 626.35 1056.34 635.59 1050.09 644.83 1044.12 654.07 1038.42 663.3 1032.96 672.54 1027.76 681.78 1022.78 691.02 1018.02 700.26 1013.48 709.5 1009.13 718.74 1004.98 727.98 1001.02 737.21 997.23 746.45 993.61 755.69 990.15 764.93 986.84 774.17 983.68 783.41 980.66 792.65 977.78 801.88 975.02 811.12 972.39 820.36 969.87 829.6 967.47 838.84 965.17 848.08 962.97 857.32 960.87 866.56 958.87 875.8 956.95 885.03 955.12 894.27 953.37 903.51 951.7 912.75 950.1M543.2 1127.4 552.44 1118.51 561.68 1110.01 570.92 1101.9 580.16 1094.14 589.39 1086.73 598.63 1079.64 607.87 1072.87 617.11 1066.41 626.35 1060.23 635.59 1054.32 644.83 1048.68 654.07 1043.28 663.3 1038.13 672.54 1033.21 681.78 1028.5 691.02 1024.01 700.26 1019.71 709.5 1015.6 718.74 1011.68 727.98 1007.93 737.21 1004.35 746.45 1000.93 755.69 997.66 764.93 994.53 774.17 991.54 783.41 988.69 792.65 985.96 801.88 983.36 811.12 980.87 820.36 978.49 829.6 976.22 838.84 974.04 848.08 971.97 857.32 969.98 866.56 968.09 875.8 966.28 885.03 964.54 894.27 962.89 903.51 961.31 912.75 959.8M543.2 1127.4 552.44 1118.61 561.68 1110.21 570.92 1102.18 580.16 1094.51 589.39 1087.19 598.63 1080.18 607.87 1073.49 617.11 1067.1 626.35 1060.99 635.59 1055.15 644.83 1049.57 654.07 1044.24 663.3 1039.14 672.54 1034.27 681.78 1029.62 691.02 1025.18 700.26 1020.93 709.5 1016.87 718.74 1012.99 727.98 1009.29 737.21 1005.75 746.45 1002.36 755.69 999.13 764.93 996.04 774.17 993.08 783.41 990.26 792.65 987.57 801.88 984.99 811.12 982.53 820.36 980.18 829.6 977.93 838.84 975.78 848.08 973.73 857.32 971.77 866.56 969.89 875.8 968.1 885.03 966.39 894.27 964.76 903.51 963.19 912.75 961.7M543.2 1127.4 552.44 1118.92 561.68 1110.81 570.92 1103.07 580.16 1095.67 589.39 1088.59 598.63 1081.84 607.87 1075.38 617.11 1069.21 626.35 1063.31 635.59 1057.68 644.83 1052.29 654.07 1047.15 663.3 1042.23 672.54 1037.53 681.78 1033.05 691.02 1028.76 700.26 1024.66 709.5 1020.74 718.74 1017 727.98 1013.42 737.21 1010 746.45 1006.74 755.69 1003.62 764.93 1000.64 774.17 997.79 783.41 995.06 792.65 992.46 801.88 989.98 811.12 987.6 820.36 985.33 829.6 983.16 838.84 981.09 848.08 979.11 857.32 977.21 866.56 975.41 875.8 973.68 885.03 972.03 894.27 970.45 903.51 968.94 912.75 967.5M543.2 1127.4 552.44 1118.99 561.68 1110.95 570.92 1103.26 580.16 1095.92 589.39 1088.91 598.63 1082.21 607.87 1075.8 617.11 1069.68 626.35 1063.83 635.59 1058.24 644.83 1052.9 654.07 1047.8 663.3 1042.92 672.54 1038.26 681.78 1033.81 691.02 1029.56 700.26 1025.49 709.5 1021.61 718.74 1017.89 727.98 1014.35 737.21 1010.96 746.45 1007.72 755.69 1004.62 764.93 1001.67 774.17 998.84 783.41 996.14 792.65 993.56 801.88 991.09 811.12 988.74 820.36 986.49 829.6 984.33 838.84 982.28 848.08 980.31 857.32 978.44 866.56 976.64 875.8 974.93 885.03 973.29 894.27 971.72 903.51 970.23 912.75 968.8M543.2 1127.4 552.44 1119.33 561.68 1111.62 570.92 1104.25 580.16 1097.21 589.39 1090.49 598.63 1084.06 607.87 1077.92 617.11 1072.05 626.35 1066.44 635.59 1061.08 644.83 1055.96 654.07 1051.06 663.3 1046.39 672.54 1041.92 681.78 1037.65 691.02 1033.57 700.26 1029.67 709.5 1025.94 718.74 1022.38 727.98 1018.98 737.21 1015.73 746.45 1012.62 755.69 1009.66 764.93 1006.82 774.17 1004.11 783.41 1001.52 792.65 999.04 801.88 996.68 811.12 994.42 820.36 992.26 829.6 990.2 838.84 988.23 848.08 986.34 857.32 984.54 866.56 982.82 875.8 981.18 885.03 979.61 894.27 978.1 903.51 976.67 912.75 975.3M543.2 1127.4 552.44 1119.4 561.68 1111.76 570.92 1104.45 580.16 1097.47 589.39 1090.8 598.63 1084.43 607.87 1078.34 617.11 1072.52 626.35 1066.96 635.59 1061.64 644.83 1056.57 654.07 1051.72 663.3 1047.08 672.54 1042.65 681.78 1038.41 691.02 1034.37 700.26 1030.5 709.5 1026.81 718.74 1023.28 727.98 1019.91 737.21 1016.68 746.45 1013.6 755.69 1010.66 764.93 1007.85 774.17 1005.16 783.41 1002.6 792.65 1000.14 801.88 997.8 811.12 995.56 820.36 993.42 829.6 991.37 838.84 989.41 848.08 987.55 857.32 985.76 866.56 984.06 875.8 982.43 885.03 980.87 894.27 979.38 903.51 977.96 912.75 976.6M543.2 1127.4 552.44 1119.61 561.68 1112.16 570.92 1105.05 580.16 1098.25 589.39 1091.75 598.63 1085.54 607.87 1079.61 617.11 1073.94 626.35 1068.52 635.59 1063.35 644.83 1058.4 654.07 1053.67 663.3 1049.16 672.54 1044.84 681.78 1040.72 691.02 1036.78 700.26 1033.01 709.5 1029.41 718.74 1025.97 727.98 1022.69 737.21 1019.55 746.45 1016.55 755.69 1013.68 764.93 1010.94 774.17 1008.32 783.41 1005.82 792.65 1003.43 801.88 1001.15 811.12 998.97 820.36 996.88 829.6 994.89 838.84 992.98 848.08 991.16 857.32 989.43 866.56 987.76 875.8 986.18 885.03 984.66 894.27 983.21 903.51 981.82 912.75 980.5M543.2 1127.4 552.44 1119.81 561.68 1112.56 570.92 1105.62 580.16 1099 589.39 1092.67 598.63 1086.62 607.87 1080.84 617.11 1075.32 626.35 1070.04 635.59 1065 644.83 1060.18 654.07 1055.58 663.3 1051.18 672.54 1046.98 681.78 1042.96 691.02 1039.12 700.26 1035.45 709.5 1031.95 718.74 1028.6 727.98 1025.4 737.21 1022.34 746.45 1019.42 755.69 1016.62 764.93 1013.95 774.17 1011.4 783.41 1008.97 792.65 1006.64 801.88 1004.41 811.12 1002.29 820.36 1000.26 829.6 998.32 838.84 996.46 848.08 994.69 857.32 992.99 866.56 991.38 875.8 989.83 885.03 988.35 894.27 986.94 903.51 985.59 912.75 984.3M543.2 1127.4 552.44 1120.08 561.68 1113.09 570.92 1106.41 580.16 1100.03 589.39 1093.93 598.63 1088.1 607.87 1082.54 617.11 1077.21 626.35 1072.13 635.59 1067.27 644.83 1062.63 654.07 1058.19 663.3 1053.95 672.54 1049.9 681.78 1046.03 691.02 1042.33 700.26 1038.79 709.5 1035.41 718.74 1032.19 727.98 1029.1 737.21 1026.16 746.45 1023.34 755.69 1020.65 764.93 1018.08 774.17 1015.62 783.41 1013.27 792.65 1011.03 801.88 1008.88 811.12 1006.83 820.36 1004.88 829.6 1003.01 838.84 1001.22 848.08 999.51 857.32 997.88 866.56 996.32 875.8 994.83 885.03 993.4 894.27 992.04 903.51 990.74 912.75 989.5M543.2 1127.4 552.44 1120.12 561.68 1113.17 570.92 1106.52 580.16 1100.17 589.39 1094.1 598.63 1088.3 607.87 1082.76 617.11 1077.47 626.35 1072.41 635.59 1067.58 644.83 1062.96 654.07 1058.54 663.3 1054.32 672.54 1050.29 681.78 1046.44 691.02 1042.76 700.26 1039.24 709.5 1035.88 718.74 1032.67 727.98 1029.6 737.21 1026.67 746.45 1023.87 755.69 1021.19 764.93 1018.63 774.17 1016.19 783.41 1013.85 792.65 1011.62 801.88 1009.49 811.12 1007.45 820.36 1005.5 829.6 1003.64 838.84 1001.86 848.08 1000.16 857.32 998.54 866.56 996.98 875.8 995.5 885.03 994.08 894.27 992.73 903.51 991.44 912.75 990.2M543.2 1127.4 552.44 1120.6 561.68 1114.1 570.92 1107.89 580.16 1101.96 589.39 1096.29 598.63 1090.87 607.87 1085.69 617.11 1080.74 626.35 1076.02 635.59 1071.5 644.83 1067.18 654.07 1063.06 663.3 1059.12 672.54 1055.35 681.78 1051.75 691.02 1048.31 700.26 1045.03 709.5 1041.89 718.74 1038.88 727.98 1036.02 737.21 1033.28 746.45 1030.66 755.69 1028.16 764.93 1025.77 774.17 1023.48 783.41 1021.3 792.65 1019.21 801.88 1017.22 811.12 1015.32 820.36 1013.5 829.6 1011.76 838.84 1010.09 848.08 1008.51 857.32 1006.99 866.56 1005.54 875.8 1004.15 885.03 1002.83 894.27 1001.56 903.51 1000.36 912.75 999.2M543.2 1127.4 552.44 1120.7 561.68 1114.3 570.92 1108.18 580.16 1102.33 589.39 1096.75 598.63 1091.41 607.87 1086.31 617.11 1081.44 626.35 1076.78 635.59 1072.33 644.83 1068.08 654.07 1064.01 663.3 1060.13 672.54 1056.42 681.78 1052.87 691.02 1049.48 700.26 1046.25 709.5 1043.15 718.74 1040.2 727.98 1037.37 737.21 1034.67 746.45 1032.09 755.69 1029.63 764.93 1027.27 774.17 1025.02 783.41 1022.87 792.65 1020.82 801.88 1018.85 811.12 1016.98 820.36 1015.18 829.6 1013.47 838.84 1011.83 848.08 1010.27 857.32 1008.77 866.56 1007.35 875.8 1005.98 885.03 1004.68 894.27 1003.43 903.51 1002.24 912.75 1001.1M543.2 1127.4 552.44 1120.91 561.68 1114.7 570.92 1108.77 580.16 1103.11 589.39 1097.69 598.63 1092.52 607.87 1087.58 617.11 1082.86 626.35 1078.34 635.59 1074.03 644.83 1069.91 654.07 1065.97 663.3 1062.21 672.54 1058.61 681.78 1055.17 691.02 1051.89 700.26 1048.75 709.5 1045.75 718.74 1042.89 727.98 1040.15 737.21 1037.54 746.45 1035.04 755.69 1032.65 764.93 1030.36 774.17 1028.18 783.41 1026.1 792.65 1024.11 801.88 1022.2 811.12 1020.39 820.36 1018.65 829.6 1016.99 838.84 1015.4 848.08 1013.89 857.32 1012.44 866.56 1011.05 875.8 1009.73 885.03 1008.47 894.27 1007.26 903.51 1006.1 912.75 1005M543.2 1127.4 552.44 1120.98 561.68 1114.84 570.92 1108.97 580.16 1103.37 589.39 1098.01 598.63 1092.89 607.87 1088 617.11 1083.33 626.35 1078.86 635.59 1074.6 644.83 1070.52 654.07 1066.62 663.3 1062.9 672.54 1059.34 681.78 1055.94 691.02 1052.69 700.26 1049.59 709.5 1046.62 718.74 1043.79 727.98 1041.08 737.21 1038.49 746.45 1036.02 755.69 1033.65 764.93 1031.4 774.17 1029.24 783.41 1027.18 792.65 1025.2 801.88 1023.32 811.12 1021.52 820.36 1019.8 829.6 1018.16 838.84 1016.59 848.08 1015.09 857.32 1013.66 866.56 1012.29 875.8 1010.98 885.03 1009.73 894.27 1008.53 903.51 1007.39 912.75 1006.3M543.2 1127.4 552.44 1121.28 561.68 1115.44 570.92 1109.85 580.16 1104.52 589.39 1099.42 598.63 1094.54 607.87 1089.89 617.11 1085.44 626.35 1081.19 635.59 1077.12 644.83 1073.24 654.07 1069.53 663.3 1065.99 672.54 1062.6 681.78 1059.36 691.02 1056.27 700.26 1053.31 709.5 1050.49 718.74 1047.79 727.98 1045.21 737.21 1042.75 746.45 1040.39 755.69 1038.14 764.93 1035.99 774.17 1033.94 783.41 1031.98 792.65 1030.1 801.88 1028.31 811.12 1026.59 820.36 1024.96 829.6 1023.39 838.84 1021.9 848.08 1020.47 857.32 1019.11 866.56 1017.8 875.8 1016.55 885.03 1015.36 894.27 1014.23 903.51 1013.14 912.75 1012.1M543.2 1127.4 552.44 1121.49 561.68 1115.84 570.92 1110.45 580.16 1105.29 589.39 1100.36 598.63 1095.66 607.87 1091.16 617.11 1086.86 626.35 1082.75 635.59 1078.82 644.83 1075.07 654.07 1071.49 663.3 1068.06 672.54 1064.79 681.78 1061.66 691.02 1058.68 700.26 1055.82 709.5 1053.09 718.74 1050.48 727.98 1047.99 737.21 1045.61 746.45 1043.34 755.69 1041.16 764.93 1039.09 774.17 1037.1 783.41 1035.2 792.65 1033.39 801.88 1031.66 811.12 1030 820.36 1028.42 829.6 1026.91 838.84 1025.47 848.08 1024.09 857.32 1022.77 866.56 1021.51 875.8 1020.3 885.03 1019.15 894.27 1018.05 903.51 1017 912.75 1016M543.2 1127.4 552.44 1121.56 561.68 1115.98 570.92 1110.65 580.16 1105.55 589.39 1100.68 598.63 1096.03 607.87 1091.58 617.11 1087.33 626.35 1083.27 635.59 1079.39 644.83 1075.68 654.07 1072.14 663.3 1068.76 672.54 1065.52 681.78 1062.43 691.02 1059.48 700.26 1056.66 709.5 1053.96 718.74 1051.38 727.98 1048.92 737.21 1046.57 746.45 1044.32 755.69 1042.17 764.93 1040.12 774.17 1038.15 783.41 1036.28 792.65 1034.49 801.88 1032.78 811.12 1031.14 820.36 1029.58 829.6 1028.08 838.84 1026.66 848.08 1025.29 857.32 1023.99 866.56 1022.74 875.8 1021.55 885.03 1020.42 894.27 1019.33 903.51 1018.29 912.75 1017.3M543.2 1127.4 552.44 1121.94 561.68 1116.71 570.92 1111.73 580.16 1106.96 589.39 1102.4 598.63 1098.05 607.87 1093.89 617.11 1089.92 626.35 1086.12 635.59 1082.49 644.83 1079.02 654.07 1075.71 663.3 1072.54 672.54 1069.51 681.78 1066.62 691.02 1063.86 700.26 1061.22 709.5 1058.69 718.74 1056.28 727.98 1053.98 737.21 1051.78 746.45 1049.68 755.69 1047.67 764.93 1045.74 774.17 1043.91 783.41 1042.16 792.65 1040.48 801.88 1038.88 811.12 1037.35 820.36 1035.89 829.6 1034.49 838.84 1033.15 848.08 1031.88 857.32 1030.66 866.56 1029.49 875.8 1028.38 885.03 1027.32 894.27 1026.3 903.51 1025.33 912.75 1024.4M543.2 1127.4 552.44 1122.11 561.68 1117.05 570.92 1112.21 580.16 1107.59 589.39 1103.18 598.63 1098.96 607.87 1094.93 617.11 1091.08 626.35 1087.4 635.59 1083.88 644.83 1080.52 654.07 1077.31 663.3 1074.24 672.54 1071.31 681.78 1068.51 691.02 1065.83 700.26 1063.27 709.5 1060.83 718.74 1058.49 727.98 1056.26 737.21 1054.13 746.45 1052.09 755.69 1050.14 764.93 1048.28 774.17 1046.5 783.41 1044.8 792.65 1043.18 801.88 1041.63 811.12 1040.15 820.36 1038.73 829.6 1037.37 838.84 1036.08 848.08 1034.84 857.32 1033.66 866.56 1032.53 875.8 1031.46 885.03 1030.43 894.27 1029.44 903.51 1028.5 912.75 1027.6M543.2 1127.4 552.44 1122.36 561.68 1117.53 570.92 1112.93 580.16 1108.53 589.39 1104.32 598.63 1100.3 607.87 1096.46 617.11 1092.79 626.35 1089.28 635.59 1085.93 644.83 1082.73 654.07 1079.67 663.3 1076.75 672.54 1073.95 681.78 1071.28 691.02 1068.73 700.26 1066.29 709.5 1063.96 718.74 1061.74 727.98 1059.61 737.21 1057.58 746.45 1055.64 755.69 1053.78 764.93 1052.01 774.17 1050.31 783.41 1048.69 792.65 1047.15 801.88 1045.67 811.12 1044.25 820.36 1042.9 829.6 1041.61 838.84 1040.38 848.08 1039.2 857.32 1038.08 866.56 1037 875.8 1035.97 885.03 1034.99 894.27 1034.05 903.51 1033.16 912.75 1032.3" fill="none" stroke="#6e6e6e" stroke-width="0.65" stroke-linejoin="round"/>
<rect x="56.5" y="97.4" width="11" height="11" fill="#fff" stroke="#8a8a8a" stroke-width="1"/>
<rect x="102.5" y="115.8" width="11" height="11" fill="#fff" stroke="#8a8a8a" stroke-width="1"/>
<rect x="153" y="141.2" width="11" height="11" fill="#fff" stroke="#8a8a8a" stroke-width="1"/>
<rect x="201.4" y="151.5" width="11" height="11" fill="#fff" stroke="#8a8a8a" stroke-width="1"/>
<rect x="252.4" y="165.7" width="11" height="11" fill="#fff" stroke="#8a8a8a" stroke-width="1"/>
<rect x="301.8" y="177" width="11" height="11" fill="#fff" stroke="#8a8a8a" stroke-width="1"/>
<rect x="350.9" y="190.2" width="11" height="11" fill="#fff" stroke="#8a8a8a" stroke-width="1"/>
<rect x="404.5" y="200.2" width="11" height="11" fill="#fff" stroke="#8a8a8a" stroke-width="1"/>
<rect x="56.2" y="100.8" width="11.6" height="11.4" fill="#060909"/>
<rect x="102.2" y="117.1" width="11.6" height="11.4" fill="#060909"/>
<rect x="152.7" y="137" width="11.6" height="11.4" fill="#060909"/>
<rect x="201.1" y="166.4" width="11.6" height="11.4" fill="#060909"/>
<rect x="252.1" y="170.6" width="11.6" height="11.4" fill="#060909"/>
<rect x="301.5" y="187.5" width="11.6" height="11.4" fill="#060909"/>
<rect x="350.6" y="199.7" width="11.6" height="11.4" fill="#060909"/>
<rect x="404.2" y="212.8" width="11.6" height="11.4" fill="#060909"/>
<rect x="541.2" y="230.6" width="11" height="11" fill="#fff" stroke="#8a8a8a" stroke-width="1"/>
<rect x="587.5" y="212.3" width="11" height="11" fill="#fff" stroke="#8a8a8a" stroke-width="1"/>
<rect x="637.6" y="199.7" width="11" height="11" fill="#fff" stroke="#8a8a8a" stroke-width="1"/>
<rect x="686.5" y="189.8" width="11" height="11" fill="#fff" stroke="#8a8a8a" stroke-width="1"/>
<rect x="737.4" y="179.5" width="11" height="11" fill="#fff" stroke="#8a8a8a" stroke-width="1"/>
<rect x="786.5" y="164.8" width="11" height="11" fill="#fff" stroke="#8a8a8a" stroke-width="1"/>
<rect x="835.5" y="141.3" width="11" height="11" fill="#fff" stroke="#8a8a8a" stroke-width="1"/>
<rect x="889.3" y="133.5" width="11" height="11" fill="#fff" stroke="#8a8a8a" stroke-width="1"/>
<rect x="540.9" y="230.4" width="11.6" height="11.4" fill="#060909"/>
<rect x="587.2" y="216.8" width="11.6" height="11.4" fill="#060909"/>
<rect x="637.3" y="214.8" width="11.6" height="11.4" fill="#060909"/>
<rect x="686.2" y="205.2" width="11.6" height="11.4" fill="#060909"/>
<rect x="737.1" y="188.5" width="11.6" height="11.4" fill="#060909"/>
<rect x="786.2" y="175.8" width="11.6" height="11.4" fill="#060909"/>
<rect x="835.2" y="161.8" width="11.6" height="11.4" fill="#060909"/>
<rect x="889" y="149.5" width="11.6" height="11.4" fill="#060909"/>
<rect x="1029.7" y="286" width="11" height="11" fill="#fff" stroke="#8a8a8a" stroke-width="1"/>
<rect x="1076.3" y="247.3" width="11" height="11" fill="#fff" stroke="#8a8a8a" stroke-width="1"/>
<rect x="1126.4" y="201" width="11" height="11" fill="#fff" stroke="#8a8a8a" stroke-width="1"/>
<rect x="1174.5" y="185.9" width="11" height="11" fill="#fff" stroke="#8a8a8a" stroke-width="1"/>
<rect x="1225.7" y="165.9" width="11" height="11" fill="#fff" stroke="#8a8a8a" stroke-width="1"/>
<rect x="1275.1" y="155.7" width="11" height="11" fill="#fff" stroke="#8a8a8a" stroke-width="1"/>
<rect x="1324.5" y="128.5" width="11" height="11" fill="#fff" stroke="#8a8a8a" stroke-width="1"/>
<rect x="1029.4" y="287.2" width="11.6" height="11.4" fill="#060909"/>
<rect x="1076" y="259.9" width="11.6" height="11.4" fill="#060909"/>
<rect x="1126.1" y="241.5" width="11.6" height="11.4" fill="#060909"/>
<rect x="1174.2" y="208.3" width="11.6" height="11.4" fill="#060909"/>
<rect x="1225.4" y="184.3" width="11.6" height="11.4" fill="#060909"/>
<rect x="1274.8" y="159.2" width="11.6" height="11.4" fill="#060909"/>
<rect x="1324.2" y="147.9" width="11.6" height="11.4" fill="#060909"/>
<rect x="1377.4" y="134.7" width="11.6" height="11.4" fill="#060909"/>
<rect x="51.5" y="616.3" width="11" height="11" fill="#fff" stroke="#8a8a8a" stroke-width="1"/>
<rect x="97.7" y="624.3" width="11" height="11" fill="#fff" stroke="#8a8a8a" stroke-width="1"/>
<rect x="148" y="614.1" width="11" height="11" fill="#fff" stroke="#8a8a8a" stroke-width="1"/>
<rect x="196.5" y="614.4" width="11" height="11" fill="#fff" stroke="#8a8a8a" stroke-width="1"/>
<rect x="247.7" y="599.3" width="11" height="11" fill="#fff" stroke="#8a8a8a" stroke-width="1"/>
<rect x="296.9" y="606.7" width="11" height="11" fill="#fff" stroke="#8a8a8a" stroke-width="1"/>
<rect x="346" y="601.4" width="11" height="11" fill="#fff" stroke="#8a8a8a" stroke-width="1"/>
<rect x="399.6" y="592.5" width="11" height="11" fill="#fff" stroke="#8a8a8a" stroke-width="1"/>
<rect x="51.2" y="611.9" width="11.6" height="11.4" fill="#060909"/>
<rect x="97.4" y="612.5" width="11.6" height="11.4" fill="#060909"/>
<rect x="147.7" y="606.1" width="11.6" height="11.4" fill="#060909"/>
<rect x="196.2" y="606.8" width="11.6" height="11.4" fill="#060909"/>
<rect x="247.4" y="594" width="11.6" height="11.4" fill="#060909"/>
<rect x="296.6" y="582.8" width="11.6" height="11.4" fill="#060909"/>
<rect x="345.7" y="585.8" width="11.6" height="11.4" fill="#060909"/>
<rect x="399.3" y="562.8" width="11.6" height="11.4" fill="#060909"/>
<rect x="1077" y="549.1" width="11" height="11" fill="#fff" stroke="#8a8a8a" stroke-width="1"/>
<rect x="1127.2" y="547.2" width="11" height="11" fill="#fff" stroke="#8a8a8a" stroke-width="1"/>
<rect x="1175.9" y="536.5" width="11" height="11" fill="#fff" stroke="#8a8a8a" stroke-width="1"/>
<rect x="1226.6" y="497.3" width="11" height="11" fill="#fff" stroke="#8a8a8a" stroke-width="1"/>
<rect x="1276" y="538.3" width="11" height="11" fill="#fff" stroke="#8a8a8a" stroke-width="1"/>
<rect x="1076.7" y="547.2" width="11.6" height="11.4" fill="#060909"/>
<rect x="1126.9" y="540.8" width="11.6" height="11.4" fill="#060909"/>
<rect x="1175.6" y="527.1" width="11.6" height="11.4" fill="#060909"/>
<rect x="1226.3" y="534.7" width="11.6" height="11.4" fill="#060909"/>
<rect x="1275.7" y="531.9" width="11.6" height="11.4" fill="#060909"/>
<rect x="1325.2" y="551.9" width="11.6" height="11.4" fill="#060909"/>
<rect x="50.6" y="1116.4" width="11" height="11" fill="#fff" stroke="#8a8a8a" stroke-width="1"/>
<rect x="96.9" y="1110.2" width="11" height="11" fill="#fff" stroke="#8a8a8a" stroke-width="1"/>
<rect x="146.8" y="1078.5" width="11" height="11" fill="#fff" stroke="#8a8a8a" stroke-width="1"/>
<rect x="195.5" y="1082.1" width="11" height="11" fill="#fff" stroke="#8a8a8a" stroke-width="1"/>
<rect x="246.5" y="1043.5" width="11" height="11" fill="#fff" stroke="#8a8a8a" stroke-width="1"/>
<rect x="295.8" y="1049.5" width="11" height="11" fill="#fff" stroke="#8a8a8a" stroke-width="1"/>
<rect x="344.9" y="1068.2" width="11" height="11" fill="#fff" stroke="#8a8a8a" stroke-width="1"/>
<rect x="398.2" y="1040.7" width="11" height="11" fill="#fff" stroke="#8a8a8a" stroke-width="1"/>
<rect x="50.3" y="1102.9" width="11.6" height="11.4" fill="#060909"/>
<rect x="96.6" y="1100.3" width="11.6" height="11.4" fill="#060909"/>
<rect x="146.5" y="1067" width="11.6" height="11.4" fill="#060909"/>
<rect x="195.2" y="1072.5" width="11.6" height="11.4" fill="#060909"/>
<rect x="246.2" y="1063.5" width="11.6" height="11.4" fill="#060909"/>
<rect x="295.5" y="1017.1" width="11.6" height="11.4" fill="#060909"/>
<rect x="344.6" y="1027.3" width="11.6" height="11.4" fill="#060909"/>
<rect x="397.9" y="1003" width="11.6" height="11.4" fill="#060909"/>
<path d="M1034.8 933.4L1283.6 1130.4" fill="none" stroke="#666" stroke-width="1.9"/>
<path d="M1034.5 932.6 1035.7 933.6 1038.1 937.35 1040.5 940.8 1044.5 946.9 1048.6 953 1051.4 956.89 1054.2 960.2 1057.45 965 1060.7 969.1 1064.7 974 1065.5 973.2 1066.3 974.8 1070.4 979.6 1074.4 986.1 1077.25 989.83 1080.1 992.5 1082.5 995.64 1084.9 998.2 1087.75 1001.96 1090.6 1004.7 1093.8 1007.33 1097 1011.1 1099.5 1015 1101.75 1016.96 1104 1019 1107 1022.28 1110 1024.5 1112.5 1027.18 1115 1029.5 1117.5 1032.03 1120 1033.6 1122.4 1035.59 1124.8 1038.5 1127.07 1040.06 1129.33 1041.4 1131.6 1043.3 1134.2 1045.62 1136.8 1047.92 1139.4 1050.1 1141.67 1050.82 1143.93 1052.36 1146.2 1054 1149.1 1056.14 1152 1058.8 1153.9 1058 1156.8 1062.7 1159.07 1064.5 1161.33 1065.62 1163.6 1066.6 1166.05 1067.89 1168.5 1070 1169.9 1068.8 1174.3 1073.4 1177.2 1075.21 1180.1 1076.3 1182.67 1076.83 1185.23 1078.37 1187.8 1079.2 1190.25 1080.65 1192.7 1083 1195.6 1080.9 1199.5 1084.5 1203.4 1086 1207.2 1087.9 1211.1 1088.9 1214.5 1090.8 1216.4 1083 1217.4 1091.8 1221.8 1093.7 1224.2 1094.3 1226.6 1096.1 1230.1 1097.7 1232.65 1096.15 1235.2 1093.7 1236.3 1092.3 1239.4 1098.5 1240.8 1091.2 1241.9 1097.1 1245.05 1099 1248.2 1101.6 1249.3 1093.4 1250.4 1101.6 1252.95 1102.41 1255.5 1103.9 1257.5 1101.1 1260 1105.6 1262.25 1106.58 1264.5 1106.4 1265.4 1099.6 1267.9 1107 1270.53 1107.71 1273.17 1107.28 1275.8 1107.8 1278.65 1109.2 1281.5 1109.5 1283.75 1109.4 1286 1109.2 1289.9 1111.8 1292.73 1112.11 1295.57 1111.65 1298.4 1112.1 1301.07 1112.73 1303.73 1112.53 1306.4 1112.4 1309.5 1114.6 1312.05 1114.71 1314.6 1113.7 1317.45 1115.57 1320.3 1116.5 1322.55 1115.16 1324.8 1114.3 1328.6 1116.5 1330.97 1116.91 1333.35 1117.25 1335.72 1117.8 1338.1 1118.8 1340.63 1118.14 1343.17 1118.29 1345.7 1118.4 1348.25 1119.47 1350.8 1120.3 1354 1119.25 1357.2 1119.4 1360.35 1120.26 1363.5 1120.7 1367.3 1121.6 1368.6 1120 1369.9 1121.6 1371.2 1116.2 1373.1 1116.8 1374.3 1116.2 1375.6 1116.8 1376.9 1119.4" fill="none" stroke="#2a2a2a" stroke-width="0.9" stroke-linejoin="round"/>
<path d="M1034.4 932.4 1036.05 929.3 1037.7 926.3 1039.3 927.72 1040.9 929.5 1044.1 933.2 1047 939.2 1049.4 944.9 1051.8 943.7 1053.4 942.79 1055 942.9 1057.05 946.41 1059.1 948.9 1061.1 946.41 1063.1 945.3 1065.5 946.5 1067.6 955.4 1069.4 957 1071.2 958.6 1074 964.3 1076.8 968.3 1078.65 969.66 1080.5 969.9 1082.9 964.7 1085.7 972.4 1088.2 977.2 1090.6 976.4 1093 984.5 1094.6 986.71 1096.2 990.1 1098.25 990.98 1100.3 991.7 1103.1 989.3 1105.9 996.6 1107.55 999.56 1109.2 1002.2 1110.8 1003.21 1112.4 1005.5 1115.6 1003.9 1117.25 1005.73 1118.9 1007.9 1121.3 1011.9 1123.9 1013.3 1125.85 1016.48 1127.8 1019.1 1129.7 1019.28 1131.6 1019.6 1133.8 1022.82 1136 1025.4 1137.7 1026.37 1139.4 1028.3 1142.3 1026.8 1145.2 1032.2 1147.15 1032.28 1149.1 1033.1 1151.05 1035.26 1153 1038.5 1154.9 1038.51 1156.8 1038.5 1158.75 1040.04 1160.7 1040.4 1162.33 1042.13 1163.97 1043.98 1165.6 1045.2 1167.5 1046.29 1169.4 1047.7 1172.3 1043.8 1173.93 1045.91 1175.57 1046.78 1177.2 1049.1 1179.6 1051.26 1182 1054 1183.93 1055.21 1185.87 1056.25 1187.8 1056.9 1189.43 1057.76 1191.07 1058.26 1192.7 1059.8 1195.1 1060.67 1197.5 1062.2 1199.2 1062.64 1200.9 1063.59 1202.6 1065.18 1204.3 1065.6 1206.25 1066.15 1208.2 1068.09 1210.15 1069.06 1212.1 1069.5 1213.7 1069.18 1215.3 1069.93 1216.9 1070.4 1218.52 1071.04 1220.13 1071.03 1221.75 1072.24 1223.37 1073.57 1224.98 1073.11 1226.6 1074.3 1228.28 1075.08 1229.96 1075.05 1231.64 1076.33 1233.32 1077.41 1235 1077.5 1236.63 1078.08 1238.27 1078.72 1239.9 1079.49 1241.53 1080.45 1243.17 1080.93 1244.8 1081.9 1246.44 1082.21 1248.08 1082.93 1249.72 1083.66 1251.37 1083.93 1253.01 1084.43 1254.65 1085.07 1256.29 1085.31 1257.93 1086.07 1259.58 1086.39 1261.22 1087.12 1262.86 1087.81 1264.5 1088.1 1266.2 1088.33 1267.9 1089.03 1269.6 1089.5 1271.3 1089.72 1273 1090.23 1274.7 1091.05 1276.4 1091.5 1278.1 1091.51 1279.8 1092.25 1281.5 1092.6 1283.18 1093.15 1284.86 1093.12 1286.55 1093.64 1288.23 1093.68 1289.91 1094.17 1291.59 1094.65 1293.27 1094.94 1294.95 1095.36 1296.64 1095.34 1298.32 1095.8 1300 1096.2 1301.81 1096.92 1303.63 1097.33 1305.44 1097.8 1307.26 1098.32 1309.07 1099.16 1310.89 1099.49 1312.7 1100 1314.44 1100.17 1316.17 1100.97 1317.91 1101.14 1319.65 1101.6 1321.38 1101.9 1323.12 1102.43 1324.85 1102.78 1326.59 1103.07 1328.33 1103.75 1330.06 1103.89 1331.8 1104.5 1333.53 1104.9 1335.25 1104.77 1336.98 1105.4 1338.71 1105.67 1340.44 1105.77 1342.16 1106.13 1343.89 1106.16 1345.62 1106.66 1347.35 1106.75 1349.07 1106.91 1350.8 1107.3 1352.61 1107.83 1354.43 1107.85 1356.24 1108.14 1358.06 1108.68 1359.87 1108.73 1361.69 1109.18 1363.5 1109.4 1365.31 1109.48 1367.13 1110.06 1368.94 1110.01 1370.76 1110.15 1372.57 1110.85 1374.39 1110.69 1376.2 1111.1" fill="none" stroke="#000" stroke-width="3.8" stroke-linejoin="round" stroke-linecap="round"/>
<text x="13.14" y="314.89" font-family="Liberation Sans" font-size="27" letter-spacing="-1">0</text>
<text x="-0.87" y="215.85" font-family="Liberation Sans" font-size="27" letter-spacing="-1">10</text>
<rect x="0.21" y="213.48" width="5.66" height="2.97" fill="#fff"/>
<rect x="8.32" y="213.48" width="5.4" height="2.97" fill="#fff"/>
<text x="-0.87" y="116.82" font-family="Liberation Sans" font-size="27" letter-spacing="-1">20</text>
<text x="-0.87" y="17.79" font-family="Liberation Sans" font-size="27" letter-spacing="-1">30</text>
<text x="50.49" y="359.5" font-family="Liberation Sans" font-size="27" letter-spacing="-1">0</text>
<text x="112.19" y="359.5" font-family="Liberation Sans" font-size="27" letter-spacing="-1">5</text>
<text x="166.05" y="359.5" font-family="Liberation Sans" font-size="27" letter-spacing="-1">10</text>
<rect x="167.13" y="357.12" width="5.66" height="2.97" fill="#fff"/>
<rect x="175.24" y="357.12" width="5.4" height="2.97" fill="#fff"/>
<text x="227.76" y="359.5" font-family="Liberation Sans" font-size="27" letter-spacing="-1">15</text>
<rect x="228.84" y="357.12" width="5.66" height="2.97" fill="#fff"/>
<rect x="236.95" y="357.12" width="5.4" height="2.97" fill="#fff"/>
<text x="290.01" y="359.5" font-family="Liberation Sans" font-size="27" letter-spacing="-1">20</text>
<text x="351.71" y="359.5" font-family="Liberation Sans" font-size="27" letter-spacing="-1">25</text>
<text x="413.5" y="359.5" font-family="Liberation Sans" font-size="27" letter-spacing="-1">30</text>
<text x="498.04" y="316.79" font-family="Liberation Sans" font-size="27" letter-spacing="-1">0</text>
<text x="477.6" y="242.46" font-family="Liberation Sans" font-size="27" letter-spacing="-1">0.5</text>
<text x="502.79" y="168.14" font-family="Liberation Sans" font-size="27" letter-spacing="-1">1</text>
<rect x="503.87" y="165.76" width="5.66" height="2.97" fill="#fff"/>
<rect x="511.99" y="165.76" width="5.4" height="2.97" fill="#fff"/>
<text x="477.6" y="93.81" font-family="Liberation Sans" font-size="27" letter-spacing="-1">1.5</text>
<rect x="478.68" y="91.44" width="5.66" height="2.97" fill="#fff"/>
<rect x="486.8" y="91.44" width="5.4" height="2.97" fill="#fff"/>
<text x="498.34" y="19.49" font-family="Liberation Sans" font-size="27" letter-spacing="-1">2</text>
<text x="535.19" y="360.5" font-family="Liberation Sans" font-size="27" letter-spacing="-1">0</text>
<text x="596.85" y="360.5" font-family="Liberation Sans" font-size="27" letter-spacing="-1">5</text>
<text x="650.68" y="360.5" font-family="Liberation Sans" font-size="27" letter-spacing="-1">10</text>
<rect x="651.76" y="358.12" width="5.66" height="2.97" fill="#fff"/>
<rect x="659.88" y="358.12" width="5.4" height="2.97" fill="#fff"/>
<text x="712.36" y="360.5" font-family="Liberation Sans" font-size="27" letter-spacing="-1">15</text>
<rect x="713.44" y="358.12" width="5.66" height="2.97" fill="#fff"/>
<rect x="721.55" y="358.12" width="5.4" height="2.97" fill="#fff"/>
<text x="774.57" y="360.5" font-family="Liberation Sans" font-size="27" letter-spacing="-1">20</text>
<text x="836.25" y="360.5" font-family="Liberation Sans" font-size="27" letter-spacing="-1">25</text>
<text x="898" y="360.5" font-family="Liberation Sans" font-size="27" letter-spacing="-1">30</text>
<text x="986.24" y="318.19" font-family="Liberation Sans" font-size="27" letter-spacing="-1">0</text>
<text x="986.54" y="268.67" font-family="Liberation Sans" font-size="27" letter-spacing="-1">2</text>
<text x="985.97" y="219.15" font-family="Liberation Sans" font-size="27" letter-spacing="-1">4</text>
<text x="986.38" y="169.64" font-family="Liberation Sans" font-size="27" letter-spacing="-1">6</text>
<text x="986.35" y="120.12" font-family="Liberation Sans" font-size="27" letter-spacing="-1">8</text>
<text x="972.23" y="70.6" font-family="Liberation Sans" font-size="27" letter-spacing="-1">10</text>
<rect x="973.31" y="68.23" width="5.66" height="2.97" fill="#fff"/>
<rect x="981.42" y="68.23" width="5.4" height="2.97" fill="#fff"/>
<text x="972.53" y="21.09" font-family="Liberation Sans" font-size="27" letter-spacing="-1">12</text>
<rect x="973.61" y="18.71" width="5.66" height="2.97" fill="#fff"/>
<rect x="981.72" y="18.71" width="5.4" height="2.97" fill="#fff"/>
<text x="1023.99" y="362.7" font-family="Liberation Sans" font-size="27" letter-spacing="-1">0</text>
<text x="1085.69" y="362.7" font-family="Liberation Sans" font-size="27" letter-spacing="-1">5</text>
<text x="1139.55" y="362.7" font-family="Liberation Sans" font-size="27" letter-spacing="-1">10</text>
<rect x="1140.63" y="360.32" width="5.66" height="2.97" fill="#fff"/>
<rect x="1148.74" y="360.32" width="5.4" height="2.97" fill="#fff"/>
<text x="1201.26" y="362.7" font-family="Liberation Sans" font-size="27" letter-spacing="-1">15</text>
<rect x="1202.34" y="360.32" width="5.66" height="2.97" fill="#fff"/>
<rect x="1210.45" y="360.32" width="5.4" height="2.97" fill="#fff"/>
<text x="1263.51" y="362.7" font-family="Liberation Sans" font-size="27" letter-spacing="-1">20</text>
<text x="1325.21" y="362.7" font-family="Liberation Sans" font-size="27" letter-spacing="-1">25</text>
<text x="1387" y="362.7" font-family="Liberation Sans" font-size="27" letter-spacing="-1">30</text>
<text x="7.97" y="729.99" font-family="Liberation Sans" font-size="27" letter-spacing="-1">4</text>
<text x="8.32" y="655.69" font-family="Liberation Sans" font-size="27" letter-spacing="-1">5</text>
<text x="8.38" y="581.39" font-family="Liberation Sans" font-size="27" letter-spacing="-1">6</text>
<text x="8.54" y="507.09" font-family="Liberation Sans" font-size="27" letter-spacing="-1">7</text>
<text x="8.35" y="432.79" font-family="Liberation Sans" font-size="27" letter-spacing="-1">8</text>
<text x="45.79" y="774.2" font-family="Liberation Sans" font-size="27" letter-spacing="-1">0</text>
<text x="107.47" y="774.2" font-family="Liberation Sans" font-size="27" letter-spacing="-1">5</text>
<text x="161.32" y="774.2" font-family="Liberation Sans" font-size="27" letter-spacing="-1">10</text>
<rect x="162.4" y="771.82" width="5.66" height="2.97" fill="#fff"/>
<rect x="170.51" y="771.82" width="5.4" height="2.97" fill="#fff"/>
<text x="223.01" y="774.2" font-family="Liberation Sans" font-size="27" letter-spacing="-1">15</text>
<rect x="224.09" y="771.82" width="5.66" height="2.97" fill="#fff"/>
<rect x="232.2" y="771.82" width="5.4" height="2.97" fill="#fff"/>
<text x="285.24" y="774.2" font-family="Liberation Sans" font-size="27" letter-spacing="-1">20</text>
<text x="346.93" y="774.2" font-family="Liberation Sans" font-size="27" letter-spacing="-1">25</text>
<text x="408.7" y="774.2" font-family="Liberation Sans" font-size="27" letter-spacing="-1">30</text>
<text x="476.84" y="728.59" font-family="Liberation Sans" font-size="27" letter-spacing="-1">-10</text>
<rect x="485.91" y="726.21" width="5.66" height="2.97" fill="#fff"/>
<rect x="494.02" y="726.21" width="5.4" height="2.97" fill="#fff"/>
<text x="490.93" y="654.39" font-family="Liberation Sans" font-size="27" letter-spacing="-1">-5</text>
<text x="498.84" y="580.19" font-family="Liberation Sans" font-size="27" letter-spacing="-1">0</text>
<text x="498.92" y="505.99" font-family="Liberation Sans" font-size="27" letter-spacing="-1">5</text>
<text x="484.83" y="431.79" font-family="Liberation Sans" font-size="27" letter-spacing="-1">10</text>
<rect x="485.91" y="429.41" width="5.66" height="2.97" fill="#fff"/>
<rect x="494.02" y="429.41" width="5.4" height="2.97" fill="#fff"/>
<text x="535.99" y="773.2" font-family="Liberation Sans" font-size="27" letter-spacing="-1">0</text>
<text x="597.6" y="773.2" font-family="Liberation Sans" font-size="27" letter-spacing="-1">5</text>
<text x="651.38" y="773.2" font-family="Liberation Sans" font-size="27" letter-spacing="-1">10</text>
<rect x="652.46" y="770.82" width="5.66" height="2.97" fill="#fff"/>
<rect x="660.58" y="770.82" width="5.4" height="2.97" fill="#fff"/>
<text x="713.01" y="773.2" font-family="Liberation Sans" font-size="27" letter-spacing="-1">15</text>
<rect x="714.09" y="770.82" width="5.66" height="2.97" fill="#fff"/>
<rect x="722.2" y="770.82" width="5.4" height="2.97" fill="#fff"/>
<text x="775.17" y="773.2" font-family="Liberation Sans" font-size="27" letter-spacing="-1">20</text>
<text x="836.8" y="773.2" font-family="Liberation Sans" font-size="27" letter-spacing="-1">25</text>
<text x="898.5" y="773.2" font-family="Liberation Sans" font-size="27" letter-spacing="-1">30</text>
<text x="987.44" y="728.89" font-family="Liberation Sans" font-size="27" letter-spacing="-1">0</text>
<text x="987.52" y="629.89" font-family="Liberation Sans" font-size="27" letter-spacing="-1">5</text>
<text x="973.43" y="530.89" font-family="Liberation Sans" font-size="27" letter-spacing="-1">10</text>
<rect x="974.51" y="528.51" width="5.66" height="2.97" fill="#fff"/>
<rect x="982.62" y="528.51" width="5.4" height="2.97" fill="#fff"/>
<text x="973.51" y="431.89" font-family="Liberation Sans" font-size="27" letter-spacing="-1">15</text>
<rect x="974.59" y="429.51" width="5.66" height="2.97" fill="#fff"/>
<rect x="982.7" y="429.51" width="5.4" height="2.97" fill="#fff"/>
<text x="1024.89" y="773.4" font-family="Liberation Sans" font-size="27" letter-spacing="-1">0</text>
<text x="1086.6" y="773.4" font-family="Liberation Sans" font-size="27" letter-spacing="-1">5</text>
<text x="1140.48" y="773.4" font-family="Liberation Sans" font-size="27" letter-spacing="-1">10</text>
<rect x="1141.56" y="771.02" width="5.66" height="2.97" fill="#fff"/>
<rect x="1149.68" y="771.02" width="5.4" height="2.97" fill="#fff"/>
<text x="1202.21" y="773.4" font-family="Liberation Sans" font-size="27" letter-spacing="-1">15</text>
<rect x="1203.29" y="771.02" width="5.66" height="2.97" fill="#fff"/>
<rect x="1211.4" y="771.02" width="5.4" height="2.97" fill="#fff"/>
<text x="1264.47" y="773.4" font-family="Liberation Sans" font-size="27" letter-spacing="-1">20</text>
<text x="1326.2" y="773.4" font-family="Liberation Sans" font-size="27" letter-spacing="-1">25</text>
<text x="1388" y="773.4" font-family="Liberation Sans" font-size="27" letter-spacing="-1">30</text>
<text x="6.67" y="1135.39" font-family="Liberation Sans" font-size="27" letter-spacing="-1">4</text>
<text x="7.02" y="1061.14" font-family="Liberation Sans" font-size="27" letter-spacing="-1">5</text>
<text x="7.08" y="986.89" font-family="Liberation Sans" font-size="27" letter-spacing="-1">6</text>
<text x="7.24" y="912.64" font-family="Liberation Sans" font-size="27" letter-spacing="-1">7</text>
<text x="7.05" y="838.39" font-family="Liberation Sans" font-size="27" letter-spacing="-1">8</text>
<text x="44.39" y="1179.8" font-family="Liberation Sans" font-size="27" letter-spacing="-1">0</text>
<text x="106.07" y="1179.8" font-family="Liberation Sans" font-size="27" letter-spacing="-1">5</text>
<text x="159.92" y="1179.8" font-family="Liberation Sans" font-size="27" letter-spacing="-1">10</text>
<rect x="161" y="1177.42" width="5.66" height="2.97" fill="#fff"/>
<rect x="169.11" y="1177.42" width="5.4" height="2.97" fill="#fff"/>
<text x="221.61" y="1179.8" font-family="Liberation Sans" font-size="27" letter-spacing="-1">15</text>
<rect x="222.69" y="1177.42" width="5.66" height="2.97" fill="#fff"/>
<rect x="230.8" y="1177.42" width="5.4" height="2.97" fill="#fff"/>
<text x="283.84" y="1179.8" font-family="Liberation Sans" font-size="27" letter-spacing="-1">20</text>
<text x="345.53" y="1179.8" font-family="Liberation Sans" font-size="27" letter-spacing="-1">25</text>
<text x="407.3" y="1179.8" font-family="Liberation Sans" font-size="27" letter-spacing="-1">30</text>
<text x="498.04" y="1136.69" font-family="Liberation Sans" font-size="27" letter-spacing="-1">0</text>
<text x="484.03" y="1037.72" font-family="Liberation Sans" font-size="27" letter-spacing="-1">10</text>
<rect x="485.11" y="1035.35" width="5.66" height="2.97" fill="#fff"/>
<rect x="493.22" y="1035.35" width="5.4" height="2.97" fill="#fff"/>
<text x="484.03" y="938.75" font-family="Liberation Sans" font-size="27" letter-spacing="-1">20</text>
<text x="484.03" y="839.79" font-family="Liberation Sans" font-size="27" letter-spacing="-1">30</text>
<text x="535.69" y="1181.8" font-family="Liberation Sans" font-size="27" letter-spacing="-1">0</text>
<text x="597.31" y="1181.8" font-family="Liberation Sans" font-size="27" letter-spacing="-1">5</text>
<text x="651.1" y="1181.8" font-family="Liberation Sans" font-size="27" letter-spacing="-1">10</text>
<rect x="652.18" y="1179.42" width="5.66" height="2.97" fill="#fff"/>
<rect x="660.29" y="1179.42" width="5.4" height="2.97" fill="#fff"/>
<text x="712.73" y="1181.8" font-family="Liberation Sans" font-size="27" letter-spacing="-1">15</text>
<rect x="713.81" y="1179.42" width="5.66" height="2.97" fill="#fff"/>
<rect x="721.93" y="1179.42" width="5.4" height="2.97" fill="#fff"/>
<text x="774.91" y="1181.8" font-family="Liberation Sans" font-size="27" letter-spacing="-1">20</text>
<text x="836.54" y="1181.8" font-family="Liberation Sans" font-size="27" letter-spacing="-1">25</text>
<text x="898.25" y="1181.8" font-family="Liberation Sans" font-size="27" letter-spacing="-1">30</text>
<text x="989.94" y="1139.69" font-family="Liberation Sans" font-size="27" letter-spacing="-1">0</text>
<text x="969.5" y="1040.65" font-family="Liberation Sans" font-size="27" letter-spacing="-1">0.5</text>
<text x="994.69" y="941.62" font-family="Liberation Sans" font-size="27" letter-spacing="-1">1</text>
<rect x="995.77" y="939.25" width="5.66" height="2.97" fill="#fff"/>
<rect x="1003.89" y="939.25" width="5.4" height="2.97" fill="#fff"/>
<text x="969.5" y="842.59" font-family="Liberation Sans" font-size="27" letter-spacing="-1">1.5</text>
<rect x="970.58" y="840.21" width="5.66" height="2.97" fill="#fff"/>
<rect x="978.7" y="840.21" width="5.4" height="2.97" fill="#fff"/>
<text x="1026.99" y="1184.2" font-family="Liberation Sans" font-size="27" letter-spacing="-1">0</text>
<text x="1088.7" y="1184.2" font-family="Liberation Sans" font-size="27" letter-spacing="-1">5</text>
<text x="1142.58" y="1184.2" font-family="Liberation Sans" font-size="27" letter-spacing="-1">10</text>
<rect x="1143.66" y="1181.82" width="5.66" height="2.97" fill="#fff"/>
<rect x="1151.78" y="1181.82" width="5.4" height="2.97" fill="#fff"/>
<text x="1204.31" y="1184.2" font-family="Liberation Sans" font-size="27" letter-spacing="-1">15</text>
<rect x="1205.39" y="1181.82" width="5.66" height="2.97" fill="#fff"/>
<rect x="1213.5" y="1181.82" width="5.4" height="2.97" fill="#fff"/>
<text x="1266.57" y="1184.2" font-family="Liberation Sans" font-size="27" letter-spacing="-1">20</text>
<text x="1328.3" y="1184.2" font-family="Liberation Sans" font-size="27" letter-spacing="-1">25</text>
<text x="1390.1" y="1184.2" font-family="Liberation Sans" font-size="27" letter-spacing="-1">30</text>
<text x="65.45" y="38.34" font-family="Liberation Sans" font-size="30" font-weight="bold" fill="#000">A</text>
<text x="547.59" y="38.34" font-family="Liberation Sans" font-size="30" font-weight="bold" fill="#000">B</text>
<text x="1034.87" y="38.34" font-family="Liberation Sans" font-size="30" font-weight="bold" fill="#000">C</text>
<text x="65.79" y="458.64" font-family="Liberation Sans" font-size="30" font-weight="bold" fill="#000">D</text>
<text x="547.49" y="458.64" font-family="Liberation Sans" font-size="30" font-weight="bold" fill="#000">E</text>
<text x="1043.19" y="458.44" font-family="Liberation Sans" font-size="30" font-weight="bold" fill="#000">F</text>
<text x="65.67" y="859.34" font-family="Liberation Sans" font-size="30" font-weight="bold" fill="#000">G</text>
<text x="547.59" y="859.24" font-family="Liberation Sans" font-size="30" font-weight="bold" fill="#000">H</text>
<text x="1043.19" y="859.74" font-family="Liberation Sans" font-size="30" font-weight="bold" fill="#000">I</text>
<text x="274.19" y="40" font-family="Liberation Sans" font-size="31.8" fill="#000">NO</text>
<text x="321.97" y="50.53" font-family="Liberation Sans" font-size="27.2" fill="#000">3</text>
<rect x="336.8" y="26.4" width="8.4" height="2.6" fill="#000"/>
<text x="350.43" y="40.3" font-family="Liberation Sans" font-size="31.8" fill="#000">(</text>
<g transform="translate(364 25.9)" fill="#000"><rect x="0" y="0" width="2.5" height="14.2"/><path d="M0.15 13.6L2.45 13.6C2.2 15.2 1.6 16.2 1.75 17.8L-0.7 18.4C0.3 16.6 0.35 15.2 0.15 13.6Z"/><circle cx="0.45" cy="19.25" r="1.5"/><path d="M1.9 12.0C2.4 14.9 6.6 15.2 9.6 11.4" fill="none" stroke="#000" stroke-width="1.6"/><rect x="9.1" y="0" width="2.8" height="12.6"/><path d="M10.4 12.2C10.9 15.3 13.9 15.3 14.8 10.9" fill="none" stroke="#000" stroke-width="1.5" stroke-linecap="round"/></g>
<text x="378.59" y="40" font-family="Liberation Sans" font-size="31.8" fill="#000">M</text>
<text x="406.81" y="40.3" font-family="Liberation Sans" font-size="31.8" fill="#000">)</text>
<text x="759.19" y="41.4" font-family="Liberation Sans" font-size="31.8" fill="#000">NO</text>
<text x="806.04" y="52" font-family="Liberation Sans" font-size="27.2" fill="#000">2</text>
<rect x="821.8" y="27.6" width="8.2" height="2.6" fill="#000"/>
<text x="835.43" y="41.7" font-family="Liberation Sans" font-size="31.8" fill="#000">(</text>
<g transform="translate(849.1 27.3)" fill="#000"><rect x="0" y="0" width="2.5" height="14.2"/><path d="M0.15 13.6L2.45 13.6C2.2 15.2 1.6 16.2 1.75 17.8L-0.7 18.4C0.3 16.6 0.35 15.2 0.15 13.6Z"/><circle cx="0.45" cy="19.25" r="1.5"/><path d="M1.9 12.0C2.4 14.9 6.6 15.2 9.6 11.4" fill="none" stroke="#000" stroke-width="1.6"/><rect x="9.1" y="0" width="2.8" height="12.6"/><path d="M10.4 12.2C10.9 15.3 13.9 15.3 14.8 10.9" fill="none" stroke="#000" stroke-width="1.5" stroke-linecap="round"/></g>
<text x="862.99" y="41.4" font-family="Liberation Sans" font-size="31.8" fill="#000">M</text>
<text x="891.51" y="41.7" font-family="Liberation Sans" font-size="31.8" fill="#000">)</text>
<text x="1247.49" y="43.7" font-family="Liberation Sans" font-size="31.8" fill="#000">NH</text>
<text x="1292.87" y="53.8" font-family="Liberation Sans" font-size="27.2" fill="#000">4</text>
<text x="1308" y="38.54" font-family="Liberation Sans" font-size="28.5" fill="#000">+</text>
<text x="1329.03" y="43.9" font-family="Liberation Sans" font-size="31.8" fill="#000">(</text>
<g transform="translate(1342.6 29.6)" fill="#000"><rect x="0" y="0" width="2.5" height="14.2"/><path d="M0.15 13.6L2.45 13.6C2.2 15.2 1.6 16.2 1.75 17.8L-0.7 18.4C0.3 16.6 0.35 15.2 0.15 13.6Z"/><circle cx="0.45" cy="19.25" r="1.5"/><path d="M1.9 12.0C2.4 14.9 6.6 15.2 9.6 11.4" fill="none" stroke="#000" stroke-width="1.6"/><rect x="9.1" y="0" width="2.8" height="12.6"/><path d="M10.4 12.2C10.9 15.3 13.9 15.3 14.8 10.9" fill="none" stroke="#000" stroke-width="1.5" stroke-linecap="round"/></g>
<text x="1356.99" y="43.7" font-family="Liberation Sans" font-size="31.8" fill="#000">M</text>
<text x="1385.21" y="43.9" font-family="Liberation Sans" font-size="31.8" fill="#000">)</text>
<text x="220.85" y="460.6" font-family="Liberation Serif" font-size="33" fill="#000">δ</text>
<text x="236.55" y="447.2" font-family="Liberation Sans" font-size="23.4">15</text>
<rect x="237.49" y="445.14" width="4.9" height="2.57" fill="#fff"/>
<rect x="244.52" y="445.14" width="4.68" height="2.57" fill="#fff"/>
<text x="262.29" y="461" font-family="Liberation Sans" font-size="31.8" fill="#000">N-NO</text>
<text x="343.27" y="472.03" font-family="Liberation Sans" font-size="27.2" fill="#000">3</text>
<text x="365.93" y="461.2" font-family="Liberation Sans" font-size="31.8" fill="#000">(</text>
<text x="376.04" y="461.2" font-family="Liberation Sans" font-size="31.8" fill="#000">‰</text>
<text x="409.21" y="461.2" font-family="Liberation Sans" font-size="31.8" fill="#000">)</text>
<text x="703.85" y="462.8" font-family="Liberation Serif" font-size="33" fill="#000">δ</text>
<text x="719.15" y="450.1" font-family="Liberation Sans" font-size="23.4">15</text>
<rect x="720.09" y="448.04" width="4.9" height="2.57" fill="#fff"/>
<rect x="727.12" y="448.04" width="4.68" height="2.57" fill="#fff"/>
<text x="745.19" y="463" font-family="Liberation Sans" font-size="31.8" fill="#000">N-NO</text>
<text x="825.64" y="475" font-family="Liberation Sans" font-size="27.2" fill="#000">2</text>
<text x="848.43" y="463.2" font-family="Liberation Sans" font-size="31.8" fill="#000">(</text>
<text x="859.44" y="463.2" font-family="Liberation Sans" font-size="31.8" fill="#000">‰</text>
<text x="892.21" y="463.2" font-family="Liberation Sans" font-size="31.8" fill="#000">)</text>
<text x="1199.25" y="467" font-family="Liberation Serif" font-size="33" fill="#000">δ</text>
<text x="1214.55" y="454.8" font-family="Liberation Sans" font-size="23.4">15</text>
<rect x="1215.49" y="452.74" width="4.9" height="2.57" fill="#fff"/>
<rect x="1222.52" y="452.74" width="4.68" height="2.57" fill="#fff"/>
<text x="1241.09" y="467.2" font-family="Liberation Sans" font-size="31.8" fill="#000">N-NH</text>
<text x="1319.37" y="479.3" font-family="Liberation Sans" font-size="27.2" fill="#000">4</text>
<text x="1342.33" y="467.4" font-family="Liberation Sans" font-size="31.8" fill="#000">(</text>
<text x="1353.34" y="467.4" font-family="Liberation Sans" font-size="31.8" fill="#000">‰</text>
<text x="1386.01" y="467.4" font-family="Liberation Sans" font-size="31.8" fill="#000">)</text>
<text x="217.55" y="868.4" font-family="Liberation Serif" font-size="33" fill="#000">δ</text>
<text x="233.59" y="855.45" font-family="Liberation Sans" font-size="23">18</text>
<rect x="234.51" y="853.43" width="4.82" height="2.53" fill="#fff"/>
<rect x="241.42" y="853.43" width="4.6" height="2.53" fill="#fff"/>
<text x="259.31" y="868.3" font-family="Liberation Sans" font-size="31.8" fill="#000">O-NO</text>
<text x="341.77" y="880.13" font-family="Liberation Sans" font-size="27.2" fill="#000">3</text>
<text x="363.73" y="868.5" font-family="Liberation Sans" font-size="31.8" fill="#000">(</text>
<text x="374.54" y="868.5" font-family="Liberation Sans" font-size="31.8" fill="#000">‰</text>
<text x="407.21" y="868.5" font-family="Liberation Sans" font-size="31.8" fill="#000">)</text>
<text x="706.15" y="875" font-family="Liberation Serif" font-size="33" fill="#000">δ</text>
<text x="721.49" y="861.55" font-family="Liberation Sans" font-size="23">18</text>
<rect x="722.41" y="859.53" width="4.82" height="2.53" fill="#fff"/>
<rect x="729.32" y="859.53" width="4.6" height="2.53" fill="#fff"/>
<text x="747.81" y="874.8" font-family="Liberation Sans" font-size="31.8" fill="#000">O-NO</text>
<text x="829.94" y="886.2" font-family="Liberation Sans" font-size="27.2" fill="#000">2</text>
<text x="852.33" y="875" font-family="Liberation Sans" font-size="31.8" fill="#000">(</text>
<text x="863.34" y="875" font-family="Liberation Sans" font-size="31.8" fill="#000">‰</text>
<text x="896.01" y="875" font-family="Liberation Sans" font-size="31.8" fill="#000">)</text>
<text x="1183.41" y="868" font-family="Liberation Sans" font-size="31.8" fill="#000">O</text>
<text x="1206.84" y="878.2" font-family="Liberation Sans" font-size="27.2" fill="#000">2</text>
<text x="1227.05" y="868.2" font-family="Liberation Sans" font-size="31.5" fill="#000">(normalized)</text>
<text x="188.21" y="1228.5" font-family="Liberation Sans" font-size="27" letter-spacing="-0.3" fill="#000">Time (h)</text>
<text x="679.61" y="1230.6" font-family="Liberation Sans" font-size="27" letter-spacing="-0.3" fill="#000">Time (h)</text>
<text x="1171.11" y="1233.5" font-family="Liberation Sans" font-size="27" letter-spacing="-0.3" fill="#000">Time (h)</text>
</svg>
</body></html>
